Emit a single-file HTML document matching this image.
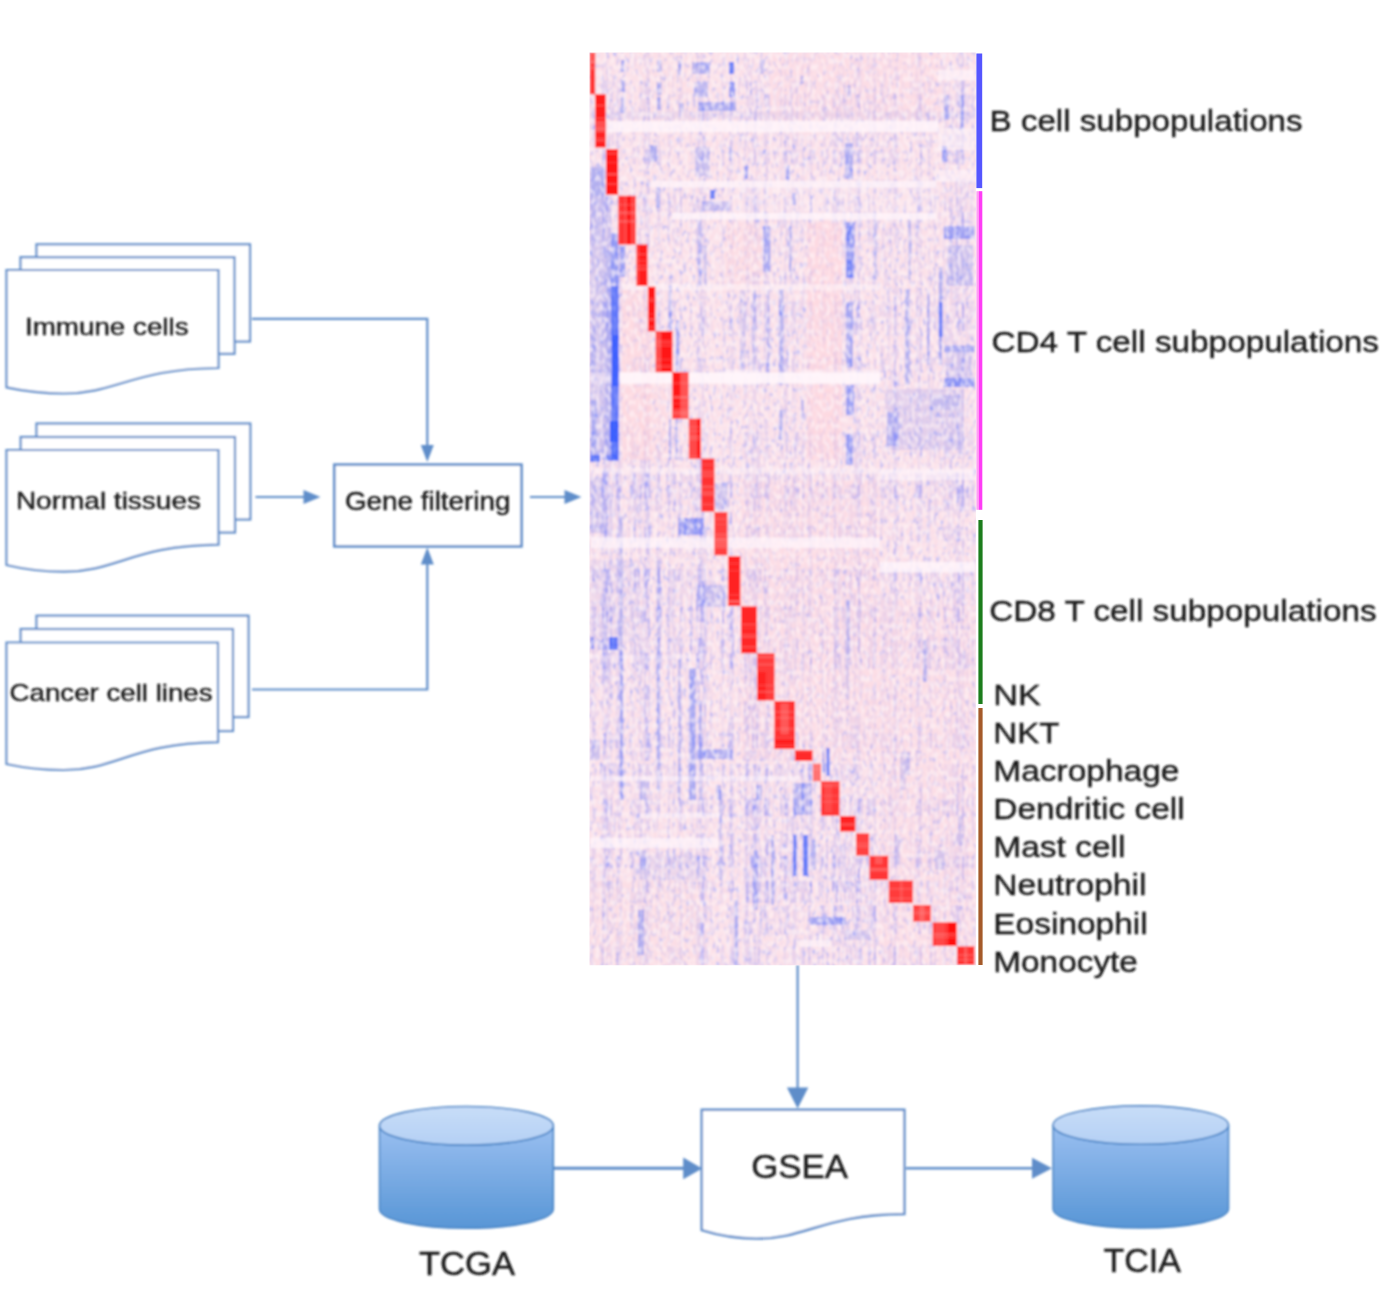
<!DOCTYPE html>
<html lang="en"><head><meta charset="utf-8"><title>Immune cell gene set workflow</title>
<style>html,body{margin:0;padding:0;background:#fff}body{width:1380px;height:1290px;overflow:hidden}svg{display:block}text{font-family:"Liberation Sans", Arial, Helvetica, sans-serif;fill:#161616;stroke:#161616;stroke-width:0.35px}</style></head><body>
<svg width="1380" height="1290" viewBox="0 0 1380 1290">
<defs>
<linearGradient id="cylBody" x1="0" y1="0" x2="0" y2="1"><stop offset="0" stop-color="#9abff0"/><stop offset="1" stop-color="#5896d6"/></linearGradient>
<linearGradient id="cylTop" x1="0" y1="0" x2="0" y2="1"><stop offset="0" stop-color="#c8ddf8"/><stop offset="1" stop-color="#b4d0f4"/></linearGradient>
<filter id="soft" x="-2%" y="-2%" width="104%" height="104%"><feGaussianBlur stdDeviation="0.8"/></filter>
<filter id="soft2" x="-50%" y="-1%" width="200%" height="102%"><feGaussianBlur stdDeviation="0.6"/></filter>
</defs>
<rect width="1380" height="1290" fill="#ffffff"/>
<g id="flow" filter="url(#soft)">
<rect x="36.5" y="244.3" width="213.5" height="97.2" fill="#fff" stroke="#5f8dc9" stroke-width="2.2"/>
<rect x="20.5" y="257.2" width="214.0" height="96.6" fill="#fff" stroke="#5f8dc9" stroke-width="2.2"/>
<path d="M6.5 270.0 H218.5 V368.0 C133.7 368.5 116.7 393.5 63.7 393.5 C36.2 393.5 19.2 390.1 6.5 387.4 Z" fill="#fff" stroke="#5f8dc9" stroke-width="2.2" stroke-linejoin="miter"/>
<rect x="36.5" y="423.5" width="213.8" height="96.0" fill="#fff" stroke="#5f8dc9" stroke-width="2.2"/>
<rect x="20.7" y="437.0" width="214.3" height="95.5" fill="#fff" stroke="#5f8dc9" stroke-width="2.2"/>
<path d="M6.5 450.0 H218.5 V544.6 C133.7 545.1 116.7 571.7 63.7 571.7 C36.2 571.7 19.2 568.0 6.5 565.0 Z" fill="#fff" stroke="#5f8dc9" stroke-width="2.2" stroke-linejoin="miter"/>
<rect x="36.5" y="615.7" width="212.0" height="101.3" fill="#fff" stroke="#5f8dc9" stroke-width="2.2"/>
<rect x="20.7" y="629.0" width="212.3" height="102.0" fill="#fff" stroke="#5f8dc9" stroke-width="2.2"/>
<path d="M6.5 642.5 H218.0 V742.2 C133.4 742.7 116.5 770.0 63.6 770.0 C36.1 770.0 19.2 766.7 6.5 764.0 Z" fill="#fff" stroke="#5f8dc9" stroke-width="2.2" stroke-linejoin="miter"/>
<path d="M252 318.8 H427.3 V446" fill="none" stroke="#5f8dc9" stroke-width="2.2"/>
<path d="M427.3 462.0 L420.8 445.0 L433.8 445.0 Z" fill="#5f8dc9"/>
<path d="M255.5 497 H305" fill="none" stroke="#5f8dc9" stroke-width="2.2"/>
<path d="M320.5 497.0 L303.5 490.0 L303.5 504.0 Z" fill="#5f8dc9"/>
<path d="M252 689.5 H427.3 V563" fill="none" stroke="#5f8dc9" stroke-width="2.2"/>
<path d="M427.3 547.5 L420.8 564.5 L433.8 564.5 Z" fill="#5f8dc9"/>
<path d="M530 497 H566" fill="none" stroke="#5f8dc9" stroke-width="2.2"/>
<path d="M581.5 497.0 L564.5 490.0 L564.5 504.0 Z" fill="#5f8dc9"/>
<rect x="334.3" y="464.6" width="187.2" height="81.8" fill="#fff" stroke="#5f8dc9" stroke-width="2.6"/>
<path d="M797.6 965 V1090" fill="none" stroke="#5f8dc9" stroke-width="2.2"/>
<path d="M797.6 1108.6 L786.9 1087.6 L808.3 1087.6 Z" fill="#5f8dc9"/>
<path d="M701.7 1109.7 H904.4 V1214.0 C823.3 1214.5 807.1 1238.6 756.4 1238.6 C730.1 1238.6 713.9 1234.0 701.7 1230.2 Z" fill="#fff" stroke="#5f8dc9" stroke-width="2.4"/>
<path d="M554 1168.3 H685" fill="none" stroke="#5f8dc9" stroke-width="3.0"/>
<path d="M702.2 1168.4 L683.2 1157.6 L683.2 1179.2 Z" fill="#5f8dc9"/>
<path d="M906 1168.3 H1034" fill="none" stroke="#5f8dc9" stroke-width="2.4"/>
<path d="M1052.0 1168.3 L1032.0 1157.8 L1032.0 1178.8 Z" fill="#5f8dc9"/>
<path d="M379.5 1125.8 V1209.0 A86.9 19.3 0 0 0 553.3 1209.0 V1125.8 A86.9 19.3 0 0 1 379.5 1125.8 Z" fill="url(#cylBody)" stroke="#4a85c6" stroke-width="1.6"/>
<ellipse cx="466.4" cy="1125.8" rx="86.9" ry="19.3" fill="url(#cylTop)" stroke="#4a85c6" stroke-width="1.6"/>
<path d="M1053.1 1125.1 V1208.8 A87.7 19.2 0 0 0 1228.5 1208.8 V1125.1 A87.7 19.2 0 0 1 1053.1 1125.1 Z" fill="url(#cylBody)" stroke="#4a85c6" stroke-width="1.6"/>
<ellipse cx="1140.8" cy="1125.1" rx="87.7" ry="19.2" fill="url(#cylTop)" stroke="#4a85c6" stroke-width="1.6"/>
</g>
<g id="heatmap">
<defs><filter id="hmNoise" x="0" y="0" width="100%" height="100%"><feTurbulence type="fractalNoise" baseFrequency="0.30 0.16" numOctaves="2" seed="3" result="n"/><feColorMatrix in="n" type="matrix" values="0 0 0 0 0.30  0 0 0 0 0.36  0 0 0 0 1  0 0 2.4 0 -1.30"/></filter><filter id="hmNoiseR" x="0" y="0" width="100%" height="100%"><feTurbulence type="fractalNoise" baseFrequency="0.3 0.2" numOctaves="2" seed="11" result="n"/><feColorMatrix in="n" type="matrix" values="0 0 0 0 1  0 0 0 0 0.72  0 0 0 0 0.76  0 2.4 0 0 -1.05"/></filter><filter id="hmBreak" x="0" y="0" width="100%" height="100%"><feTurbulence type="fractalNoise" baseFrequency="0.26 0.17" numOctaves="1" seed="23" result="n"/><feColorMatrix in="n" type="matrix" values="0 0 0 0 1  0 0 0 0 0.90  0 0 0 0 0.93  3.2 0 0 0 -1.35"/></filter><filter id="hmBlur" x="-2%" y="-2%" width="104%" height="104%"><feGaussianBlur stdDeviation="1.1"/></filter><clipPath id="hmClip"><rect x="589.5" y="52.6" width="386.4" height="912.6"/></clipPath><filter id="hmEdge" x="-2%" y="-1%" width="104%" height="102%"><feGaussianBlur stdDeviation="0.5"/></filter></defs>
<g filter="url(#hmEdge)"><g clip-path="url(#hmClip)"><g filter="url(#hmBlur)">
<rect x="585.7" y="48.8" width="393.7" height="920.2" fill="#fbe1e9"/>
<rect x="585.7" y="48.8" width="393.7" height="920.2" filter="url(#hmNoise)"/>
<rect x="585.7" y="48.8" width="393.7" height="920.2" filter="url(#hmNoiseR)" opacity="0.5"/>
<path d="M606 52.6h2v13.9h-2zM616 52.6h2v13.9h-2zM634 52.6h2v13.9h-2zM646 52.6h2v13.9h-2zM648 52.6h2v13.9h-2zM658 52.6h2v13.9h-2zM680 52.6h2v13.9h-2zM696 52.6h2v13.9h-2zM702 52.6h2v13.9h-2zM722 52.6h2v13.9h-2zM752 52.6h2v13.9h-2zM760 52.6h2v13.9h-2zM768 52.6h2v13.9h-2zM786 52.6h2v13.9h-2zM792 52.6h2v13.9h-2zM796 52.6h2v13.9h-2zM802 52.6h2v13.9h-2zM810 52.6h2v13.9h-2zM826 52.6h2v13.9h-2zM850 52.6h2v13.9h-2zM854 52.6h2v13.9h-2zM856 52.6h2v13.9h-2zM858 52.6h2v13.9h-2zM860 52.6h2v13.9h-2zM868 52.6h2v13.9h-2zM872 52.6h2v13.9h-2zM888 52.6h2v13.9h-2zM896 52.6h2v13.9h-2zM920 52.6h2v13.9h-2zM958 52.6h2v13.9h-2zM960 52.6h2v13.9h-2zM966 52.6h2v13.9h-2zM602 66.5h2v13.9h-2zM608 66.5h2v13.9h-2zM648 66.5h2v13.9h-2zM660 66.5h2v13.9h-2zM668 66.5h2v13.9h-2zM680 66.5h2v13.9h-2zM696 66.5h2v13.9h-2zM698 66.5h2v13.9h-2zM700 66.5h2v13.9h-2zM722 66.5h2v13.9h-2zM730 66.5h2v13.9h-2zM746 66.5h2v13.9h-2zM748 66.5h2v13.9h-2zM750 66.5h2v13.9h-2zM766 66.5h2v13.9h-2zM768 66.5h2v13.9h-2zM784 66.5h2v13.9h-2zM802 66.5h2v13.9h-2zM838 66.5h2v13.9h-2zM842 66.5h2v13.9h-2zM860 66.5h2v13.9h-2zM868 66.5h2v13.9h-2zM872 66.5h2v13.9h-2zM874 66.5h2v13.9h-2zM884 66.5h2v13.9h-2zM916 66.5h2v13.9h-2zM942 66.5h2v13.9h-2zM944 66.5h2v13.9h-2zM612 80.4h2v13.9h-2zM616 80.4h2v13.9h-2zM630 80.4h2v13.9h-2zM640 80.4h2v13.9h-2zM642 80.4h2v13.9h-2zM656 80.4h2v13.9h-2zM672 80.4h2v13.9h-2zM696 80.4h2v13.9h-2zM702 80.4h2v13.9h-2zM706 80.4h2v13.9h-2zM730 80.4h2v13.9h-2zM732 80.4h2v13.9h-2zM738 80.4h2v13.9h-2zM754 80.4h2v13.9h-2zM766 80.4h2v13.9h-2zM804 80.4h2v13.9h-2zM834 80.4h2v13.9h-2zM844 80.4h2v13.9h-2zM870 80.4h2v13.9h-2zM884 80.4h2v13.9h-2zM902 80.4h2v13.9h-2zM916 80.4h2v13.9h-2zM934 80.4h2v13.9h-2zM942 80.4h2v13.9h-2zM948 80.4h2v13.9h-2zM958 80.4h2v13.9h-2zM972 80.4h2v13.9h-2zM590 94.3h2v13.3h-2zM592 94.3h2v13.3h-2zM608 94.3h2v13.3h-2zM612 94.3h2v13.3h-2zM630 94.3h2v13.3h-2zM642 94.3h2v13.3h-2zM656 94.3h2v13.3h-2zM666 94.3h2v13.3h-2zM686 94.3h2v13.3h-2zM692 94.3h2v13.3h-2zM702 94.3h2v13.3h-2zM704 94.3h2v13.3h-2zM746 94.3h2v13.3h-2zM750 94.3h2v13.3h-2zM752 94.3h2v13.3h-2zM758 94.3h2v13.3h-2zM760 94.3h2v13.3h-2zM786 94.3h2v13.3h-2zM790 94.3h2v13.3h-2zM800 94.3h2v13.3h-2zM804 94.3h2v13.3h-2zM810 94.3h2v13.3h-2zM816 94.3h2v13.3h-2zM820 94.3h2v13.3h-2zM840 94.3h2v13.3h-2zM854 94.3h2v13.3h-2zM866 94.3h2v13.3h-2zM868 94.3h2v13.3h-2zM872 94.3h2v13.3h-2zM880 94.3h2v13.3h-2zM886 94.3h2v13.3h-2zM890 94.3h2v13.3h-2zM892 94.3h2v13.3h-2zM896 94.3h2v13.3h-2zM916 94.3h2v13.3h-2zM938 94.3h2v13.3h-2zM942 94.3h2v13.3h-2zM954 94.3h2v13.3h-2zM616 107.6h2v13.3h-2zM630 107.6h2v13.3h-2zM638 107.6h2v13.3h-2zM644 107.6h2v13.3h-2zM646 107.6h2v13.3h-2zM656 107.6h2v13.3h-2zM660 107.6h2v13.3h-2zM666 107.6h2v13.3h-2zM678 107.6h2v13.3h-2zM680 107.6h2v13.3h-2zM686 107.6h2v13.3h-2zM692 107.6h2v13.3h-2zM704 107.6h2v13.3h-2zM706 107.6h2v13.3h-2zM710 107.6h2v13.3h-2zM730 107.6h2v13.3h-2zM744 107.6h2v13.3h-2zM746 107.6h2v13.3h-2zM748 107.6h2v13.3h-2zM750 107.6h2v13.3h-2zM802 107.6h2v13.3h-2zM820 107.6h2v13.3h-2zM824 107.6h2v13.3h-2zM832 107.6h2v13.3h-2zM840 107.6h2v13.3h-2zM846 107.6h2v13.3h-2zM848 107.6h2v13.3h-2zM852 107.6h2v13.3h-2zM866 107.6h2v13.3h-2zM870 107.6h2v13.3h-2zM872 107.6h2v13.3h-2zM880 107.6h2v13.3h-2zM884 107.6h2v13.3h-2zM886 107.6h2v13.3h-2zM896 107.6h2v13.3h-2zM900 107.6h2v13.3h-2zM902 107.6h2v13.3h-2zM914 107.6h2v13.3h-2zM926 107.6h2v13.3h-2zM930 107.6h2v13.3h-2zM932 107.6h2v13.3h-2zM934 107.6h2v13.3h-2zM956 107.6h2v13.3h-2zM964 107.6h2v13.3h-2zM968 107.6h2v13.3h-2zM594 120.9h2v13.3h-2zM612 120.9h2v13.3h-2zM632 120.9h2v13.3h-2zM634 120.9h2v13.3h-2zM642 120.9h2v13.3h-2zM646 120.9h2v13.3h-2zM648 120.9h2v13.3h-2zM668 120.9h2v13.3h-2zM690 120.9h2v13.3h-2zM704 120.9h2v13.3h-2zM732 120.9h2v13.3h-2zM744 120.9h2v13.3h-2zM746 120.9h2v13.3h-2zM750 120.9h2v13.3h-2zM764 120.9h2v13.3h-2zM766 120.9h2v13.3h-2zM780 120.9h2v13.3h-2zM784 120.9h2v13.3h-2zM788 120.9h2v13.3h-2zM790 120.9h2v13.3h-2zM796 120.9h2v13.3h-2zM826 120.9h2v13.3h-2zM840 120.9h2v13.3h-2zM846 120.9h2v13.3h-2zM848 120.9h2v13.3h-2zM850 120.9h2v13.3h-2zM870 120.9h2v13.3h-2zM872 120.9h2v13.3h-2zM884 120.9h2v13.3h-2zM886 120.9h2v13.3h-2zM890 120.9h2v13.3h-2zM892 120.9h2v13.3h-2zM910 120.9h2v13.3h-2zM920 120.9h2v13.3h-2zM930 120.9h2v13.3h-2zM934 120.9h2v13.3h-2zM946 120.9h2v13.3h-2zM950 120.9h2v13.3h-2zM592 134.2h2v13.3h-2zM594 134.2h2v13.3h-2zM608 134.2h2v13.3h-2zM610 134.2h2v13.3h-2zM612 134.2h2v13.3h-2zM618 134.2h2v13.3h-2zM620 134.2h2v13.3h-2zM640 134.2h2v13.3h-2zM644 134.2h2v13.3h-2zM646 134.2h2v13.3h-2zM656 134.2h2v13.3h-2zM658 134.2h2v13.3h-2zM690 134.2h2v13.3h-2zM696 134.2h2v13.3h-2zM700 134.2h2v13.3h-2zM722 134.2h2v13.3h-2zM738 134.2h2v13.3h-2zM756 134.2h2v13.3h-2zM766 134.2h2v13.3h-2zM788 134.2h2v13.3h-2zM794 134.2h2v13.3h-2zM800 134.2h2v13.3h-2zM802 134.2h2v13.3h-2zM822 134.2h2v13.3h-2zM824 134.2h2v13.3h-2zM832 134.2h2v13.3h-2zM838 134.2h2v13.3h-2zM846 134.2h2v13.3h-2zM848 134.2h2v13.3h-2zM852 134.2h2v13.3h-2zM866 134.2h2v13.3h-2zM870 134.2h2v13.3h-2zM874 134.2h2v13.3h-2zM882 134.2h2v13.3h-2zM884 134.2h2v13.3h-2zM888 134.2h2v13.3h-2zM892 134.2h2v13.3h-2zM896 134.2h2v13.3h-2zM910 134.2h2v13.3h-2zM916 134.2h2v13.3h-2zM918 134.2h2v13.3h-2zM946 134.2h2v13.3h-2zM952 134.2h2v13.3h-2zM954 134.2h2v13.3h-2zM966 134.2h2v13.3h-2zM970 134.2h2v13.3h-2zM594 149.3h2v15.1h-2zM620 149.3h2v15.1h-2zM632 149.3h2v15.1h-2zM638 149.3h2v15.1h-2zM656 149.3h2v15.1h-2zM678 149.3h2v15.1h-2zM692 149.3h2v15.1h-2zM698 149.3h2v15.1h-2zM706 149.3h2v15.1h-2zM738 149.3h2v15.1h-2zM748 149.3h2v15.1h-2zM750 149.3h2v15.1h-2zM752 149.3h2v15.1h-2zM768 149.3h2v15.1h-2zM782 149.3h2v15.1h-2zM790 149.3h2v15.1h-2zM812 149.3h2v15.1h-2zM824 149.3h2v15.1h-2zM852 149.3h2v15.1h-2zM856 149.3h2v15.1h-2zM866 149.3h2v15.1h-2zM868 149.3h2v15.1h-2zM872 149.3h2v15.1h-2zM884 149.3h2v15.1h-2zM888 149.3h2v15.1h-2zM896 149.3h2v15.1h-2zM910 149.3h2v15.1h-2zM946 149.3h2v15.1h-2zM948 149.3h2v15.1h-2zM950 149.3h2v15.1h-2zM954 149.3h2v15.1h-2zM604 164.4h2v15.1h-2zM658 164.4h2v15.1h-2zM668 164.4h2v15.1h-2zM702 164.4h2v15.1h-2zM728 164.4h2v15.1h-2zM756 164.4h2v15.1h-2zM780 164.4h2v15.1h-2zM786 164.4h2v15.1h-2zM802 164.4h2v15.1h-2zM822 164.4h2v15.1h-2zM838 164.4h2v15.1h-2zM868 164.4h2v15.1h-2zM894 164.4h2v15.1h-2zM916 164.4h2v15.1h-2zM920 164.4h2v15.1h-2zM928 164.4h2v15.1h-2zM930 164.4h2v15.1h-2zM944 164.4h2v15.1h-2zM946 164.4h2v15.1h-2zM590 179.6h2v15.1h-2zM640 179.6h2v15.1h-2zM642 179.6h2v15.1h-2zM658 179.6h2v15.1h-2zM692 179.6h2v15.1h-2zM698 179.6h2v15.1h-2zM704 179.6h2v15.1h-2zM746 179.6h2v15.1h-2zM748 179.6h2v15.1h-2zM750 179.6h2v15.1h-2zM754 179.6h2v15.1h-2zM756 179.6h2v15.1h-2zM784 179.6h2v15.1h-2zM790 179.6h2v15.1h-2zM794 179.6h2v15.1h-2zM832 179.6h2v15.1h-2zM836 179.6h2v15.1h-2zM842 179.6h2v15.1h-2zM850 179.6h2v15.1h-2zM854 179.6h2v15.1h-2zM866 179.6h2v15.1h-2zM872 179.6h2v15.1h-2zM880 179.6h2v15.1h-2zM882 179.6h2v15.1h-2zM884 179.6h2v15.1h-2zM886 179.6h2v15.1h-2zM890 179.6h2v15.1h-2zM892 179.6h2v15.1h-2zM930 179.6h2v15.1h-2zM934 179.6h2v15.1h-2zM942 179.6h2v15.1h-2zM950 179.6h2v15.1h-2zM954 179.6h2v15.1h-2zM964 179.6h2v15.1h-2zM968 179.6h2v15.1h-2zM972 179.6h2v15.1h-2zM612 195.8h2v16.2h-2zM616 195.8h2v16.2h-2zM638 195.8h2v16.2h-2zM656 195.8h2v16.2h-2zM672 195.8h2v16.2h-2zM690 195.8h2v16.2h-2zM692 195.8h2v16.2h-2zM700 195.8h2v16.2h-2zM758 195.8h2v16.2h-2zM778 195.8h2v16.2h-2zM786 195.8h2v16.2h-2zM788 195.8h2v16.2h-2zM790 195.8h2v16.2h-2zM794 195.8h2v16.2h-2zM798 195.8h2v16.2h-2zM802 195.8h2v16.2h-2zM824 195.8h2v16.2h-2zM840 195.8h2v16.2h-2zM860 195.8h2v16.2h-2zM874 195.8h2v16.2h-2zM886 195.8h2v16.2h-2zM888 195.8h2v16.2h-2zM896 195.8h2v16.2h-2zM926 195.8h2v16.2h-2zM928 195.8h2v16.2h-2zM952 195.8h2v16.2h-2zM958 195.8h2v16.2h-2zM962 195.8h2v16.2h-2zM964 195.8h2v16.2h-2zM966 195.8h2v16.2h-2zM972 195.8h2v16.2h-2zM590 212.0h2v16.2h-2zM592 212.0h2v16.2h-2zM604 212.0h2v16.2h-2zM616 212.0h2v16.2h-2zM644 212.0h2v16.2h-2zM648 212.0h2v16.2h-2zM656 212.0h2v16.2h-2zM674 212.0h2v16.2h-2zM692 212.0h2v16.2h-2zM700 212.0h2v16.2h-2zM702 212.0h2v16.2h-2zM704 212.0h2v16.2h-2zM746 212.0h2v16.2h-2zM760 212.0h2v16.2h-2zM778 212.0h2v16.2h-2zM782 212.0h2v16.2h-2zM786 212.0h2v16.2h-2zM792 212.0h2v16.2h-2zM794 212.0h2v16.2h-2zM800 212.0h2v16.2h-2zM804 212.0h2v16.2h-2zM808 212.0h2v16.2h-2zM812 212.0h2v16.2h-2zM822 212.0h2v16.2h-2zM836 212.0h2v16.2h-2zM840 212.0h2v16.2h-2zM842 212.0h2v16.2h-2zM856 212.0h2v16.2h-2zM866 212.0h2v16.2h-2zM890 212.0h2v16.2h-2zM892 212.0h2v16.2h-2zM894 212.0h2v16.2h-2zM896 212.0h2v16.2h-2zM908 212.0h2v16.2h-2zM914 212.0h2v16.2h-2zM932 212.0h2v16.2h-2zM934 212.0h2v16.2h-2zM938 212.0h2v16.2h-2zM944 212.0h2v16.2h-2zM956 212.0h2v16.2h-2zM968 212.0h2v16.2h-2zM970 212.0h2v16.2h-2zM972 212.0h2v16.2h-2zM604 228.3h2v16.2h-2zM640 228.3h2v16.2h-2zM644 228.3h2v16.2h-2zM646 228.3h2v16.2h-2zM672 228.3h2v16.2h-2zM680 228.3h2v16.2h-2zM700 228.3h2v16.2h-2zM746 228.3h2v16.2h-2zM748 228.3h2v16.2h-2zM754 228.3h2v16.2h-2zM758 228.3h2v16.2h-2zM764 228.3h2v16.2h-2zM768 228.3h2v16.2h-2zM792 228.3h2v16.2h-2zM796 228.3h2v16.2h-2zM818 228.3h2v16.2h-2zM820 228.3h2v16.2h-2zM824 228.3h2v16.2h-2zM836 228.3h2v16.2h-2zM842 228.3h2v16.2h-2zM854 228.3h2v16.2h-2zM870 228.3h2v16.2h-2zM886 228.3h2v16.2h-2zM898 228.3h2v16.2h-2zM914 228.3h2v16.2h-2zM918 228.3h2v16.2h-2zM920 228.3h2v16.2h-2zM942 228.3h2v16.2h-2zM944 228.3h2v16.2h-2zM952 228.3h2v16.2h-2zM960 228.3h2v16.2h-2zM962 228.3h2v16.2h-2zM964 228.3h2v16.2h-2zM968 228.3h2v16.2h-2zM590 244.5h2v13.8h-2zM592 244.5h2v13.8h-2zM600 244.5h2v13.8h-2zM602 244.5h2v13.8h-2zM616 244.5h2v13.8h-2zM634 244.5h2v13.8h-2zM648 244.5h2v13.8h-2zM660 244.5h2v13.8h-2zM674 244.5h2v13.8h-2zM680 244.5h2v13.8h-2zM690 244.5h2v13.8h-2zM730 244.5h2v13.8h-2zM744 244.5h2v13.8h-2zM746 244.5h2v13.8h-2zM748 244.5h2v13.8h-2zM756 244.5h2v13.8h-2zM760 244.5h2v13.8h-2zM766 244.5h2v13.8h-2zM778 244.5h2v13.8h-2zM784 244.5h2v13.8h-2zM804 244.5h2v13.8h-2zM808 244.5h2v13.8h-2zM820 244.5h2v13.8h-2zM838 244.5h2v13.8h-2zM840 244.5h2v13.8h-2zM842 244.5h2v13.8h-2zM850 244.5h2v13.8h-2zM852 244.5h2v13.8h-2zM854 244.5h2v13.8h-2zM872 244.5h2v13.8h-2zM874 244.5h2v13.8h-2zM880 244.5h2v13.8h-2zM882 244.5h2v13.8h-2zM884 244.5h2v13.8h-2zM888 244.5h2v13.8h-2zM890 244.5h2v13.8h-2zM910 244.5h2v13.8h-2zM918 244.5h2v13.8h-2zM942 244.5h2v13.8h-2zM950 244.5h2v13.8h-2zM952 244.5h2v13.8h-2zM972 244.5h2v13.8h-2zM592 258.3h2v13.8h-2zM608 258.3h2v13.8h-2zM612 258.3h2v13.8h-2zM616 258.3h2v13.8h-2zM620 258.3h2v13.8h-2zM658 258.3h2v13.8h-2zM660 258.3h2v13.8h-2zM696 258.3h2v13.8h-2zM702 258.3h2v13.8h-2zM722 258.3h2v13.8h-2zM728 258.3h2v13.8h-2zM732 258.3h2v13.8h-2zM756 258.3h2v13.8h-2zM764 258.3h2v13.8h-2zM768 258.3h2v13.8h-2zM784 258.3h2v13.8h-2zM790 258.3h2v13.8h-2zM794 258.3h2v13.8h-2zM826 258.3h2v13.8h-2zM854 258.3h2v13.8h-2zM856 258.3h2v13.8h-2zM860 258.3h2v13.8h-2zM884 258.3h2v13.8h-2zM890 258.3h2v13.8h-2zM916 258.3h2v13.8h-2zM918 258.3h2v13.8h-2zM928 258.3h2v13.8h-2zM934 258.3h2v13.8h-2zM944 258.3h2v13.8h-2zM950 258.3h2v13.8h-2zM958 258.3h2v13.8h-2zM966 258.3h2v13.8h-2zM600 272.0h2v13.8h-2zM606 272.0h2v13.8h-2zM612 272.0h2v13.8h-2zM668 272.0h2v13.8h-2zM670 272.0h2v13.8h-2zM672 272.0h2v13.8h-2zM702 272.0h2v13.8h-2zM704 272.0h2v13.8h-2zM728 272.0h2v13.8h-2zM744 272.0h2v13.8h-2zM756 272.0h2v13.8h-2zM768 272.0h2v13.8h-2zM780 272.0h2v13.8h-2zM786 272.0h2v13.8h-2zM792 272.0h2v13.8h-2zM794 272.0h2v13.8h-2zM812 272.0h2v13.8h-2zM838 272.0h2v13.8h-2zM842 272.0h2v13.8h-2zM844 272.0h2v13.8h-2zM846 272.0h2v13.8h-2zM856 272.0h2v13.8h-2zM862 272.0h2v13.8h-2zM868 272.0h2v13.8h-2zM886 272.0h2v13.8h-2zM894 272.0h2v13.8h-2zM918 272.0h2v13.8h-2zM928 272.0h2v13.8h-2zM938 272.0h2v13.8h-2zM950 272.0h2v13.8h-2zM952 272.0h2v13.8h-2zM962 272.0h2v13.8h-2zM966 272.0h2v13.8h-2zM968 272.0h2v13.8h-2zM970 272.0h2v13.8h-2zM600 286.7h2v14.9h-2zM620 286.7h2v14.9h-2zM630 286.7h2v14.9h-2zM646 286.7h2v14.9h-2zM660 286.7h2v14.9h-2zM680 286.7h2v14.9h-2zM698 286.7h2v14.9h-2zM700 286.7h2v14.9h-2zM702 286.7h2v14.9h-2zM704 286.7h2v14.9h-2zM728 286.7h2v14.9h-2zM744 286.7h2v14.9h-2zM758 286.7h2v14.9h-2zM764 286.7h2v14.9h-2zM786 286.7h2v14.9h-2zM792 286.7h2v14.9h-2zM804 286.7h2v14.9h-2zM822 286.7h2v14.9h-2zM834 286.7h2v14.9h-2zM842 286.7h2v14.9h-2zM846 286.7h2v14.9h-2zM856 286.7h2v14.9h-2zM872 286.7h2v14.9h-2zM874 286.7h2v14.9h-2zM888 286.7h2v14.9h-2zM918 286.7h2v14.9h-2zM920 286.7h2v14.9h-2zM928 286.7h2v14.9h-2zM942 286.7h2v14.9h-2zM946 286.7h2v14.9h-2zM950 286.7h2v14.9h-2zM952 286.7h2v14.9h-2zM954 286.7h2v14.9h-2zM964 286.7h2v14.9h-2zM966 286.7h2v14.9h-2zM970 286.7h2v14.9h-2zM594 301.6h2v14.9h-2zM600 301.6h2v14.9h-2zM612 301.6h2v14.9h-2zM628 301.6h2v14.9h-2zM646 301.6h2v14.9h-2zM660 301.6h2v14.9h-2zM690 301.6h2v14.9h-2zM728 301.6h2v14.9h-2zM738 301.6h2v14.9h-2zM766 301.6h2v14.9h-2zM778 301.6h2v14.9h-2zM780 301.6h2v14.9h-2zM782 301.6h2v14.9h-2zM784 301.6h2v14.9h-2zM786 301.6h2v14.9h-2zM790 301.6h2v14.9h-2zM794 301.6h2v14.9h-2zM796 301.6h2v14.9h-2zM798 301.6h2v14.9h-2zM800 301.6h2v14.9h-2zM820 301.6h2v14.9h-2zM824 301.6h2v14.9h-2zM826 301.6h2v14.9h-2zM838 301.6h2v14.9h-2zM840 301.6h2v14.9h-2zM846 301.6h2v14.9h-2zM868 301.6h2v14.9h-2zM870 301.6h2v14.9h-2zM874 301.6h2v14.9h-2zM880 301.6h2v14.9h-2zM882 301.6h2v14.9h-2zM886 301.6h2v14.9h-2zM890 301.6h2v14.9h-2zM918 301.6h2v14.9h-2zM928 301.6h2v14.9h-2zM930 301.6h2v14.9h-2zM932 301.6h2v14.9h-2zM944 301.6h2v14.9h-2zM946 301.6h2v14.9h-2zM950 301.6h2v14.9h-2zM952 301.6h2v14.9h-2zM954 301.6h2v14.9h-2zM958 301.6h2v14.9h-2zM964 301.6h2v14.9h-2zM968 301.6h2v14.9h-2zM972 301.6h2v14.9h-2zM594 316.4h2v14.9h-2zM600 316.4h2v14.9h-2zM610 316.4h2v14.9h-2zM612 316.4h2v14.9h-2zM636 316.4h2v14.9h-2zM640 316.4h2v14.9h-2zM644 316.4h2v14.9h-2zM656 316.4h2v14.9h-2zM660 316.4h2v14.9h-2zM670 316.4h2v14.9h-2zM680 316.4h2v14.9h-2zM706 316.4h2v14.9h-2zM710 316.4h2v14.9h-2zM738 316.4h2v14.9h-2zM748 316.4h2v14.9h-2zM756 316.4h2v14.9h-2zM758 316.4h2v14.9h-2zM782 316.4h2v14.9h-2zM784 316.4h2v14.9h-2zM786 316.4h2v14.9h-2zM790 316.4h2v14.9h-2zM798 316.4h2v14.9h-2zM802 316.4h2v14.9h-2zM804 316.4h2v14.9h-2zM808 316.4h2v14.9h-2zM818 316.4h2v14.9h-2zM832 316.4h2v14.9h-2zM840 316.4h2v14.9h-2zM842 316.4h2v14.9h-2zM844 316.4h2v14.9h-2zM846 316.4h2v14.9h-2zM868 316.4h2v14.9h-2zM870 316.4h2v14.9h-2zM882 316.4h2v14.9h-2zM886 316.4h2v14.9h-2zM888 316.4h2v14.9h-2zM890 316.4h2v14.9h-2zM896 316.4h2v14.9h-2zM902 316.4h2v14.9h-2zM904 316.4h2v14.9h-2zM908 316.4h2v14.9h-2zM914 316.4h2v14.9h-2zM918 316.4h2v14.9h-2zM926 316.4h2v14.9h-2zM928 316.4h2v14.9h-2zM930 316.4h2v14.9h-2zM936 316.4h2v14.9h-2zM956 316.4h2v14.9h-2zM968 316.4h2v14.9h-2zM592 331.3h2v13.6h-2zM610 331.3h2v13.6h-2zM612 331.3h2v13.6h-2zM632 331.3h2v13.6h-2zM634 331.3h2v13.6h-2zM640 331.3h2v13.6h-2zM646 331.3h2v13.6h-2zM678 331.3h2v13.6h-2zM696 331.3h2v13.6h-2zM698 331.3h2v13.6h-2zM750 331.3h2v13.6h-2zM760 331.3h2v13.6h-2zM768 331.3h2v13.6h-2zM782 331.3h2v13.6h-2zM788 331.3h2v13.6h-2zM792 331.3h2v13.6h-2zM804 331.3h2v13.6h-2zM810 331.3h2v13.6h-2zM822 331.3h2v13.6h-2zM842 331.3h2v13.6h-2zM870 331.3h2v13.6h-2zM888 331.3h2v13.6h-2zM896 331.3h2v13.6h-2zM910 331.3h2v13.6h-2zM918 331.3h2v13.6h-2zM928 331.3h2v13.6h-2zM942 331.3h2v13.6h-2zM946 331.3h2v13.6h-2zM948 331.3h2v13.6h-2zM952 331.3h2v13.6h-2zM954 331.3h2v13.6h-2zM956 331.3h2v13.6h-2zM960 331.3h2v13.6h-2zM966 331.3h2v13.6h-2zM968 331.3h2v13.6h-2zM590 344.9h2v13.6h-2zM594 344.9h2v13.6h-2zM600 344.9h2v13.6h-2zM602 344.9h2v13.6h-2zM606 344.9h2v13.6h-2zM608 344.9h2v13.6h-2zM616 344.9h2v13.6h-2zM618 344.9h2v13.6h-2zM642 344.9h2v13.6h-2zM648 344.9h2v13.6h-2zM674 344.9h2v13.6h-2zM696 344.9h2v13.6h-2zM700 344.9h2v13.6h-2zM722 344.9h2v13.6h-2zM730 344.9h2v13.6h-2zM732 344.9h2v13.6h-2zM748 344.9h2v13.6h-2zM768 344.9h2v13.6h-2zM786 344.9h2v13.6h-2zM802 344.9h2v13.6h-2zM810 344.9h2v13.6h-2zM834 344.9h2v13.6h-2zM840 344.9h2v13.6h-2zM844 344.9h2v13.6h-2zM846 344.9h2v13.6h-2zM856 344.9h2v13.6h-2zM880 344.9h2v13.6h-2zM882 344.9h2v13.6h-2zM888 344.9h2v13.6h-2zM892 344.9h2v13.6h-2zM918 344.9h2v13.6h-2zM930 344.9h2v13.6h-2zM950 344.9h2v13.6h-2zM952 344.9h2v13.6h-2zM956 344.9h2v13.6h-2zM958 344.9h2v13.6h-2zM960 344.9h2v13.6h-2zM966 344.9h2v13.6h-2zM968 344.9h2v13.6h-2zM970 344.9h2v13.6h-2zM604 358.6h2v13.6h-2zM620 358.6h2v13.6h-2zM630 358.6h2v13.6h-2zM632 358.6h2v13.6h-2zM646 358.6h2v13.6h-2zM654 358.6h2v13.6h-2zM696 358.6h2v13.6h-2zM702 358.6h2v13.6h-2zM704 358.6h2v13.6h-2zM722 358.6h2v13.6h-2zM728 358.6h2v13.6h-2zM738 358.6h2v13.6h-2zM744 358.6h2v13.6h-2zM756 358.6h2v13.6h-2zM778 358.6h2v13.6h-2zM782 358.6h2v13.6h-2zM802 358.6h2v13.6h-2zM812 358.6h2v13.6h-2zM818 358.6h2v13.6h-2zM840 358.6h2v13.6h-2zM868 358.6h2v13.6h-2zM880 358.6h2v13.6h-2zM884 358.6h2v13.6h-2zM890 358.6h2v13.6h-2zM904 358.6h2v13.6h-2zM908 358.6h2v13.6h-2zM914 358.6h2v13.6h-2zM918 358.6h2v13.6h-2zM926 358.6h2v13.6h-2zM932 358.6h2v13.6h-2zM934 358.6h2v13.6h-2zM944 358.6h2v13.6h-2zM956 358.6h2v13.6h-2zM958 358.6h2v13.6h-2zM592 372.2h2v15.5h-2zM606 372.2h2v15.5h-2zM612 372.2h2v15.5h-2zM656 372.2h2v15.5h-2zM698 372.2h2v15.5h-2zM706 372.2h2v15.5h-2zM722 372.2h2v15.5h-2zM730 372.2h2v15.5h-2zM738 372.2h2v15.5h-2zM744 372.2h2v15.5h-2zM750 372.2h2v15.5h-2zM762 372.2h2v15.5h-2zM766 372.2h2v15.5h-2zM786 372.2h2v15.5h-2zM796 372.2h2v15.5h-2zM824 372.2h2v15.5h-2zM834 372.2h2v15.5h-2zM840 372.2h2v15.5h-2zM842 372.2h2v15.5h-2zM854 372.2h2v15.5h-2zM858 372.2h2v15.5h-2zM866 372.2h2v15.5h-2zM890 372.2h2v15.5h-2zM896 372.2h2v15.5h-2zM898 372.2h2v15.5h-2zM914 372.2h2v15.5h-2zM920 372.2h2v15.5h-2zM932 372.2h2v15.5h-2zM938 372.2h2v15.5h-2zM944 372.2h2v15.5h-2zM972 372.2h2v15.5h-2zM602 387.7h2v15.5h-2zM610 387.7h2v15.5h-2zM616 387.7h2v15.5h-2zM618 387.7h2v15.5h-2zM620 387.7h2v15.5h-2zM640 387.7h2v15.5h-2zM642 387.7h2v15.5h-2zM658 387.7h2v15.5h-2zM668 387.7h2v15.5h-2zM732 387.7h2v15.5h-2zM744 387.7h2v15.5h-2zM746 387.7h2v15.5h-2zM752 387.7h2v15.5h-2zM764 387.7h2v15.5h-2zM768 387.7h2v15.5h-2zM786 387.7h2v15.5h-2zM792 387.7h2v15.5h-2zM794 387.7h2v15.5h-2zM838 387.7h2v15.5h-2zM844 387.7h2v15.5h-2zM848 387.7h2v15.5h-2zM860 387.7h2v15.5h-2zM872 387.7h2v15.5h-2zM874 387.7h2v15.5h-2zM896 387.7h2v15.5h-2zM916 387.7h2v15.5h-2zM920 387.7h2v15.5h-2zM948 387.7h2v15.5h-2zM602 403.2h2v15.5h-2zM606 403.2h2v15.5h-2zM618 403.2h2v15.5h-2zM620 403.2h2v15.5h-2zM646 403.2h2v15.5h-2zM648 403.2h2v15.5h-2zM700 403.2h2v15.5h-2zM702 403.2h2v15.5h-2zM722 403.2h2v15.5h-2zM728 403.2h2v15.5h-2zM730 403.2h2v15.5h-2zM750 403.2h2v15.5h-2zM758 403.2h2v15.5h-2zM780 403.2h2v15.5h-2zM786 403.2h2v15.5h-2zM790 403.2h2v15.5h-2zM794 403.2h2v15.5h-2zM802 403.2h2v15.5h-2zM808 403.2h2v15.5h-2zM834 403.2h2v15.5h-2zM836 403.2h2v15.5h-2zM838 403.2h2v15.5h-2zM842 403.2h2v15.5h-2zM852 403.2h2v15.5h-2zM856 403.2h2v15.5h-2zM872 403.2h2v15.5h-2zM892 403.2h2v15.5h-2zM896 403.2h2v15.5h-2zM910 403.2h2v15.5h-2zM930 403.2h2v15.5h-2zM934 403.2h2v15.5h-2zM950 403.2h2v15.5h-2zM952 403.2h2v15.5h-2zM958 403.2h2v15.5h-2zM966 403.2h2v15.5h-2zM972 403.2h2v15.5h-2zM592 418.7h2v13.4h-2zM604 418.7h2v13.4h-2zM606 418.7h2v13.4h-2zM620 418.7h2v13.4h-2zM644 418.7h2v13.4h-2zM658 418.7h2v13.4h-2zM702 418.7h2v13.4h-2zM748 418.7h2v13.4h-2zM752 418.7h2v13.4h-2zM760 418.7h2v13.4h-2zM780 418.7h2v13.4h-2zM784 418.7h2v13.4h-2zM790 418.7h2v13.4h-2zM792 418.7h2v13.4h-2zM794 418.7h2v13.4h-2zM810 418.7h2v13.4h-2zM834 418.7h2v13.4h-2zM868 418.7h2v13.4h-2zM874 418.7h2v13.4h-2zM882 418.7h2v13.4h-2zM896 418.7h2v13.4h-2zM920 418.7h2v13.4h-2zM930 418.7h2v13.4h-2zM942 418.7h2v13.4h-2zM946 418.7h2v13.4h-2zM952 418.7h2v13.4h-2zM960 418.7h2v13.4h-2zM590 432.1h2v13.4h-2zM596 432.1h2v13.4h-2zM600 432.1h2v13.4h-2zM602 432.1h2v13.4h-2zM608 432.1h2v13.4h-2zM618 432.1h2v13.4h-2zM630 432.1h2v13.4h-2zM632 432.1h2v13.4h-2zM634 432.1h2v13.4h-2zM640 432.1h2v13.4h-2zM658 432.1h2v13.4h-2zM666 432.1h2v13.4h-2zM674 432.1h2v13.4h-2zM748 432.1h2v13.4h-2zM764 432.1h2v13.4h-2zM798 432.1h2v13.4h-2zM804 432.1h2v13.4h-2zM812 432.1h2v13.4h-2zM816 432.1h2v13.4h-2zM818 432.1h2v13.4h-2zM820 432.1h2v13.4h-2zM844 432.1h2v13.4h-2zM848 432.1h2v13.4h-2zM852 432.1h2v13.4h-2zM860 432.1h2v13.4h-2zM862 432.1h2v13.4h-2zM870 432.1h2v13.4h-2zM880 432.1h2v13.4h-2zM886 432.1h2v13.4h-2zM892 432.1h2v13.4h-2zM900 432.1h2v13.4h-2zM902 432.1h2v13.4h-2zM904 432.1h2v13.4h-2zM908 432.1h2v13.4h-2zM914 432.1h2v13.4h-2zM916 432.1h2v13.4h-2zM930 432.1h2v13.4h-2zM934 432.1h2v13.4h-2zM954 432.1h2v13.4h-2zM956 432.1h2v13.4h-2zM966 432.1h2v13.4h-2zM968 432.1h2v13.4h-2zM590 445.6h2v13.4h-2zM606 445.6h2v13.4h-2zM608 445.6h2v13.4h-2zM612 445.6h2v13.4h-2zM628 445.6h2v13.4h-2zM630 445.6h2v13.4h-2zM636 445.6h2v13.4h-2zM640 445.6h2v13.4h-2zM656 445.6h2v13.4h-2zM668 445.6h2v13.4h-2zM670 445.6h2v13.4h-2zM686 445.6h2v13.4h-2zM702 445.6h2v13.4h-2zM722 445.6h2v13.4h-2zM732 445.6h2v13.4h-2zM746 445.6h2v13.4h-2zM754 445.6h2v13.4h-2zM764 445.6h2v13.4h-2zM768 445.6h2v13.4h-2zM780 445.6h2v13.4h-2zM782 445.6h2v13.4h-2zM796 445.6h2v13.4h-2zM800 445.6h2v13.4h-2zM820 445.6h2v13.4h-2zM826 445.6h2v13.4h-2zM842 445.6h2v13.4h-2zM852 445.6h2v13.4h-2zM854 445.6h2v13.4h-2zM864 445.6h2v13.4h-2zM868 445.6h2v13.4h-2zM872 445.6h2v13.4h-2zM882 445.6h2v13.4h-2zM884 445.6h2v13.4h-2zM910 445.6h2v13.4h-2zM916 445.6h2v13.4h-2zM918 445.6h2v13.4h-2zM938 445.6h2v13.4h-2zM946 445.6h2v13.4h-2zM948 445.6h2v13.4h-2zM952 445.6h2v13.4h-2zM956 445.6h2v13.4h-2zM964 445.6h2v13.4h-2zM968 445.6h2v13.4h-2zM592 458.6h2v13.2h-2zM602 458.6h2v13.2h-2zM612 458.6h2v13.2h-2zM616 458.6h2v13.2h-2zM620 458.6h2v13.2h-2zM632 458.6h2v13.2h-2zM646 458.6h2v13.2h-2zM660 458.6h2v13.2h-2zM744 458.6h2v13.2h-2zM754 458.6h2v13.2h-2zM764 458.6h2v13.2h-2zM780 458.6h2v13.2h-2zM792 458.6h2v13.2h-2zM794 458.6h2v13.2h-2zM822 458.6h2v13.2h-2zM840 458.6h2v13.2h-2zM844 458.6h2v13.2h-2zM850 458.6h2v13.2h-2zM866 458.6h2v13.2h-2zM874 458.6h2v13.2h-2zM880 458.6h2v13.2h-2zM888 458.6h2v13.2h-2zM896 458.6h2v13.2h-2zM910 458.6h2v13.2h-2zM928 458.6h2v13.2h-2zM948 458.6h2v13.2h-2zM592 471.9h2v13.2h-2zM636 471.9h2v13.2h-2zM638 471.9h2v13.2h-2zM650 471.9h2v13.2h-2zM682 471.9h2v13.2h-2zM684 471.9h2v13.2h-2zM688 471.9h2v13.2h-2zM720 471.9h2v13.2h-2zM722 471.9h2v13.2h-2zM746 471.9h2v13.2h-2zM748 471.9h2v13.2h-2zM754 471.9h2v13.2h-2zM758 471.9h2v13.2h-2zM778 471.9h2v13.2h-2zM780 471.9h2v13.2h-2zM796 471.9h2v13.2h-2zM806 471.9h2v13.2h-2zM808 471.9h2v13.2h-2zM818 471.9h2v13.2h-2zM824 471.9h2v13.2h-2zM832 471.9h2v13.2h-2zM838 471.9h2v13.2h-2zM842 471.9h2v13.2h-2zM854 471.9h2v13.2h-2zM874 471.9h2v13.2h-2zM876 471.9h2v13.2h-2zM880 471.9h2v13.2h-2zM920 471.9h2v13.2h-2zM926 471.9h2v13.2h-2zM932 471.9h2v13.2h-2zM934 471.9h2v13.2h-2zM936 471.9h2v13.2h-2zM940 471.9h2v13.2h-2zM944 471.9h2v13.2h-2zM950 471.9h2v13.2h-2zM966 471.9h2v13.2h-2zM968 471.9h2v13.2h-2zM592 485.1h2v13.2h-2zM604 485.1h2v13.2h-2zM642 485.1h2v13.2h-2zM672 485.1h2v13.2h-2zM674 485.1h2v13.2h-2zM678 485.1h2v13.2h-2zM692 485.1h2v13.2h-2zM694 485.1h2v13.2h-2zM732 485.1h2v13.2h-2zM748 485.1h2v13.2h-2zM758 485.1h2v13.2h-2zM772 485.1h2v13.2h-2zM798 485.1h2v13.2h-2zM804 485.1h2v13.2h-2zM816 485.1h2v13.2h-2zM824 485.1h2v13.2h-2zM846 485.1h2v13.2h-2zM848 485.1h2v13.2h-2zM860 485.1h2v13.2h-2zM862 485.1h2v13.2h-2zM876 485.1h2v13.2h-2zM888 485.1h2v13.2h-2zM892 485.1h2v13.2h-2zM900 485.1h2v13.2h-2zM914 485.1h2v13.2h-2zM922 485.1h2v13.2h-2zM926 485.1h2v13.2h-2zM938 485.1h2v13.2h-2zM942 485.1h2v13.2h-2zM970 485.1h2v13.2h-2zM614 498.4h2v13.2h-2zM628 498.4h2v13.2h-2zM636 498.4h2v13.2h-2zM648 498.4h2v13.2h-2zM650 498.4h2v13.2h-2zM654 498.4h2v13.2h-2zM658 498.4h2v13.2h-2zM666 498.4h2v13.2h-2zM688 498.4h2v13.2h-2zM692 498.4h2v13.2h-2zM694 498.4h2v13.2h-2zM698 498.4h2v13.2h-2zM732 498.4h2v13.2h-2zM748 498.4h2v13.2h-2zM756 498.4h2v13.2h-2zM778 498.4h2v13.2h-2zM810 498.4h2v13.2h-2zM812 498.4h2v13.2h-2zM818 498.4h2v13.2h-2zM822 498.4h2v13.2h-2zM826 498.4h2v13.2h-2zM834 498.4h2v13.2h-2zM838 498.4h2v13.2h-2zM846 498.4h2v13.2h-2zM854 498.4h2v13.2h-2zM860 498.4h2v13.2h-2zM868 498.4h2v13.2h-2zM882 498.4h2v13.2h-2zM904 498.4h2v13.2h-2zM916 498.4h2v13.2h-2zM918 498.4h2v13.2h-2zM936 498.4h2v13.2h-2zM942 498.4h2v13.2h-2zM950 498.4h2v13.2h-2zM952 498.4h2v13.2h-2zM966 498.4h2v13.2h-2zM590 512.1h2v14.4h-2zM596 512.1h2v14.4h-2zM608 512.1h2v14.4h-2zM612 512.1h2v14.4h-2zM616 512.1h2v14.4h-2zM630 512.1h2v14.4h-2zM632 512.1h2v14.4h-2zM636 512.1h2v14.4h-2zM640 512.1h2v14.4h-2zM644 512.1h2v14.4h-2zM662 512.1h2v14.4h-2zM674 512.1h2v14.4h-2zM744 512.1h2v14.4h-2zM750 512.1h2v14.4h-2zM756 512.1h2v14.4h-2zM764 512.1h2v14.4h-2zM774 512.1h2v14.4h-2zM782 512.1h2v14.4h-2zM786 512.1h2v14.4h-2zM788 512.1h2v14.4h-2zM804 512.1h2v14.4h-2zM808 512.1h2v14.4h-2zM810 512.1h2v14.4h-2zM820 512.1h2v14.4h-2zM822 512.1h2v14.4h-2zM824 512.1h2v14.4h-2zM838 512.1h2v14.4h-2zM842 512.1h2v14.4h-2zM848 512.1h2v14.4h-2zM850 512.1h2v14.4h-2zM852 512.1h2v14.4h-2zM854 512.1h2v14.4h-2zM870 512.1h2v14.4h-2zM882 512.1h2v14.4h-2zM884 512.1h2v14.4h-2zM894 512.1h2v14.4h-2zM896 512.1h2v14.4h-2zM918 512.1h2v14.4h-2zM930 512.1h2v14.4h-2zM952 512.1h2v14.4h-2zM962 512.1h2v14.4h-2zM590 526.5h2v14.4h-2zM612 526.5h2v14.4h-2zM628 526.5h2v14.4h-2zM666 526.5h2v14.4h-2zM670 526.5h2v14.4h-2zM682 526.5h2v14.4h-2zM688 526.5h2v14.4h-2zM690 526.5h2v14.4h-2zM694 526.5h2v14.4h-2zM696 526.5h2v14.4h-2zM738 526.5h2v14.4h-2zM748 526.5h2v14.4h-2zM756 526.5h2v14.4h-2zM782 526.5h2v14.4h-2zM790 526.5h2v14.4h-2zM796 526.5h2v14.4h-2zM800 526.5h2v14.4h-2zM802 526.5h2v14.4h-2zM820 526.5h2v14.4h-2zM846 526.5h2v14.4h-2zM848 526.5h2v14.4h-2zM850 526.5h2v14.4h-2zM858 526.5h2v14.4h-2zM868 526.5h2v14.4h-2zM870 526.5h2v14.4h-2zM888 526.5h2v14.4h-2zM892 526.5h2v14.4h-2zM900 526.5h2v14.4h-2zM902 526.5h2v14.4h-2zM920 526.5h2v14.4h-2zM926 526.5h2v14.4h-2zM938 526.5h2v14.4h-2zM946 526.5h2v14.4h-2zM952 526.5h2v14.4h-2zM954 526.5h2v14.4h-2zM962 526.5h2v14.4h-2zM966 526.5h2v14.4h-2zM970 526.5h2v14.4h-2zM972 526.5h2v14.4h-2zM592 540.9h2v14.4h-2zM604 540.9h2v14.4h-2zM610 540.9h2v14.4h-2zM640 540.9h2v14.4h-2zM644 540.9h2v14.4h-2zM660 540.9h2v14.4h-2zM670 540.9h2v14.4h-2zM672 540.9h2v14.4h-2zM674 540.9h2v14.4h-2zM692 540.9h2v14.4h-2zM698 540.9h2v14.4h-2zM704 540.9h2v14.4h-2zM706 540.9h2v14.4h-2zM710 540.9h2v14.4h-2zM728 540.9h2v14.4h-2zM754 540.9h2v14.4h-2zM756 540.9h2v14.4h-2zM764 540.9h2v14.4h-2zM768 540.9h2v14.4h-2zM790 540.9h2v14.4h-2zM804 540.9h2v14.4h-2zM810 540.9h2v14.4h-2zM820 540.9h2v14.4h-2zM834 540.9h2v14.4h-2zM838 540.9h2v14.4h-2zM842 540.9h2v14.4h-2zM852 540.9h2v14.4h-2zM854 540.9h2v14.4h-2zM856 540.9h2v14.4h-2zM858 540.9h2v14.4h-2zM866 540.9h2v14.4h-2zM868 540.9h2v14.4h-2zM888 540.9h2v14.4h-2zM896 540.9h2v14.4h-2zM910 540.9h2v14.4h-2zM928 540.9h2v14.4h-2zM948 540.9h2v14.4h-2zM954 540.9h2v14.4h-2zM958 540.9h2v14.4h-2zM972 540.9h2v14.4h-2zM592 556.2h2v12.5h-2zM594 556.2h2v12.5h-2zM600 556.2h2v12.5h-2zM604 556.2h2v12.5h-2zM608 556.2h2v12.5h-2zM630 556.2h2v12.5h-2zM648 556.2h2v12.5h-2zM656 556.2h2v12.5h-2zM668 556.2h2v12.5h-2zM680 556.2h2v12.5h-2zM690 556.2h2v12.5h-2zM692 556.2h2v12.5h-2zM704 556.2h2v12.5h-2zM744 556.2h2v12.5h-2zM768 556.2h2v12.5h-2zM792 556.2h2v12.5h-2zM794 556.2h2v12.5h-2zM808 556.2h2v12.5h-2zM826 556.2h2v12.5h-2zM836 556.2h2v12.5h-2zM838 556.2h2v12.5h-2zM842 556.2h2v12.5h-2zM844 556.2h2v12.5h-2zM850 556.2h2v12.5h-2zM860 556.2h2v12.5h-2zM872 556.2h2v12.5h-2zM874 556.2h2v12.5h-2zM910 556.2h2v12.5h-2zM930 556.2h2v12.5h-2zM944 556.2h2v12.5h-2zM950 556.2h2v12.5h-2zM958 556.2h2v12.5h-2zM960 556.2h2v12.5h-2zM962 556.2h2v12.5h-2zM972 556.2h2v12.5h-2zM596 568.7h2v12.4h-2zM610 568.7h2v12.4h-2zM620 568.7h2v12.4h-2zM630 568.7h2v12.4h-2zM632 568.7h2v12.4h-2zM660 568.7h2v12.4h-2zM670 568.7h2v12.4h-2zM676 568.7h2v12.4h-2zM682 568.7h2v12.4h-2zM686 568.7h2v12.4h-2zM690 568.7h2v12.4h-2zM692 568.7h2v12.4h-2zM694 568.7h2v12.4h-2zM708 568.7h2v12.4h-2zM720 568.7h2v12.4h-2zM724 568.7h2v12.4h-2zM744 568.7h2v12.4h-2zM782 568.7h2v12.4h-2zM794 568.7h2v12.4h-2zM798 568.7h2v12.4h-2zM802 568.7h2v12.4h-2zM806 568.7h2v12.4h-2zM818 568.7h2v12.4h-2zM822 568.7h2v12.4h-2zM838 568.7h2v12.4h-2zM840 568.7h2v12.4h-2zM848 568.7h2v12.4h-2zM864 568.7h2v12.4h-2zM884 568.7h2v12.4h-2zM902 568.7h2v12.4h-2zM904 568.7h2v12.4h-2zM908 568.7h2v12.4h-2zM932 568.7h2v12.4h-2zM936 568.7h2v12.4h-2zM948 568.7h2v12.4h-2zM964 568.7h2v12.4h-2zM968 568.7h2v12.4h-2zM970 568.7h2v12.4h-2zM592 581.1h2v12.4h-2zM594 581.1h2v12.4h-2zM596 581.1h2v12.4h-2zM608 581.1h2v12.4h-2zM612 581.1h2v12.4h-2zM628 581.1h2v12.4h-2zM636 581.1h2v12.4h-2zM640 581.1h2v12.4h-2zM642 581.1h2v12.4h-2zM680 581.1h2v12.4h-2zM682 581.1h2v12.4h-2zM684 581.1h2v12.4h-2zM686 581.1h2v12.4h-2zM708 581.1h2v12.4h-2zM746 581.1h2v12.4h-2zM750 581.1h2v12.4h-2zM758 581.1h2v12.4h-2zM760 581.1h2v12.4h-2zM762 581.1h2v12.4h-2zM768 581.1h2v12.4h-2zM774 581.1h2v12.4h-2zM796 581.1h2v12.4h-2zM800 581.1h2v12.4h-2zM818 581.1h2v12.4h-2zM822 581.1h2v12.4h-2zM840 581.1h2v12.4h-2zM844 581.1h2v12.4h-2zM856 581.1h2v12.4h-2zM868 581.1h2v12.4h-2zM872 581.1h2v12.4h-2zM882 581.1h2v12.4h-2zM900 581.1h2v12.4h-2zM908 581.1h2v12.4h-2zM914 581.1h2v12.4h-2zM926 581.1h2v12.4h-2zM928 581.1h2v12.4h-2zM936 581.1h2v12.4h-2zM944 581.1h2v12.4h-2zM960 581.1h2v12.4h-2zM964 581.1h2v12.4h-2zM600 593.5h2v12.5h-2zM610 593.5h2v12.5h-2zM636 593.5h2v12.5h-2zM656 593.5h2v12.5h-2zM662 593.5h2v12.5h-2zM666 593.5h2v12.5h-2zM670 593.5h2v12.5h-2zM686 593.5h2v12.5h-2zM692 593.5h2v12.5h-2zM710 593.5h2v12.5h-2zM712 593.5h2v12.5h-2zM746 593.5h2v12.5h-2zM748 593.5h2v12.5h-2zM766 593.5h2v12.5h-2zM768 593.5h2v12.5h-2zM774 593.5h2v12.5h-2zM786 593.5h2v12.5h-2zM792 593.5h2v12.5h-2zM820 593.5h2v12.5h-2zM822 593.5h2v12.5h-2zM824 593.5h2v12.5h-2zM826 593.5h2v12.5h-2zM834 593.5h2v12.5h-2zM848 593.5h2v12.5h-2zM860 593.5h2v12.5h-2zM868 593.5h2v12.5h-2zM880 593.5h2v12.5h-2zM882 593.5h2v12.5h-2zM888 593.5h2v12.5h-2zM890 593.5h2v12.5h-2zM916 593.5h2v12.5h-2zM918 593.5h2v12.5h-2zM936 593.5h2v12.5h-2zM948 593.5h2v12.5h-2zM950 593.5h2v12.5h-2zM956 593.5h2v12.5h-2zM964 593.5h2v12.5h-2zM970 593.5h2v12.5h-2zM612 606.4h2v15.6h-2zM616 606.4h2v15.6h-2zM618 606.4h2v15.6h-2zM636 606.4h2v15.6h-2zM654 606.4h2v15.6h-2zM682 606.4h2v15.6h-2zM684 606.4h2v15.6h-2zM692 606.4h2v15.6h-2zM712 606.4h2v15.6h-2zM728 606.4h2v15.6h-2zM778 606.4h2v15.6h-2zM796 606.4h2v15.6h-2zM800 606.4h2v15.6h-2zM806 606.4h2v15.6h-2zM816 606.4h2v15.6h-2zM824 606.4h2v15.6h-2zM832 606.4h2v15.6h-2zM840 606.4h2v15.6h-2zM846 606.4h2v15.6h-2zM850 606.4h2v15.6h-2zM852 606.4h2v15.6h-2zM864 606.4h2v15.6h-2zM866 606.4h2v15.6h-2zM880 606.4h2v15.6h-2zM882 606.4h2v15.6h-2zM886 606.4h2v15.6h-2zM894 606.4h2v15.6h-2zM898 606.4h2v15.6h-2zM900 606.4h2v15.6h-2zM902 606.4h2v15.6h-2zM916 606.4h2v15.6h-2zM932 606.4h2v15.6h-2zM966 606.4h2v15.6h-2zM970 606.4h2v15.6h-2zM590 622.0h2v15.6h-2zM614 622.0h2v15.6h-2zM632 622.0h2v15.6h-2zM640 622.0h2v15.6h-2zM644 622.0h2v15.6h-2zM666 622.0h2v15.6h-2zM674 622.0h2v15.6h-2zM680 622.0h2v15.6h-2zM684 622.0h2v15.6h-2zM692 622.0h2v15.6h-2zM702 622.0h2v15.6h-2zM712 622.0h2v15.6h-2zM720 622.0h2v15.6h-2zM760 622.0h2v15.6h-2zM774 622.0h2v15.6h-2zM784 622.0h2v15.6h-2zM788 622.0h2v15.6h-2zM794 622.0h2v15.6h-2zM802 622.0h2v15.6h-2zM808 622.0h2v15.6h-2zM810 622.0h2v15.6h-2zM812 622.0h2v15.6h-2zM818 622.0h2v15.6h-2zM826 622.0h2v15.6h-2zM832 622.0h2v15.6h-2zM844 622.0h2v15.6h-2zM846 622.0h2v15.6h-2zM854 622.0h2v15.6h-2zM866 622.0h2v15.6h-2zM880 622.0h2v15.6h-2zM884 622.0h2v15.6h-2zM886 622.0h2v15.6h-2zM890 622.0h2v15.6h-2zM892 622.0h2v15.6h-2zM894 622.0h2v15.6h-2zM896 622.0h2v15.6h-2zM900 622.0h2v15.6h-2zM920 622.0h2v15.6h-2zM928 622.0h2v15.6h-2zM930 622.0h2v15.6h-2zM932 622.0h2v15.6h-2zM946 622.0h2v15.6h-2zM948 622.0h2v15.6h-2zM962 622.0h2v15.6h-2zM966 622.0h2v15.6h-2zM968 622.0h2v15.6h-2zM972 622.0h2v15.6h-2zM590 637.7h2v15.6h-2zM594 637.7h2v15.6h-2zM608 637.7h2v15.6h-2zM612 637.7h2v15.6h-2zM632 637.7h2v15.6h-2zM636 637.7h2v15.6h-2zM654 637.7h2v15.6h-2zM656 637.7h2v15.6h-2zM660 637.7h2v15.6h-2zM670 637.7h2v15.6h-2zM672 637.7h2v15.6h-2zM682 637.7h2v15.6h-2zM692 637.7h2v15.6h-2zM694 637.7h2v15.6h-2zM696 637.7h2v15.6h-2zM710 637.7h2v15.6h-2zM724 637.7h2v15.6h-2zM766 637.7h2v15.6h-2zM772 637.7h2v15.6h-2zM774 637.7h2v15.6h-2zM788 637.7h2v15.6h-2zM802 637.7h2v15.6h-2zM820 637.7h2v15.6h-2zM838 637.7h2v15.6h-2zM840 637.7h2v15.6h-2zM848 637.7h2v15.6h-2zM854 637.7h2v15.6h-2zM860 637.7h2v15.6h-2zM868 637.7h2v15.6h-2zM884 637.7h2v15.6h-2zM892 637.7h2v15.6h-2zM900 637.7h2v15.6h-2zM904 637.7h2v15.6h-2zM908 637.7h2v15.6h-2zM922 637.7h2v15.6h-2zM926 637.7h2v15.6h-2zM930 637.7h2v15.6h-2zM936 637.7h2v15.6h-2zM948 637.7h2v15.6h-2zM962 637.7h2v15.6h-2zM964 637.7h2v15.6h-2zM592 653.3h2v15.7h-2zM596 653.3h2v15.7h-2zM612 653.3h2v15.7h-2zM614 653.3h2v15.7h-2zM616 653.3h2v15.7h-2zM638 653.3h2v15.7h-2zM654 653.3h2v15.7h-2zM672 653.3h2v15.7h-2zM700 653.3h2v15.7h-2zM720 653.3h2v15.7h-2zM746 653.3h2v15.7h-2zM778 653.3h2v15.7h-2zM780 653.3h2v15.7h-2zM782 653.3h2v15.7h-2zM788 653.3h2v15.7h-2zM796 653.3h2v15.7h-2zM800 653.3h2v15.7h-2zM804 653.3h2v15.7h-2zM806 653.3h2v15.7h-2zM816 653.3h2v15.7h-2zM826 653.3h2v15.7h-2zM832 653.3h2v15.7h-2zM854 653.3h2v15.7h-2zM856 653.3h2v15.7h-2zM864 653.3h2v15.7h-2zM866 653.3h2v15.7h-2zM882 653.3h2v15.7h-2zM886 653.3h2v15.7h-2zM890 653.3h2v15.7h-2zM894 653.3h2v15.7h-2zM900 653.3h2v15.7h-2zM908 653.3h2v15.7h-2zM920 653.3h2v15.7h-2zM946 653.3h2v15.7h-2zM950 653.3h2v15.7h-2zM956 653.3h2v15.7h-2zM594 669.0h2v15.7h-2zM600 669.0h2v15.7h-2zM618 669.0h2v15.7h-2zM630 669.0h2v15.7h-2zM632 669.0h2v15.7h-2zM638 669.0h2v15.7h-2zM648 669.0h2v15.7h-2zM650 669.0h2v15.7h-2zM656 669.0h2v15.7h-2zM672 669.0h2v15.7h-2zM686 669.0h2v15.7h-2zM692 669.0h2v15.7h-2zM706 669.0h2v15.7h-2zM728 669.0h2v15.7h-2zM730 669.0h2v15.7h-2zM738 669.0h2v15.7h-2zM748 669.0h2v15.7h-2zM752 669.0h2v15.7h-2zM756 669.0h2v15.7h-2zM780 669.0h2v15.7h-2zM782 669.0h2v15.7h-2zM788 669.0h2v15.7h-2zM790 669.0h2v15.7h-2zM792 669.0h2v15.7h-2zM808 669.0h2v15.7h-2zM810 669.0h2v15.7h-2zM840 669.0h2v15.7h-2zM842 669.0h2v15.7h-2zM846 669.0h2v15.7h-2zM854 669.0h2v15.7h-2zM858 669.0h2v15.7h-2zM860 669.0h2v15.7h-2zM882 669.0h2v15.7h-2zM884 669.0h2v15.7h-2zM890 669.0h2v15.7h-2zM918 669.0h2v15.7h-2zM928 669.0h2v15.7h-2zM934 669.0h2v15.7h-2zM942 669.0h2v15.7h-2zM944 669.0h2v15.7h-2zM966 669.0h2v15.7h-2zM590 684.7h2v15.7h-2zM592 684.7h2v15.7h-2zM594 684.7h2v15.7h-2zM602 684.7h2v15.7h-2zM608 684.7h2v15.7h-2zM612 684.7h2v15.7h-2zM636 684.7h2v15.7h-2zM638 684.7h2v15.7h-2zM640 684.7h2v15.7h-2zM642 684.7h2v15.7h-2zM650 684.7h2v15.7h-2zM660 684.7h2v15.7h-2zM710 684.7h2v15.7h-2zM720 684.7h2v15.7h-2zM728 684.7h2v15.7h-2zM730 684.7h2v15.7h-2zM738 684.7h2v15.7h-2zM746 684.7h2v15.7h-2zM748 684.7h2v15.7h-2zM786 684.7h2v15.7h-2zM788 684.7h2v15.7h-2zM832 684.7h2v15.7h-2zM838 684.7h2v15.7h-2zM842 684.7h2v15.7h-2zM844 684.7h2v15.7h-2zM848 684.7h2v15.7h-2zM854 684.7h2v15.7h-2zM858 684.7h2v15.7h-2zM866 684.7h2v15.7h-2zM880 684.7h2v15.7h-2zM882 684.7h2v15.7h-2zM884 684.7h2v15.7h-2zM890 684.7h2v15.7h-2zM910 684.7h2v15.7h-2zM928 684.7h2v15.7h-2zM934 684.7h2v15.7h-2zM944 684.7h2v15.7h-2zM946 684.7h2v15.7h-2zM948 684.7h2v15.7h-2zM954 684.7h2v15.7h-2zM592 701.0h2v15.9h-2zM606 701.0h2v15.9h-2zM630 701.0h2v15.9h-2zM640 701.0h2v15.9h-2zM646 701.0h2v15.9h-2zM656 701.0h2v15.9h-2zM658 701.0h2v15.9h-2zM660 701.0h2v15.9h-2zM674 701.0h2v15.9h-2zM690 701.0h2v15.9h-2zM720 701.0h2v15.9h-2zM730 701.0h2v15.9h-2zM738 701.0h2v15.9h-2zM746 701.0h2v15.9h-2zM764 701.0h2v15.9h-2zM766 701.0h2v15.9h-2zM796 701.0h2v15.9h-2zM808 701.0h2v15.9h-2zM810 701.0h2v15.9h-2zM822 701.0h2v15.9h-2zM824 701.0h2v15.9h-2zM840 701.0h2v15.9h-2zM844 701.0h2v15.9h-2zM846 701.0h2v15.9h-2zM848 701.0h2v15.9h-2zM850 701.0h2v15.9h-2zM852 701.0h2v15.9h-2zM856 701.0h2v15.9h-2zM868 701.0h2v15.9h-2zM872 701.0h2v15.9h-2zM874 701.0h2v15.9h-2zM880 701.0h2v15.9h-2zM884 701.0h2v15.9h-2zM888 701.0h2v15.9h-2zM896 701.0h2v15.9h-2zM900 701.0h2v15.9h-2zM910 701.0h2v15.9h-2zM914 701.0h2v15.9h-2zM918 701.0h2v15.9h-2zM926 701.0h2v15.9h-2zM930 701.0h2v15.9h-2zM942 701.0h2v15.9h-2zM958 701.0h2v15.9h-2zM968 701.0h2v15.9h-2zM590 716.9h2v15.9h-2zM594 716.9h2v15.9h-2zM604 716.9h2v15.9h-2zM620 716.9h2v15.9h-2zM632 716.9h2v15.9h-2zM634 716.9h2v15.9h-2zM640 716.9h2v15.9h-2zM670 716.9h2v15.9h-2zM686 716.9h2v15.9h-2zM692 716.9h2v15.9h-2zM702 716.9h2v15.9h-2zM722 716.9h2v15.9h-2zM738 716.9h2v15.9h-2zM748 716.9h2v15.9h-2zM754 716.9h2v15.9h-2zM768 716.9h2v15.9h-2zM824 716.9h2v15.9h-2zM832 716.9h2v15.9h-2zM840 716.9h2v15.9h-2zM842 716.9h2v15.9h-2zM846 716.9h2v15.9h-2zM852 716.9h2v15.9h-2zM860 716.9h2v15.9h-2zM868 716.9h2v15.9h-2zM870 716.9h2v15.9h-2zM888 716.9h2v15.9h-2zM890 716.9h2v15.9h-2zM894 716.9h2v15.9h-2zM896 716.9h2v15.9h-2zM902 716.9h2v15.9h-2zM930 716.9h2v15.9h-2zM946 716.9h2v15.9h-2zM950 716.9h2v15.9h-2zM954 716.9h2v15.9h-2zM958 716.9h2v15.9h-2zM962 716.9h2v15.9h-2zM964 716.9h2v15.9h-2zM968 716.9h2v15.9h-2zM972 716.9h2v15.9h-2zM590 732.9h2v15.9h-2zM592 732.9h2v15.9h-2zM612 732.9h2v15.9h-2zM614 732.9h2v15.9h-2zM618 732.9h2v15.9h-2zM620 732.9h2v15.9h-2zM628 732.9h2v15.9h-2zM638 732.9h2v15.9h-2zM642 732.9h2v15.9h-2zM654 732.9h2v15.9h-2zM662 732.9h2v15.9h-2zM670 732.9h2v15.9h-2zM682 732.9h2v15.9h-2zM688 732.9h2v15.9h-2zM692 732.9h2v15.9h-2zM704 732.9h2v15.9h-2zM710 732.9h2v15.9h-2zM760 732.9h2v15.9h-2zM762 732.9h2v15.9h-2zM772 732.9h2v15.9h-2zM804 732.9h2v15.9h-2zM812 732.9h2v15.9h-2zM820 732.9h2v15.9h-2zM822 732.9h2v15.9h-2zM824 732.9h2v15.9h-2zM832 732.9h2v15.9h-2zM840 732.9h2v15.9h-2zM848 732.9h2v15.9h-2zM862 732.9h2v15.9h-2zM864 732.9h2v15.9h-2zM866 732.9h2v15.9h-2zM870 732.9h2v15.9h-2zM886 732.9h2v15.9h-2zM892 732.9h2v15.9h-2zM902 732.9h2v15.9h-2zM926 732.9h2v15.9h-2zM928 732.9h2v15.9h-2zM936 732.9h2v15.9h-2zM944 732.9h2v15.9h-2zM946 732.9h2v15.9h-2zM960 732.9h2v15.9h-2zM966 732.9h2v15.9h-2zM968 732.9h2v15.9h-2zM972 732.9h2v15.9h-2zM590 750.1h2v10.8h-2zM606 750.1h2v10.8h-2zM610 750.1h2v10.8h-2zM616 750.1h2v10.8h-2zM630 750.1h2v10.8h-2zM634 750.1h2v10.8h-2zM636 750.1h2v10.8h-2zM642 750.1h2v10.8h-2zM668 750.1h2v10.8h-2zM680 750.1h2v10.8h-2zM700 750.1h2v10.8h-2zM702 750.1h2v10.8h-2zM710 750.1h2v10.8h-2zM750 750.1h2v10.8h-2zM756 750.1h2v10.8h-2zM758 750.1h2v10.8h-2zM774 750.1h2v10.8h-2zM778 750.1h2v10.8h-2zM784 750.1h2v10.8h-2zM786 750.1h2v10.8h-2zM838 750.1h2v10.8h-2zM842 750.1h2v10.8h-2zM844 750.1h2v10.8h-2zM846 750.1h2v10.8h-2zM852 750.1h2v10.8h-2zM860 750.1h2v10.8h-2zM884 750.1h2v10.8h-2zM888 750.1h2v10.8h-2zM890 750.1h2v10.8h-2zM910 750.1h2v10.8h-2zM934 750.1h2v10.8h-2zM944 750.1h2v10.8h-2zM970 750.1h2v10.8h-2zM606 763.7h2v17.6h-2zM614 763.7h2v17.6h-2zM634 763.7h2v17.6h-2zM642 763.7h2v17.6h-2zM644 763.7h2v17.6h-2zM650 763.7h2v17.6h-2zM654 763.7h2v17.6h-2zM666 763.7h2v17.6h-2zM668 763.7h2v17.6h-2zM670 763.7h2v17.6h-2zM672 763.7h2v17.6h-2zM686 763.7h2v17.6h-2zM692 763.7h2v17.6h-2zM696 763.7h2v17.6h-2zM698 763.7h2v17.6h-2zM700 763.7h2v17.6h-2zM712 763.7h2v17.6h-2zM720 763.7h2v17.6h-2zM744 763.7h2v17.6h-2zM752 763.7h2v17.6h-2zM760 763.7h2v17.6h-2zM768 763.7h2v17.6h-2zM776 763.7h2v17.6h-2zM782 763.7h2v17.6h-2zM786 763.7h2v17.6h-2zM794 763.7h2v17.6h-2zM798 763.7h2v17.6h-2zM800 763.7h2v17.6h-2zM804 763.7h2v17.6h-2zM812 763.7h2v17.6h-2zM824 763.7h2v17.6h-2zM844 763.7h2v17.6h-2zM850 763.7h2v17.6h-2zM858 763.7h2v17.6h-2zM860 763.7h2v17.6h-2zM868 763.7h2v17.6h-2zM872 763.7h2v17.6h-2zM880 763.7h2v17.6h-2zM884 763.7h2v17.6h-2zM890 763.7h2v17.6h-2zM892 763.7h2v17.6h-2zM916 763.7h2v17.6h-2zM928 763.7h2v17.6h-2zM944 763.7h2v17.6h-2zM946 763.7h2v17.6h-2zM948 763.7h2v17.6h-2zM950 763.7h2v17.6h-2zM592 781.3h2v17.2h-2zM610 781.3h2v17.2h-2zM612 781.3h2v17.2h-2zM630 781.3h2v17.2h-2zM634 781.3h2v17.2h-2zM638 781.3h2v17.2h-2zM640 781.3h2v17.2h-2zM658 781.3h2v17.2h-2zM660 781.3h2v17.2h-2zM672 781.3h2v17.2h-2zM674 781.3h2v17.2h-2zM680 781.3h2v17.2h-2zM698 781.3h2v17.2h-2zM704 781.3h2v17.2h-2zM738 781.3h2v17.2h-2zM746 781.3h2v17.2h-2zM750 781.3h2v17.2h-2zM760 781.3h2v17.2h-2zM764 781.3h2v17.2h-2zM766 781.3h2v17.2h-2zM768 781.3h2v17.2h-2zM774 781.3h2v17.2h-2zM786 781.3h2v17.2h-2zM792 781.3h2v17.2h-2zM794 781.3h2v17.2h-2zM804 781.3h2v17.2h-2zM808 781.3h2v17.2h-2zM810 781.3h2v17.2h-2zM842 781.3h2v17.2h-2zM850 781.3h2v17.2h-2zM856 781.3h2v17.2h-2zM858 781.3h2v17.2h-2zM866 781.3h2v17.2h-2zM872 781.3h2v17.2h-2zM874 781.3h2v17.2h-2zM888 781.3h2v17.2h-2zM890 781.3h2v17.2h-2zM894 781.3h2v17.2h-2zM896 781.3h2v17.2h-2zM916 781.3h2v17.2h-2zM918 781.3h2v17.2h-2zM928 781.3h2v17.2h-2zM930 781.3h2v17.2h-2zM942 781.3h2v17.2h-2zM944 781.3h2v17.2h-2zM952 781.3h2v17.2h-2zM960 781.3h2v17.2h-2zM602 798.5h2v17.2h-2zM630 798.5h2v17.2h-2zM632 798.5h2v17.2h-2zM674 798.5h2v17.2h-2zM682 798.5h2v17.2h-2zM692 798.5h2v17.2h-2zM696 798.5h2v17.2h-2zM710 798.5h2v17.2h-2zM712 798.5h2v17.2h-2zM720 798.5h2v17.2h-2zM772 798.5h2v17.2h-2zM782 798.5h2v17.2h-2zM788 798.5h2v17.2h-2zM802 798.5h2v17.2h-2zM806 798.5h2v17.2h-2zM808 798.5h2v17.2h-2zM812 798.5h2v17.2h-2zM818 798.5h2v17.2h-2zM844 798.5h2v17.2h-2zM848 798.5h2v17.2h-2zM850 798.5h2v17.2h-2zM862 798.5h2v17.2h-2zM880 798.5h2v17.2h-2zM884 798.5h2v17.2h-2zM894 798.5h2v17.2h-2zM898 798.5h2v17.2h-2zM902 798.5h2v17.2h-2zM904 798.5h2v17.2h-2zM926 798.5h2v17.2h-2zM930 798.5h2v17.2h-2zM932 798.5h2v17.2h-2zM934 798.5h2v17.2h-2zM936 798.5h2v17.2h-2zM946 798.5h2v17.2h-2zM950 798.5h2v17.2h-2zM954 798.5h2v17.2h-2zM958 798.5h2v17.2h-2zM960 798.5h2v17.2h-2zM966 798.5h2v17.2h-2zM590 816.0h2v15.5h-2zM600 816.0h2v15.5h-2zM620 816.0h2v15.5h-2zM636 816.0h2v15.5h-2zM644 816.0h2v15.5h-2zM668 816.0h2v15.5h-2zM672 816.0h2v15.5h-2zM690 816.0h2v15.5h-2zM692 816.0h2v15.5h-2zM698 816.0h2v15.5h-2zM704 816.0h2v15.5h-2zM706 816.0h2v15.5h-2zM728 816.0h2v15.5h-2zM732 816.0h2v15.5h-2zM744 816.0h2v15.5h-2zM748 816.0h2v15.5h-2zM760 816.0h2v15.5h-2zM764 816.0h2v15.5h-2zM774 816.0h2v15.5h-2zM782 816.0h2v15.5h-2zM788 816.0h2v15.5h-2zM794 816.0h2v15.5h-2zM796 816.0h2v15.5h-2zM800 816.0h2v15.5h-2zM804 816.0h2v15.5h-2zM806 816.0h2v15.5h-2zM812 816.0h2v15.5h-2zM824 816.0h2v15.5h-2zM826 816.0h2v15.5h-2zM834 816.0h2v15.5h-2zM860 816.0h2v15.5h-2zM866 816.0h2v15.5h-2zM868 816.0h2v15.5h-2zM884 816.0h2v15.5h-2zM890 816.0h2v15.5h-2zM910 816.0h2v15.5h-2zM932 816.0h2v15.5h-2zM938 816.0h2v15.5h-2zM948 816.0h2v15.5h-2zM954 816.0h2v15.5h-2zM960 816.0h2v15.5h-2zM966 816.0h2v15.5h-2zM620 833.3h2v11.2h-2zM630 833.3h2v11.2h-2zM642 833.3h2v11.2h-2zM646 833.3h2v11.2h-2zM648 833.3h2v11.2h-2zM658 833.3h2v11.2h-2zM686 833.3h2v11.2h-2zM690 833.3h2v11.2h-2zM698 833.3h2v11.2h-2zM722 833.3h2v11.2h-2zM738 833.3h2v11.2h-2zM748 833.3h2v11.2h-2zM782 833.3h2v11.2h-2zM788 833.3h2v11.2h-2zM800 833.3h2v11.2h-2zM804 833.3h2v11.2h-2zM812 833.3h2v11.2h-2zM818 833.3h2v11.2h-2zM836 833.3h2v11.2h-2zM840 833.3h2v11.2h-2zM870 833.3h2v11.2h-2zM882 833.3h2v11.2h-2zM888 833.3h2v11.2h-2zM900 833.3h2v11.2h-2zM918 833.3h2v11.2h-2zM938 833.3h2v11.2h-2zM958 833.3h2v11.2h-2zM968 833.3h2v11.2h-2zM972 833.3h2v11.2h-2zM590 844.5h2v11.1h-2zM602 844.5h2v11.1h-2zM606 844.5h2v11.1h-2zM612 844.5h2v11.1h-2zM628 844.5h2v11.1h-2zM630 844.5h2v11.1h-2zM632 844.5h2v11.1h-2zM636 844.5h2v11.1h-2zM644 844.5h2v11.1h-2zM648 844.5h2v11.1h-2zM658 844.5h2v11.1h-2zM672 844.5h2v11.1h-2zM682 844.5h2v11.1h-2zM686 844.5h2v11.1h-2zM688 844.5h2v11.1h-2zM690 844.5h2v11.1h-2zM692 844.5h2v11.1h-2zM698 844.5h2v11.1h-2zM738 844.5h2v11.1h-2zM748 844.5h2v11.1h-2zM756 844.5h2v11.1h-2zM758 844.5h2v11.1h-2zM760 844.5h2v11.1h-2zM778 844.5h2v11.1h-2zM784 844.5h2v11.1h-2zM786 844.5h2v11.1h-2zM790 844.5h2v11.1h-2zM800 844.5h2v11.1h-2zM804 844.5h2v11.1h-2zM818 844.5h2v11.1h-2zM820 844.5h2v11.1h-2zM822 844.5h2v11.1h-2zM834 844.5h2v11.1h-2zM850 844.5h2v11.1h-2zM854 844.5h2v11.1h-2zM870 844.5h2v11.1h-2zM880 844.5h2v11.1h-2zM882 844.5h2v11.1h-2zM890 844.5h2v11.1h-2zM910 844.5h2v11.1h-2zM914 844.5h2v11.1h-2zM950 844.5h2v11.1h-2zM952 844.5h2v11.1h-2zM954 844.5h2v11.1h-2zM956 844.5h2v11.1h-2zM962 844.5h2v11.1h-2zM964 844.5h2v11.1h-2zM590 855.8h2v12.0h-2zM594 855.8h2v12.0h-2zM602 855.8h2v12.0h-2zM628 855.8h2v12.0h-2zM630 855.8h2v12.0h-2zM634 855.8h2v12.0h-2zM638 855.8h2v12.0h-2zM644 855.8h2v12.0h-2zM654 855.8h2v12.0h-2zM658 855.8h2v12.0h-2zM666 855.8h2v12.0h-2zM688 855.8h2v12.0h-2zM690 855.8h2v12.0h-2zM692 855.8h2v12.0h-2zM694 855.8h2v12.0h-2zM696 855.8h2v12.0h-2zM738 855.8h2v12.0h-2zM762 855.8h2v12.0h-2zM768 855.8h2v12.0h-2zM798 855.8h2v12.0h-2zM800 855.8h2v12.0h-2zM804 855.8h2v12.0h-2zM806 855.8h2v12.0h-2zM812 855.8h2v12.0h-2zM824 855.8h2v12.0h-2zM836 855.8h2v12.0h-2zM862 855.8h2v12.0h-2zM868 855.8h2v12.0h-2zM898 855.8h2v12.0h-2zM900 855.8h2v12.0h-2zM910 855.8h2v12.0h-2zM926 855.8h2v12.0h-2zM934 855.8h2v12.0h-2zM942 855.8h2v12.0h-2zM946 855.8h2v12.0h-2zM950 855.8h2v12.0h-2zM960 855.8h2v12.0h-2zM968 855.8h2v12.0h-2zM970 855.8h2v12.0h-2zM590 867.8h2v12.0h-2zM592 867.8h2v12.0h-2zM594 867.8h2v12.0h-2zM600 867.8h2v12.0h-2zM606 867.8h2v12.0h-2zM608 867.8h2v12.0h-2zM612 867.8h2v12.0h-2zM616 867.8h2v12.0h-2zM618 867.8h2v12.0h-2zM632 867.8h2v12.0h-2zM638 867.8h2v12.0h-2zM642 867.8h2v12.0h-2zM648 867.8h2v12.0h-2zM658 867.8h2v12.0h-2zM678 867.8h2v12.0h-2zM686 867.8h2v12.0h-2zM690 867.8h2v12.0h-2zM692 867.8h2v12.0h-2zM696 867.8h2v12.0h-2zM748 867.8h2v12.0h-2zM750 867.8h2v12.0h-2zM754 867.8h2v12.0h-2zM762 867.8h2v12.0h-2zM766 867.8h2v12.0h-2zM778 867.8h2v12.0h-2zM788 867.8h2v12.0h-2zM802 867.8h2v12.0h-2zM808 867.8h2v12.0h-2zM810 867.8h2v12.0h-2zM812 867.8h2v12.0h-2zM818 867.8h2v12.0h-2zM820 867.8h2v12.0h-2zM838 867.8h2v12.0h-2zM842 867.8h2v12.0h-2zM852 867.8h2v12.0h-2zM890 867.8h2v12.0h-2zM910 867.8h2v12.0h-2zM914 867.8h2v12.0h-2zM916 867.8h2v12.0h-2zM932 867.8h2v12.0h-2zM946 867.8h2v12.0h-2zM950 867.8h2v12.0h-2zM954 867.8h2v12.0h-2zM966 867.8h2v12.0h-2zM596 880.6h2v11.2h-2zM600 880.6h2v11.2h-2zM650 880.6h2v11.2h-2zM656 880.6h2v11.2h-2zM662 880.6h2v11.2h-2zM670 880.6h2v11.2h-2zM684 880.6h2v11.2h-2zM686 880.6h2v11.2h-2zM688 880.6h2v11.2h-2zM692 880.6h2v11.2h-2zM694 880.6h2v11.2h-2zM710 880.6h2v11.2h-2zM712 880.6h2v11.2h-2zM720 880.6h2v11.2h-2zM722 880.6h2v11.2h-2zM730 880.6h2v11.2h-2zM750 880.6h2v11.2h-2zM756 880.6h2v11.2h-2zM790 880.6h2v11.2h-2zM792 880.6h2v11.2h-2zM794 880.6h2v11.2h-2zM806 880.6h2v11.2h-2zM808 880.6h2v11.2h-2zM838 880.6h2v11.2h-2zM846 880.6h2v11.2h-2zM852 880.6h2v11.2h-2zM864 880.6h2v11.2h-2zM866 880.6h2v11.2h-2zM868 880.6h2v11.2h-2zM870 880.6h2v11.2h-2zM872 880.6h2v11.2h-2zM876 880.6h2v11.2h-2zM882 880.6h2v11.2h-2zM916 880.6h2v11.2h-2zM918 880.6h2v11.2h-2zM930 880.6h2v11.2h-2zM938 880.6h2v11.2h-2zM942 880.6h2v11.2h-2zM958 880.6h2v11.2h-2zM960 880.6h2v11.2h-2zM962 880.6h2v11.2h-2zM964 880.6h2v11.2h-2zM594 891.8h2v11.2h-2zM612 891.8h2v11.2h-2zM628 891.8h2v11.2h-2zM630 891.8h2v11.2h-2zM632 891.8h2v11.2h-2zM636 891.8h2v11.2h-2zM646 891.8h2v11.2h-2zM648 891.8h2v11.2h-2zM650 891.8h2v11.2h-2zM658 891.8h2v11.2h-2zM668 891.8h2v11.2h-2zM672 891.8h2v11.2h-2zM674 891.8h2v11.2h-2zM692 891.8h2v11.2h-2zM704 891.8h2v11.2h-2zM720 891.8h2v11.2h-2zM722 891.8h2v11.2h-2zM744 891.8h2v11.2h-2zM750 891.8h2v11.2h-2zM778 891.8h2v11.2h-2zM780 891.8h2v11.2h-2zM796 891.8h2v11.2h-2zM800 891.8h2v11.2h-2zM804 891.8h2v11.2h-2zM806 891.8h2v11.2h-2zM816 891.8h2v11.2h-2zM818 891.8h2v11.2h-2zM822 891.8h2v11.2h-2zM840 891.8h2v11.2h-2zM850 891.8h2v11.2h-2zM854 891.8h2v11.2h-2zM858 891.8h2v11.2h-2zM864 891.8h2v11.2h-2zM872 891.8h2v11.2h-2zM874 891.8h2v11.2h-2zM888 891.8h2v11.2h-2zM920 891.8h2v11.2h-2zM926 891.8h2v11.2h-2zM938 891.8h2v11.2h-2zM950 891.8h2v11.2h-2zM954 891.8h2v11.2h-2zM968 891.8h2v11.2h-2zM970 891.8h2v11.2h-2zM596 905.0h2v16.6h-2zM640 905.0h2v16.6h-2zM648 905.0h2v16.6h-2zM650 905.0h2v16.6h-2zM656 905.0h2v16.6h-2zM666 905.0h2v16.6h-2zM670 905.0h2v16.6h-2zM686 905.0h2v16.6h-2zM690 905.0h2v16.6h-2zM692 905.0h2v16.6h-2zM702 905.0h2v16.6h-2zM732 905.0h2v16.6h-2zM744 905.0h2v16.6h-2zM752 905.0h2v16.6h-2zM762 905.0h2v16.6h-2zM766 905.0h2v16.6h-2zM774 905.0h2v16.6h-2zM778 905.0h2v16.6h-2zM780 905.0h2v16.6h-2zM784 905.0h2v16.6h-2zM792 905.0h2v16.6h-2zM796 905.0h2v16.6h-2zM802 905.0h2v16.6h-2zM810 905.0h2v16.6h-2zM826 905.0h2v16.6h-2zM842 905.0h2v16.6h-2zM864 905.0h2v16.6h-2zM866 905.0h2v16.6h-2zM882 905.0h2v16.6h-2zM886 905.0h2v16.6h-2zM888 905.0h2v16.6h-2zM902 905.0h2v16.6h-2zM904 905.0h2v16.6h-2zM932 905.0h2v16.6h-2zM938 905.0h2v16.6h-2zM950 905.0h2v16.6h-2zM960 905.0h2v16.6h-2zM602 922.4h2v11.8h-2zM604 922.4h2v11.8h-2zM608 922.4h2v11.8h-2zM612 922.4h2v11.8h-2zM620 922.4h2v11.8h-2zM636 922.4h2v11.8h-2zM638 922.4h2v11.8h-2zM648 922.4h2v11.8h-2zM668 922.4h2v11.8h-2zM670 922.4h2v11.8h-2zM672 922.4h2v11.8h-2zM692 922.4h2v11.8h-2zM704 922.4h2v11.8h-2zM712 922.4h2v11.8h-2zM728 922.4h2v11.8h-2zM764 922.4h2v11.8h-2zM774 922.4h2v11.8h-2zM778 922.4h2v11.8h-2zM786 922.4h2v11.8h-2zM788 922.4h2v11.8h-2zM790 922.4h2v11.8h-2zM820 922.4h2v11.8h-2zM824 922.4h2v11.8h-2zM826 922.4h2v11.8h-2zM844 922.4h2v11.8h-2zM860 922.4h2v11.8h-2zM892 922.4h2v11.8h-2zM920 922.4h2v11.8h-2zM964 922.4h2v11.8h-2zM966 922.4h2v11.8h-2zM606 934.2h2v11.8h-2zM620 934.2h2v11.8h-2zM632 934.2h2v11.8h-2zM634 934.2h2v11.8h-2zM638 934.2h2v11.8h-2zM644 934.2h2v11.8h-2zM668 934.2h2v11.8h-2zM700 934.2h2v11.8h-2zM704 934.2h2v11.8h-2zM732 934.2h2v11.8h-2zM746 934.2h2v11.8h-2zM748 934.2h2v11.8h-2zM754 934.2h2v11.8h-2zM760 934.2h2v11.8h-2zM774 934.2h2v11.8h-2zM786 934.2h2v11.8h-2zM796 934.2h2v11.8h-2zM804 934.2h2v11.8h-2zM822 934.2h2v11.8h-2zM826 934.2h2v11.8h-2zM834 934.2h2v11.8h-2zM836 934.2h2v11.8h-2zM838 934.2h2v11.8h-2zM840 934.2h2v11.8h-2zM842 934.2h2v11.8h-2zM846 934.2h2v11.8h-2zM848 934.2h2v11.8h-2zM852 934.2h2v11.8h-2zM858 934.2h2v11.8h-2zM866 934.2h2v11.8h-2zM870 934.2h2v11.8h-2zM890 934.2h2v11.8h-2zM930 934.2h2v11.8h-2zM964 934.2h2v11.8h-2zM966 934.2h2v11.8h-2zM972 934.2h2v11.8h-2zM592 946.4h2v18.6h-2zM600 946.4h2v18.6h-2zM628 946.4h2v18.6h-2zM634 946.4h2v18.6h-2zM638 946.4h2v18.6h-2zM644 946.4h2v18.6h-2zM648 946.4h2v18.6h-2zM670 946.4h2v18.6h-2zM696 946.4h2v18.6h-2zM706 946.4h2v18.6h-2zM720 946.4h2v18.6h-2zM752 946.4h2v18.6h-2zM756 946.4h2v18.6h-2zM768 946.4h2v18.6h-2zM774 946.4h2v18.6h-2zM788 946.4h2v18.6h-2zM800 946.4h2v18.6h-2zM804 946.4h2v18.6h-2zM810 946.4h2v18.6h-2zM812 946.4h2v18.6h-2zM818 946.4h2v18.6h-2zM842 946.4h2v18.6h-2zM848 946.4h2v18.6h-2zM856 946.4h2v18.6h-2zM884 946.4h2v18.6h-2zM886 946.4h2v18.6h-2zM890 946.4h2v18.6h-2zM896 946.4h2v18.6h-2zM898 946.4h2v18.6h-2zM902 946.4h2v18.6h-2zM918 946.4h2v18.6h-2zM942 946.4h2v18.6h-2zM950 946.4h2v18.6h-2z" fill="#4a5cff" fill-opacity="0.06"/>
<path d="M644 52.6h2v13.9h-2zM700 52.6h2v13.9h-2zM744 52.6h2v13.9h-2zM784 52.6h2v13.9h-2zM874 52.6h2v13.9h-2zM916 52.6h2v13.9h-2zM606 66.5h2v13.9h-2zM646 66.5h2v13.9h-2zM758 66.5h2v13.9h-2zM808 66.5h2v13.9h-2zM854 66.5h2v13.9h-2zM856 66.5h2v13.9h-2zM896 66.5h2v13.9h-2zM920 66.5h2v13.9h-2zM960 66.5h2v13.9h-2zM618 80.4h2v13.9h-2zM660 80.4h2v13.9h-2zM680 80.4h2v13.9h-2zM700 80.4h2v13.9h-2zM722 80.4h2v13.9h-2zM750 80.4h2v13.9h-2zM760 80.4h2v13.9h-2zM780 80.4h2v13.9h-2zM790 80.4h2v13.9h-2zM792 80.4h2v13.9h-2zM794 80.4h2v13.9h-2zM826 80.4h2v13.9h-2zM838 80.4h2v13.9h-2zM848 80.4h2v13.9h-2zM858 80.4h2v13.9h-2zM860 80.4h2v13.9h-2zM882 80.4h2v13.9h-2zM888 80.4h2v13.9h-2zM896 80.4h2v13.9h-2zM910 80.4h2v13.9h-2zM918 80.4h2v13.9h-2zM920 80.4h2v13.9h-2zM928 80.4h2v13.9h-2zM930 80.4h2v13.9h-2zM956 80.4h2v13.9h-2zM964 80.4h2v13.9h-2zM610 94.3h2v13.3h-2zM618 94.3h2v13.3h-2zM640 94.3h2v13.3h-2zM644 94.3h2v13.3h-2zM646 94.3h2v13.3h-2zM678 94.3h2v13.3h-2zM680 94.3h2v13.3h-2zM722 94.3h2v13.3h-2zM732 94.3h2v13.3h-2zM748 94.3h2v13.3h-2zM754 94.3h2v13.3h-2zM764 94.3h2v13.3h-2zM774 94.3h2v13.3h-2zM788 94.3h2v13.3h-2zM796 94.3h2v13.3h-2zM808 94.3h2v13.3h-2zM824 94.3h2v13.3h-2zM842 94.3h2v13.3h-2zM844 94.3h2v13.3h-2zM846 94.3h2v13.3h-2zM850 94.3h2v13.3h-2zM882 94.3h2v13.3h-2zM946 94.3h2v13.3h-2zM948 94.3h2v13.3h-2zM950 94.3h2v13.3h-2zM956 94.3h2v13.3h-2zM964 94.3h2v13.3h-2zM966 94.3h2v13.3h-2zM968 94.3h2v13.3h-2zM594 107.6h2v13.3h-2zM610 107.6h2v13.3h-2zM612 107.6h2v13.3h-2zM632 107.6h2v13.3h-2zM668 107.6h2v13.3h-2zM672 107.6h2v13.3h-2zM722 107.6h2v13.3h-2zM728 107.6h2v13.3h-2zM756 107.6h2v13.3h-2zM760 107.6h2v13.3h-2zM768 107.6h2v13.3h-2zM780 107.6h2v13.3h-2zM784 107.6h2v13.3h-2zM786 107.6h2v13.3h-2zM792 107.6h2v13.3h-2zM822 107.6h2v13.3h-2zM826 107.6h2v13.3h-2zM838 107.6h2v13.3h-2zM844 107.6h2v13.3h-2zM850 107.6h2v13.3h-2zM858 107.6h2v13.3h-2zM890 107.6h2v13.3h-2zM894 107.6h2v13.3h-2zM952 107.6h2v13.3h-2zM966 107.6h2v13.3h-2zM972 107.6h2v13.3h-2zM592 120.9h2v13.3h-2zM608 120.9h2v13.3h-2zM616 120.9h2v13.3h-2zM680 120.9h2v13.3h-2zM698 120.9h2v13.3h-2zM768 120.9h2v13.3h-2zM792 120.9h2v13.3h-2zM836 120.9h2v13.3h-2zM856 120.9h2v13.3h-2zM868 120.9h2v13.3h-2zM874 120.9h2v13.3h-2zM894 120.9h2v13.3h-2zM916 120.9h2v13.3h-2zM944 120.9h2v13.3h-2zM952 120.9h2v13.3h-2zM956 120.9h2v13.3h-2zM960 120.9h2v13.3h-2zM972 120.9h2v13.3h-2zM616 134.2h2v13.3h-2zM668 134.2h2v13.3h-2zM680 134.2h2v13.3h-2zM702 134.2h2v13.3h-2zM732 134.2h2v13.3h-2zM746 134.2h2v13.3h-2zM780 134.2h2v13.3h-2zM786 134.2h2v13.3h-2zM792 134.2h2v13.3h-2zM796 134.2h2v13.3h-2zM810 134.2h2v13.3h-2zM842 134.2h2v13.3h-2zM854 134.2h2v13.3h-2zM858 134.2h2v13.3h-2zM872 134.2h2v13.3h-2zM920 134.2h2v13.3h-2zM928 134.2h2v13.3h-2zM942 134.2h2v13.3h-2zM944 134.2h2v13.3h-2zM948 134.2h2v13.3h-2zM960 134.2h2v13.3h-2zM634 149.3h2v15.1h-2zM660 149.3h2v15.1h-2zM668 149.3h2v15.1h-2zM696 149.3h2v15.1h-2zM704 149.3h2v15.1h-2zM732 149.3h2v15.1h-2zM744 149.3h2v15.1h-2zM766 149.3h2v15.1h-2zM774 149.3h2v15.1h-2zM794 149.3h2v15.1h-2zM796 149.3h2v15.1h-2zM808 149.3h2v15.1h-2zM822 149.3h2v15.1h-2zM826 149.3h2v15.1h-2zM832 149.3h2v15.1h-2zM836 149.3h2v15.1h-2zM840 149.3h2v15.1h-2zM842 149.3h2v15.1h-2zM844 149.3h2v15.1h-2zM846 149.3h2v15.1h-2zM882 149.3h2v15.1h-2zM890 149.3h2v15.1h-2zM892 149.3h2v15.1h-2zM942 149.3h2v15.1h-2zM952 149.3h2v15.1h-2zM644 164.4h2v15.1h-2zM730 164.4h2v15.1h-2zM766 164.4h2v15.1h-2zM784 164.4h2v15.1h-2zM810 164.4h2v15.1h-2zM858 164.4h2v15.1h-2zM958 164.4h2v15.1h-2zM620 179.6h2v15.1h-2zM646 179.6h2v15.1h-2zM660 179.6h2v15.1h-2zM668 179.6h2v15.1h-2zM678 179.6h2v15.1h-2zM680 179.6h2v15.1h-2zM702 179.6h2v15.1h-2zM722 179.6h2v15.1h-2zM728 179.6h2v15.1h-2zM732 179.6h2v15.1h-2zM744 179.6h2v15.1h-2zM758 179.6h2v15.1h-2zM766 179.6h2v15.1h-2zM792 179.6h2v15.1h-2zM796 179.6h2v15.1h-2zM802 179.6h2v15.1h-2zM808 179.6h2v15.1h-2zM810 179.6h2v15.1h-2zM822 179.6h2v15.1h-2zM834 179.6h2v15.1h-2zM848 179.6h2v15.1h-2zM856 179.6h2v15.1h-2zM888 179.6h2v15.1h-2zM910 179.6h2v15.1h-2zM920 179.6h2v15.1h-2zM928 179.6h2v15.1h-2zM944 179.6h2v15.1h-2zM962 179.6h2v15.1h-2zM966 179.6h2v15.1h-2zM590 195.8h2v16.2h-2zM600 195.8h2v16.2h-2zM608 195.8h2v16.2h-2zM610 195.8h2v16.2h-2zM642 195.8h2v16.2h-2zM660 195.8h2v16.2h-2zM674 195.8h2v16.2h-2zM698 195.8h2v16.2h-2zM702 195.8h2v16.2h-2zM704 195.8h2v16.2h-2zM744 195.8h2v16.2h-2zM750 195.8h2v16.2h-2zM752 195.8h2v16.2h-2zM774 195.8h2v16.2h-2zM834 195.8h2v16.2h-2zM848 195.8h2v16.2h-2zM856 195.8h2v16.2h-2zM872 195.8h2v16.2h-2zM894 195.8h2v16.2h-2zM916 195.8h2v16.2h-2zM948 195.8h2v16.2h-2zM950 195.8h2v16.2h-2zM970 195.8h2v16.2h-2zM610 212.0h2v16.2h-2zM658 212.0h2v16.2h-2zM668 212.0h2v16.2h-2zM690 212.0h2v16.2h-2zM732 212.0h2v16.2h-2zM750 212.0h2v16.2h-2zM780 212.0h2v16.2h-2zM790 212.0h2v16.2h-2zM832 212.0h2v16.2h-2zM854 212.0h2v16.2h-2zM860 212.0h2v16.2h-2zM868 212.0h2v16.2h-2zM872 212.0h2v16.2h-2zM910 212.0h2v16.2h-2zM928 212.0h2v16.2h-2zM952 212.0h2v16.2h-2zM966 212.0h2v16.2h-2zM592 228.3h2v16.2h-2zM608 228.3h2v16.2h-2zM610 228.3h2v16.2h-2zM612 228.3h2v16.2h-2zM638 228.3h2v16.2h-2zM648 228.3h2v16.2h-2zM668 228.3h2v16.2h-2zM674 228.3h2v16.2h-2zM702 228.3h2v16.2h-2zM704 228.3h2v16.2h-2zM728 228.3h2v16.2h-2zM732 228.3h2v16.2h-2zM744 228.3h2v16.2h-2zM750 228.3h2v16.2h-2zM780 228.3h2v16.2h-2zM802 228.3h2v16.2h-2zM808 228.3h2v16.2h-2zM822 228.3h2v16.2h-2zM840 228.3h2v16.2h-2zM844 228.3h2v16.2h-2zM848 228.3h2v16.2h-2zM882 228.3h2v16.2h-2zM888 228.3h2v16.2h-2zM890 228.3h2v16.2h-2zM894 228.3h2v16.2h-2zM896 228.3h2v16.2h-2zM910 228.3h2v16.2h-2zM934 228.3h2v16.2h-2zM948 228.3h2v16.2h-2zM950 228.3h2v16.2h-2zM954 228.3h2v16.2h-2zM966 228.3h2v16.2h-2zM606 244.5h2v13.8h-2zM696 244.5h2v13.8h-2zM768 244.5h2v13.8h-2zM786 244.5h2v13.8h-2zM792 244.5h2v13.8h-2zM844 244.5h2v13.8h-2zM856 244.5h2v13.8h-2zM858 244.5h2v13.8h-2zM916 244.5h2v13.8h-2zM920 244.5h2v13.8h-2zM928 244.5h2v13.8h-2zM934 244.5h2v13.8h-2zM960 244.5h2v13.8h-2zM602 258.3h2v13.8h-2zM698 258.3h2v13.8h-2zM746 258.3h2v13.8h-2zM766 258.3h2v13.8h-2zM810 258.3h2v13.8h-2zM858 258.3h2v13.8h-2zM874 258.3h2v13.8h-2zM894 258.3h2v13.8h-2zM956 258.3h2v13.8h-2zM962 258.3h2v13.8h-2zM602 272.0h2v13.8h-2zM620 272.0h2v13.8h-2zM680 272.0h2v13.8h-2zM722 272.0h2v13.8h-2zM730 272.0h2v13.8h-2zM732 272.0h2v13.8h-2zM758 272.0h2v13.8h-2zM766 272.0h2v13.8h-2zM774 272.0h2v13.8h-2zM790 272.0h2v13.8h-2zM796 272.0h2v13.8h-2zM802 272.0h2v13.8h-2zM848 272.0h2v13.8h-2zM850 272.0h2v13.8h-2zM852 272.0h2v13.8h-2zM884 272.0h2v13.8h-2zM888 272.0h2v13.8h-2zM896 272.0h2v13.8h-2zM920 272.0h2v13.8h-2zM934 272.0h2v13.8h-2zM942 272.0h2v13.8h-2zM944 272.0h2v13.8h-2zM946 272.0h2v13.8h-2zM960 272.0h2v13.8h-2zM964 272.0h2v13.8h-2zM972 272.0h2v13.8h-2zM608 286.7h2v14.9h-2zM610 286.7h2v14.9h-2zM618 286.7h2v14.9h-2zM696 286.7h2v14.9h-2zM732 286.7h2v14.9h-2zM802 286.7h2v14.9h-2zM850 286.7h2v14.9h-2zM854 286.7h2v14.9h-2zM894 286.7h2v14.9h-2zM896 286.7h2v14.9h-2zM916 286.7h2v14.9h-2zM956 286.7h2v14.9h-2zM958 286.7h2v14.9h-2zM962 286.7h2v14.9h-2zM620 301.6h2v14.9h-2zM634 301.6h2v14.9h-2zM638 301.6h2v14.9h-2zM668 301.6h2v14.9h-2zM672 301.6h2v14.9h-2zM674 301.6h2v14.9h-2zM680 301.6h2v14.9h-2zM702 301.6h2v14.9h-2zM704 301.6h2v14.9h-2zM746 301.6h2v14.9h-2zM750 301.6h2v14.9h-2zM752 301.6h2v14.9h-2zM756 301.6h2v14.9h-2zM758 301.6h2v14.9h-2zM760 301.6h2v14.9h-2zM768 301.6h2v14.9h-2zM802 301.6h2v14.9h-2zM808 301.6h2v14.9h-2zM822 301.6h2v14.9h-2zM842 301.6h2v14.9h-2zM844 301.6h2v14.9h-2zM848 301.6h2v14.9h-2zM872 301.6h2v14.9h-2zM884 301.6h2v14.9h-2zM888 301.6h2v14.9h-2zM896 301.6h2v14.9h-2zM934 301.6h2v14.9h-2zM966 301.6h2v14.9h-2zM970 301.6h2v14.9h-2zM592 316.4h2v14.9h-2zM602 316.4h2v14.9h-2zM604 316.4h2v14.9h-2zM608 316.4h2v14.9h-2zM634 316.4h2v14.9h-2zM638 316.4h2v14.9h-2zM642 316.4h2v14.9h-2zM646 316.4h2v14.9h-2zM690 316.4h2v14.9h-2zM698 316.4h2v14.9h-2zM722 316.4h2v14.9h-2zM728 316.4h2v14.9h-2zM752 316.4h2v14.9h-2zM768 316.4h2v14.9h-2zM792 316.4h2v14.9h-2zM820 316.4h2v14.9h-2zM822 316.4h2v14.9h-2zM826 316.4h2v14.9h-2zM838 316.4h2v14.9h-2zM934 316.4h2v14.9h-2zM944 316.4h2v14.9h-2zM946 316.4h2v14.9h-2zM948 316.4h2v14.9h-2zM950 316.4h2v14.9h-2zM960 316.4h2v14.9h-2zM964 316.4h2v14.9h-2zM966 316.4h2v14.9h-2zM970 316.4h2v14.9h-2zM604 331.3h2v13.6h-2zM608 331.3h2v13.6h-2zM616 331.3h2v13.6h-2zM618 331.3h2v13.6h-2zM648 331.3h2v13.6h-2zM732 331.3h2v13.6h-2zM744 331.3h2v13.6h-2zM752 331.3h2v13.6h-2zM764 331.3h2v13.6h-2zM784 331.3h2v13.6h-2zM796 331.3h2v13.6h-2zM808 331.3h2v13.6h-2zM836 331.3h2v13.6h-2zM850 331.3h2v13.6h-2zM860 331.3h2v13.6h-2zM874 331.3h2v13.6h-2zM894 331.3h2v13.6h-2zM916 331.3h2v13.6h-2zM944 331.3h2v13.6h-2zM950 331.3h2v13.6h-2zM972 331.3h2v13.6h-2zM592 344.9h2v13.6h-2zM604 344.9h2v13.6h-2zM610 344.9h2v13.6h-2zM620 344.9h2v13.6h-2zM698 344.9h2v13.6h-2zM744 344.9h2v13.6h-2zM752 344.9h2v13.6h-2zM756 344.9h2v13.6h-2zM780 344.9h2v13.6h-2zM784 344.9h2v13.6h-2zM794 344.9h2v13.6h-2zM836 344.9h2v13.6h-2zM896 344.9h2v13.6h-2zM920 344.9h2v13.6h-2zM944 344.9h2v13.6h-2zM972 344.9h2v13.6h-2zM600 358.6h2v13.6h-2zM608 358.6h2v13.6h-2zM616 358.6h2v13.6h-2zM640 358.6h2v13.6h-2zM730 358.6h2v13.6h-2zM754 358.6h2v13.6h-2zM760 358.6h2v13.6h-2zM764 358.6h2v13.6h-2zM768 358.6h2v13.6h-2zM780 358.6h2v13.6h-2zM794 358.6h2v13.6h-2zM820 358.6h2v13.6h-2zM826 358.6h2v13.6h-2zM856 358.6h2v13.6h-2zM874 358.6h2v13.6h-2zM888 358.6h2v13.6h-2zM910 358.6h2v13.6h-2zM928 358.6h2v13.6h-2zM942 358.6h2v13.6h-2zM952 358.6h2v13.6h-2zM968 358.6h2v13.6h-2zM970 358.6h2v13.6h-2zM610 372.2h2v15.5h-2zM634 372.2h2v15.5h-2zM638 372.2h2v15.5h-2zM642 372.2h2v15.5h-2zM700 372.2h2v15.5h-2zM732 372.2h2v15.5h-2zM756 372.2h2v15.5h-2zM760 372.2h2v15.5h-2zM764 372.2h2v15.5h-2zM780 372.2h2v15.5h-2zM792 372.2h2v15.5h-2zM802 372.2h2v15.5h-2zM826 372.2h2v15.5h-2zM832 372.2h2v15.5h-2zM838 372.2h2v15.5h-2zM868 372.2h2v15.5h-2zM884 372.2h2v15.5h-2zM892 372.2h2v15.5h-2zM946 372.2h2v15.5h-2zM948 372.2h2v15.5h-2zM950 372.2h2v15.5h-2zM954 372.2h2v15.5h-2zM962 372.2h2v15.5h-2zM964 372.2h2v15.5h-2zM966 372.2h2v15.5h-2zM604 387.7h2v15.5h-2zM606 387.7h2v15.5h-2zM648 387.7h2v15.5h-2zM702 387.7h2v15.5h-2zM730 387.7h2v15.5h-2zM754 387.7h2v15.5h-2zM784 387.7h2v15.5h-2zM808 387.7h2v15.5h-2zM834 387.7h2v15.5h-2zM856 387.7h2v15.5h-2zM894 387.7h2v15.5h-2zM918 387.7h2v15.5h-2zM930 387.7h2v15.5h-2zM962 387.7h2v15.5h-2zM604 403.2h2v15.5h-2zM644 403.2h2v15.5h-2zM698 403.2h2v15.5h-2zM784 403.2h2v15.5h-2zM810 403.2h2v15.5h-2zM854 403.2h2v15.5h-2zM918 403.2h2v15.5h-2zM944 403.2h2v15.5h-2zM962 403.2h2v15.5h-2zM602 418.7h2v13.4h-2zM608 418.7h2v13.4h-2zM648 418.7h2v13.4h-2zM680 418.7h2v13.4h-2zM730 418.7h2v13.4h-2zM756 418.7h2v13.4h-2zM764 418.7h2v13.4h-2zM766 418.7h2v13.4h-2zM836 418.7h2v13.4h-2zM856 418.7h2v13.4h-2zM858 418.7h2v13.4h-2zM916 418.7h2v13.4h-2zM956 418.7h2v13.4h-2zM594 432.1h2v13.4h-2zM620 432.1h2v13.4h-2zM646 432.1h2v13.4h-2zM660 432.1h2v13.4h-2zM668 432.1h2v13.4h-2zM672 432.1h2v13.4h-2zM702 432.1h2v13.4h-2zM704 432.1h2v13.4h-2zM706 432.1h2v13.4h-2zM728 432.1h2v13.4h-2zM760 432.1h2v13.4h-2zM766 432.1h2v13.4h-2zM774 432.1h2v13.4h-2zM780 432.1h2v13.4h-2zM784 432.1h2v13.4h-2zM794 432.1h2v13.4h-2zM802 432.1h2v13.4h-2zM832 432.1h2v13.4h-2zM838 432.1h2v13.4h-2zM840 432.1h2v13.4h-2zM850 432.1h2v13.4h-2zM856 432.1h2v13.4h-2zM910 432.1h2v13.4h-2zM920 432.1h2v13.4h-2zM928 432.1h2v13.4h-2zM944 432.1h2v13.4h-2zM948 432.1h2v13.4h-2zM952 432.1h2v13.4h-2zM960 432.1h2v13.4h-2zM970 432.1h2v13.4h-2zM972 432.1h2v13.4h-2zM616 445.6h2v13.4h-2zM632 445.6h2v13.4h-2zM648 445.6h2v13.4h-2zM660 445.6h2v13.4h-2zM678 445.6h2v13.4h-2zM710 445.6h2v13.4h-2zM744 445.6h2v13.4h-2zM750 445.6h2v13.4h-2zM756 445.6h2v13.4h-2zM758 445.6h2v13.4h-2zM790 445.6h2v13.4h-2zM794 445.6h2v13.4h-2zM808 445.6h2v13.4h-2zM836 445.6h2v13.4h-2zM856 445.6h2v13.4h-2zM858 445.6h2v13.4h-2zM860 445.6h2v13.4h-2zM892 445.6h2v13.4h-2zM934 445.6h2v13.4h-2zM950 445.6h2v13.4h-2zM960 445.6h2v13.4h-2zM962 445.6h2v13.4h-2zM972 445.6h2v13.4h-2zM606 458.6h2v13.2h-2zM608 458.6h2v13.2h-2zM610 458.6h2v13.2h-2zM630 458.6h2v13.2h-2zM640 458.6h2v13.2h-2zM642 458.6h2v13.2h-2zM672 458.6h2v13.2h-2zM722 458.6h2v13.2h-2zM732 458.6h2v13.2h-2zM746 458.6h2v13.2h-2zM752 458.6h2v13.2h-2zM756 458.6h2v13.2h-2zM758 458.6h2v13.2h-2zM802 458.6h2v13.2h-2zM808 458.6h2v13.2h-2zM836 458.6h2v13.2h-2zM854 458.6h2v13.2h-2zM856 458.6h2v13.2h-2zM860 458.6h2v13.2h-2zM894 458.6h2v13.2h-2zM918 458.6h2v13.2h-2zM944 458.6h2v13.2h-2zM950 458.6h2v13.2h-2zM962 458.6h2v13.2h-2zM972 458.6h2v13.2h-2zM590 471.9h2v13.2h-2zM608 471.9h2v13.2h-2zM620 471.9h2v13.2h-2zM630 471.9h2v13.2h-2zM640 471.9h2v13.2h-2zM656 471.9h2v13.2h-2zM666 471.9h2v13.2h-2zM670 471.9h2v13.2h-2zM692 471.9h2v13.2h-2zM728 471.9h2v13.2h-2zM738 471.9h2v13.2h-2zM744 471.9h2v13.2h-2zM750 471.9h2v13.2h-2zM752 471.9h2v13.2h-2zM764 471.9h2v13.2h-2zM766 471.9h2v13.2h-2zM786 471.9h2v13.2h-2zM788 471.9h2v13.2h-2zM792 471.9h2v13.2h-2zM802 471.9h2v13.2h-2zM804 471.9h2v13.2h-2zM858 471.9h2v13.2h-2zM890 471.9h2v13.2h-2zM892 471.9h2v13.2h-2zM896 471.9h2v13.2h-2zM910 471.9h2v13.2h-2zM914 471.9h2v13.2h-2zM918 471.9h2v13.2h-2zM928 471.9h2v13.2h-2zM930 471.9h2v13.2h-2zM938 471.9h2v13.2h-2zM946 471.9h2v13.2h-2zM948 471.9h2v13.2h-2zM954 471.9h2v13.2h-2zM972 471.9h2v13.2h-2zM594 485.1h2v13.2h-2zM600 485.1h2v13.2h-2zM606 485.1h2v13.2h-2zM612 485.1h2v13.2h-2zM638 485.1h2v13.2h-2zM650 485.1h2v13.2h-2zM660 485.1h2v13.2h-2zM666 485.1h2v13.2h-2zM670 485.1h2v13.2h-2zM686 485.1h2v13.2h-2zM696 485.1h2v13.2h-2zM746 485.1h2v13.2h-2zM752 485.1h2v13.2h-2zM780 485.1h2v13.2h-2zM788 485.1h2v13.2h-2zM790 485.1h2v13.2h-2zM808 485.1h2v13.2h-2zM812 485.1h2v13.2h-2zM818 485.1h2v13.2h-2zM820 485.1h2v13.2h-2zM822 485.1h2v13.2h-2zM836 485.1h2v13.2h-2zM854 485.1h2v13.2h-2zM868 485.1h2v13.2h-2zM872 485.1h2v13.2h-2zM880 485.1h2v13.2h-2zM884 485.1h2v13.2h-2zM890 485.1h2v13.2h-2zM902 485.1h2v13.2h-2zM930 485.1h2v13.2h-2zM934 485.1h2v13.2h-2zM944 485.1h2v13.2h-2zM952 485.1h2v13.2h-2zM968 485.1h2v13.2h-2zM590 498.4h2v13.2h-2zM612 498.4h2v13.2h-2zM630 498.4h2v13.2h-2zM632 498.4h2v13.2h-2zM660 498.4h2v13.2h-2zM672 498.4h2v13.2h-2zM680 498.4h2v13.2h-2zM760 498.4h2v13.2h-2zM768 498.4h2v13.2h-2zM774 498.4h2v13.2h-2zM790 498.4h2v13.2h-2zM792 498.4h2v13.2h-2zM796 498.4h2v13.2h-2zM802 498.4h2v13.2h-2zM820 498.4h2v13.2h-2zM840 498.4h2v13.2h-2zM850 498.4h2v13.2h-2zM870 498.4h2v13.2h-2zM888 498.4h2v13.2h-2zM894 498.4h2v13.2h-2zM910 498.4h2v13.2h-2zM930 498.4h2v13.2h-2zM934 498.4h2v13.2h-2zM946 498.4h2v13.2h-2zM948 498.4h2v13.2h-2zM958 498.4h2v13.2h-2zM964 498.4h2v13.2h-2zM968 498.4h2v13.2h-2zM600 512.1h2v14.4h-2zM604 512.1h2v14.4h-2zM620 512.1h2v14.4h-2zM638 512.1h2v14.4h-2zM658 512.1h2v14.4h-2zM668 512.1h2v14.4h-2zM690 512.1h2v14.4h-2zM692 512.1h2v14.4h-2zM698 512.1h2v14.4h-2zM710 512.1h2v14.4h-2zM728 512.1h2v14.4h-2zM748 512.1h2v14.4h-2zM754 512.1h2v14.4h-2zM784 512.1h2v14.4h-2zM796 512.1h2v14.4h-2zM802 512.1h2v14.4h-2zM826 512.1h2v14.4h-2zM868 512.1h2v14.4h-2zM872 512.1h2v14.4h-2zM874 512.1h2v14.4h-2zM916 512.1h2v14.4h-2zM928 512.1h2v14.4h-2zM934 512.1h2v14.4h-2zM948 512.1h2v14.4h-2zM592 526.5h2v14.4h-2zM600 526.5h2v14.4h-2zM602 526.5h2v14.4h-2zM610 526.5h2v14.4h-2zM632 526.5h2v14.4h-2zM638 526.5h2v14.4h-2zM640 526.5h2v14.4h-2zM692 526.5h2v14.4h-2zM702 526.5h2v14.4h-2zM706 526.5h2v14.4h-2zM710 526.5h2v14.4h-2zM728 526.5h2v14.4h-2zM732 526.5h2v14.4h-2zM750 526.5h2v14.4h-2zM752 526.5h2v14.4h-2zM758 526.5h2v14.4h-2zM768 526.5h2v14.4h-2zM774 526.5h2v14.4h-2zM780 526.5h2v14.4h-2zM788 526.5h2v14.4h-2zM792 526.5h2v14.4h-2zM840 526.5h2v14.4h-2zM842 526.5h2v14.4h-2zM854 526.5h2v14.4h-2zM872 526.5h2v14.4h-2zM880 526.5h2v14.4h-2zM910 526.5h2v14.4h-2zM916 526.5h2v14.4h-2zM942 526.5h2v14.4h-2zM944 526.5h2v14.4h-2zM948 526.5h2v14.4h-2zM950 526.5h2v14.4h-2zM960 526.5h2v14.4h-2zM606 540.9h2v14.4h-2zM608 540.9h2v14.4h-2zM630 540.9h2v14.4h-2zM638 540.9h2v14.4h-2zM656 540.9h2v14.4h-2zM658 540.9h2v14.4h-2zM678 540.9h2v14.4h-2zM680 540.9h2v14.4h-2zM690 540.9h2v14.4h-2zM702 540.9h2v14.4h-2zM758 540.9h2v14.4h-2zM808 540.9h2v14.4h-2zM836 540.9h2v14.4h-2zM872 540.9h2v14.4h-2zM874 540.9h2v14.4h-2zM956 540.9h2v14.4h-2zM610 556.2h2v12.5h-2zM616 556.2h2v12.5h-2zM618 556.2h2v12.5h-2zM644 556.2h2v12.5h-2zM646 556.2h2v12.5h-2zM658 556.2h2v12.5h-2zM660 556.2h2v12.5h-2zM702 556.2h2v12.5h-2zM722 556.2h2v12.5h-2zM746 556.2h2v12.5h-2zM756 556.2h2v12.5h-2zM764 556.2h2v12.5h-2zM796 556.2h2v12.5h-2zM810 556.2h2v12.5h-2zM834 556.2h2v12.5h-2zM854 556.2h2v12.5h-2zM896 556.2h2v12.5h-2zM916 556.2h2v12.5h-2zM928 556.2h2v12.5h-2zM956 556.2h2v12.5h-2zM600 568.7h2v12.4h-2zM602 568.7h2v12.4h-2zM636 568.7h2v12.4h-2zM642 568.7h2v12.4h-2zM654 568.7h2v12.4h-2zM656 568.7h2v12.4h-2zM688 568.7h2v12.4h-2zM696 568.7h2v12.4h-2zM702 568.7h2v12.4h-2zM710 568.7h2v12.4h-2zM768 568.7h2v12.4h-2zM780 568.7h2v12.4h-2zM800 568.7h2v12.4h-2zM832 568.7h2v12.4h-2zM836 568.7h2v12.4h-2zM844 568.7h2v12.4h-2zM846 568.7h2v12.4h-2zM866 568.7h2v12.4h-2zM868 568.7h2v12.4h-2zM880 568.7h2v12.4h-2zM882 568.7h2v12.4h-2zM888 568.7h2v12.4h-2zM890 568.7h2v12.4h-2zM914 568.7h2v12.4h-2zM926 568.7h2v12.4h-2zM930 568.7h2v12.4h-2zM952 568.7h2v12.4h-2zM954 568.7h2v12.4h-2zM956 568.7h2v12.4h-2zM960 568.7h2v12.4h-2zM966 568.7h2v12.4h-2zM602 581.1h2v12.4h-2zM616 581.1h2v12.4h-2zM638 581.1h2v12.4h-2zM670 581.1h2v12.4h-2zM706 581.1h2v12.4h-2zM712 581.1h2v12.4h-2zM722 581.1h2v12.4h-2zM744 581.1h2v12.4h-2zM784 581.1h2v12.4h-2zM790 581.1h2v12.4h-2zM794 581.1h2v12.4h-2zM802 581.1h2v12.4h-2zM808 581.1h2v12.4h-2zM810 581.1h2v12.4h-2zM832 581.1h2v12.4h-2zM838 581.1h2v12.4h-2zM842 581.1h2v12.4h-2zM890 581.1h2v12.4h-2zM892 581.1h2v12.4h-2zM918 581.1h2v12.4h-2zM934 581.1h2v12.4h-2zM938 581.1h2v12.4h-2zM942 581.1h2v12.4h-2zM952 581.1h2v12.4h-2zM954 581.1h2v12.4h-2zM956 581.1h2v12.4h-2zM606 593.5h2v12.5h-2zM618 593.5h2v12.5h-2zM630 593.5h2v12.5h-2zM638 593.5h2v12.5h-2zM642 593.5h2v12.5h-2zM644 593.5h2v12.5h-2zM690 593.5h2v12.5h-2zM752 593.5h2v12.5h-2zM756 593.5h2v12.5h-2zM784 593.5h2v12.5h-2zM794 593.5h2v12.5h-2zM836 593.5h2v12.5h-2zM844 593.5h2v12.5h-2zM850 593.5h2v12.5h-2zM852 593.5h2v12.5h-2zM866 593.5h2v12.5h-2zM874 593.5h2v12.5h-2zM884 593.5h2v12.5h-2zM894 593.5h2v12.5h-2zM920 593.5h2v12.5h-2zM938 593.5h2v12.5h-2zM942 593.5h2v12.5h-2zM952 593.5h2v12.5h-2zM954 593.5h2v12.5h-2zM958 593.5h2v12.5h-2zM592 606.4h2v15.6h-2zM608 606.4h2v15.6h-2zM620 606.4h2v15.6h-2zM630 606.4h2v15.6h-2zM638 606.4h2v15.6h-2zM640 606.4h2v15.6h-2zM646 606.4h2v15.6h-2zM648 606.4h2v15.6h-2zM666 606.4h2v15.6h-2zM698 606.4h2v15.6h-2zM706 606.4h2v15.6h-2zM738 606.4h2v15.6h-2zM774 606.4h2v15.6h-2zM786 606.4h2v15.6h-2zM788 606.4h2v15.6h-2zM792 606.4h2v15.6h-2zM818 606.4h2v15.6h-2zM868 606.4h2v15.6h-2zM872 606.4h2v15.6h-2zM884 606.4h2v15.6h-2zM888 606.4h2v15.6h-2zM926 606.4h2v15.6h-2zM938 606.4h2v15.6h-2zM946 606.4h2v15.6h-2zM952 606.4h2v15.6h-2zM592 622.0h2v15.6h-2zM594 622.0h2v15.6h-2zM600 622.0h2v15.6h-2zM616 622.0h2v15.6h-2zM620 622.0h2v15.6h-2zM634 622.0h2v15.6h-2zM642 622.0h2v15.6h-2zM646 622.0h2v15.6h-2zM658 622.0h2v15.6h-2zM672 622.0h2v15.6h-2zM678 622.0h2v15.6h-2zM690 622.0h2v15.6h-2zM696 622.0h2v15.6h-2zM706 622.0h2v15.6h-2zM728 622.0h2v15.6h-2zM764 622.0h2v15.6h-2zM790 622.0h2v15.6h-2zM804 622.0h2v15.6h-2zM842 622.0h2v15.6h-2zM852 622.0h2v15.6h-2zM856 622.0h2v15.6h-2zM868 622.0h2v15.6h-2zM872 622.0h2v15.6h-2zM882 622.0h2v15.6h-2zM888 622.0h2v15.6h-2zM918 622.0h2v15.6h-2zM944 622.0h2v15.6h-2zM952 622.0h2v15.6h-2zM960 622.0h2v15.6h-2zM596 637.7h2v15.6h-2zM614 637.7h2v15.6h-2zM616 637.7h2v15.6h-2zM620 637.7h2v15.6h-2zM634 637.7h2v15.6h-2zM642 637.7h2v15.6h-2zM644 637.7h2v15.6h-2zM646 637.7h2v15.6h-2zM648 637.7h2v15.6h-2zM678 637.7h2v15.6h-2zM706 637.7h2v15.6h-2zM730 637.7h2v15.6h-2zM738 637.7h2v15.6h-2zM758 637.7h2v15.6h-2zM764 637.7h2v15.6h-2zM792 637.7h2v15.6h-2zM794 637.7h2v15.6h-2zM804 637.7h2v15.6h-2zM826 637.7h2v15.6h-2zM846 637.7h2v15.6h-2zM850 637.7h2v15.6h-2zM852 637.7h2v15.6h-2zM870 637.7h2v15.6h-2zM886 637.7h2v15.6h-2zM894 637.7h2v15.6h-2zM896 637.7h2v15.6h-2zM910 637.7h2v15.6h-2zM914 637.7h2v15.6h-2zM916 637.7h2v15.6h-2zM932 637.7h2v15.6h-2zM942 637.7h2v15.6h-2zM950 637.7h2v15.6h-2zM954 637.7h2v15.6h-2zM968 637.7h2v15.6h-2zM594 653.3h2v15.7h-2zM600 653.3h2v15.7h-2zM632 653.3h2v15.7h-2zM636 653.3h2v15.7h-2zM648 653.3h2v15.7h-2zM656 653.3h2v15.7h-2zM658 653.3h2v15.7h-2zM670 653.3h2v15.7h-2zM686 653.3h2v15.7h-2zM728 653.3h2v15.7h-2zM750 653.3h2v15.7h-2zM784 653.3h2v15.7h-2zM786 653.3h2v15.7h-2zM790 653.3h2v15.7h-2zM820 653.3h2v15.7h-2zM846 653.3h2v15.7h-2zM848 653.3h2v15.7h-2zM850 653.3h2v15.7h-2zM858 653.3h2v15.7h-2zM880 653.3h2v15.7h-2zM884 653.3h2v15.7h-2zM892 653.3h2v15.7h-2zM918 653.3h2v15.7h-2zM934 653.3h2v15.7h-2zM938 653.3h2v15.7h-2zM948 653.3h2v15.7h-2zM954 653.3h2v15.7h-2zM964 653.3h2v15.7h-2zM968 653.3h2v15.7h-2zM592 669.0h2v15.7h-2zM610 669.0h2v15.7h-2zM616 669.0h2v15.7h-2zM634 669.0h2v15.7h-2zM696 669.0h2v15.7h-2zM704 669.0h2v15.7h-2zM722 669.0h2v15.7h-2zM784 669.0h2v15.7h-2zM794 669.0h2v15.7h-2zM802 669.0h2v15.7h-2zM822 669.0h2v15.7h-2zM832 669.0h2v15.7h-2zM844 669.0h2v15.7h-2zM896 669.0h2v15.7h-2zM958 669.0h2v15.7h-2zM962 669.0h2v15.7h-2zM972 669.0h2v15.7h-2zM604 684.7h2v15.7h-2zM606 684.7h2v15.7h-2zM616 684.7h2v15.7h-2zM630 684.7h2v15.7h-2zM668 684.7h2v15.7h-2zM674 684.7h2v15.7h-2zM690 684.7h2v15.7h-2zM696 684.7h2v15.7h-2zM702 684.7h2v15.7h-2zM704 684.7h2v15.7h-2zM706 684.7h2v15.7h-2zM750 684.7h2v15.7h-2zM784 684.7h2v15.7h-2zM796 684.7h2v15.7h-2zM802 684.7h2v15.7h-2zM822 684.7h2v15.7h-2zM826 684.7h2v15.7h-2zM834 684.7h2v15.7h-2zM860 684.7h2v15.7h-2zM872 684.7h2v15.7h-2zM896 684.7h2v15.7h-2zM916 684.7h2v15.7h-2zM920 684.7h2v15.7h-2zM930 684.7h2v15.7h-2zM960 684.7h2v15.7h-2zM962 684.7h2v15.7h-2zM972 684.7h2v15.7h-2zM590 701.0h2v15.9h-2zM594 701.0h2v15.9h-2zM602 701.0h2v15.9h-2zM616 701.0h2v15.9h-2zM642 701.0h2v15.9h-2zM672 701.0h2v15.9h-2zM678 701.0h2v15.9h-2zM698 701.0h2v15.9h-2zM710 701.0h2v15.9h-2zM728 701.0h2v15.9h-2zM756 701.0h2v15.9h-2zM758 701.0h2v15.9h-2zM802 701.0h2v15.9h-2zM826 701.0h2v15.9h-2zM832 701.0h2v15.9h-2zM834 701.0h2v15.9h-2zM836 701.0h2v15.9h-2zM894 701.0h2v15.9h-2zM928 701.0h2v15.9h-2zM972 701.0h2v15.9h-2zM608 716.9h2v15.9h-2zM638 716.9h2v15.9h-2zM660 716.9h2v15.9h-2zM690 716.9h2v15.9h-2zM704 716.9h2v15.9h-2zM710 716.9h2v15.9h-2zM730 716.9h2v15.9h-2zM750 716.9h2v15.9h-2zM758 716.9h2v15.9h-2zM796 716.9h2v15.9h-2zM802 716.9h2v15.9h-2zM810 716.9h2v15.9h-2zM822 716.9h2v15.9h-2zM836 716.9h2v15.9h-2zM838 716.9h2v15.9h-2zM850 716.9h2v15.9h-2zM854 716.9h2v15.9h-2zM856 716.9h2v15.9h-2zM858 716.9h2v15.9h-2zM874 716.9h2v15.9h-2zM882 716.9h2v15.9h-2zM920 716.9h2v15.9h-2zM944 716.9h2v15.9h-2zM960 716.9h2v15.9h-2zM602 732.9h2v15.9h-2zM606 732.9h2v15.9h-2zM608 732.9h2v15.9h-2zM650 732.9h2v15.9h-2zM696 732.9h2v15.9h-2zM720 732.9h2v15.9h-2zM722 732.9h2v15.9h-2zM738 732.9h2v15.9h-2zM748 732.9h2v15.9h-2zM768 732.9h2v15.9h-2zM808 732.9h2v15.9h-2zM834 732.9h2v15.9h-2zM842 732.9h2v15.9h-2zM846 732.9h2v15.9h-2zM852 732.9h2v15.9h-2zM872 732.9h2v15.9h-2zM874 732.9h2v15.9h-2zM880 732.9h2v15.9h-2zM882 732.9h2v15.9h-2zM884 732.9h2v15.9h-2zM890 732.9h2v15.9h-2zM896 732.9h2v15.9h-2zM910 732.9h2v15.9h-2zM920 732.9h2v15.9h-2zM934 732.9h2v15.9h-2zM948 732.9h2v15.9h-2zM954 732.9h2v15.9h-2zM964 732.9h2v15.9h-2zM592 750.1h2v10.8h-2zM602 750.1h2v10.8h-2zM608 750.1h2v10.8h-2zM620 750.1h2v10.8h-2zM632 750.1h2v10.8h-2zM658 750.1h2v10.8h-2zM660 750.1h2v10.8h-2zM678 750.1h2v10.8h-2zM690 750.1h2v10.8h-2zM696 750.1h2v10.8h-2zM728 750.1h2v10.8h-2zM732 750.1h2v10.8h-2zM744 750.1h2v10.8h-2zM752 750.1h2v10.8h-2zM760 750.1h2v10.8h-2zM764 750.1h2v10.8h-2zM766 750.1h2v10.8h-2zM768 750.1h2v10.8h-2zM780 750.1h2v10.8h-2zM834 750.1h2v10.8h-2zM868 750.1h2v10.8h-2zM874 750.1h2v10.8h-2zM882 750.1h2v10.8h-2zM896 750.1h2v10.8h-2zM918 750.1h2v10.8h-2zM920 750.1h2v10.8h-2zM962 750.1h2v10.8h-2zM972 750.1h2v10.8h-2zM594 763.7h2v17.6h-2zM600 763.7h2v17.6h-2zM612 763.7h2v17.6h-2zM616 763.7h2v17.6h-2zM640 763.7h2v17.6h-2zM648 763.7h2v17.6h-2zM706 763.7h2v17.6h-2zM738 763.7h2v17.6h-2zM756 763.7h2v17.6h-2zM774 763.7h2v17.6h-2zM778 763.7h2v17.6h-2zM788 763.7h2v17.6h-2zM796 763.7h2v17.6h-2zM840 763.7h2v17.6h-2zM842 763.7h2v17.6h-2zM846 763.7h2v17.6h-2zM848 763.7h2v17.6h-2zM852 763.7h2v17.6h-2zM934 763.7h2v17.6h-2zM952 763.7h2v17.6h-2zM954 763.7h2v17.6h-2zM966 763.7h2v17.6h-2zM602 781.3h2v17.2h-2zM604 781.3h2v17.2h-2zM606 781.3h2v17.2h-2zM618 781.3h2v17.2h-2zM620 781.3h2v17.2h-2zM648 781.3h2v17.2h-2zM668 781.3h2v17.2h-2zM702 781.3h2v17.2h-2zM722 781.3h2v17.2h-2zM732 781.3h2v17.2h-2zM744 781.3h2v17.2h-2zM752 781.3h2v17.2h-2zM758 781.3h2v17.2h-2zM780 781.3h2v17.2h-2zM802 781.3h2v17.2h-2zM920 781.3h2v17.2h-2zM958 781.3h2v17.2h-2zM972 781.3h2v17.2h-2zM592 798.5h2v17.2h-2zM616 798.5h2v17.2h-2zM618 798.5h2v17.2h-2zM620 798.5h2v17.2h-2zM634 798.5h2v17.2h-2zM636 798.5h2v17.2h-2zM640 798.5h2v17.2h-2zM656 798.5h2v17.2h-2zM672 798.5h2v17.2h-2zM704 798.5h2v17.2h-2zM732 798.5h2v17.2h-2zM750 798.5h2v17.2h-2zM760 798.5h2v17.2h-2zM820 798.5h2v17.2h-2zM856 798.5h2v17.2h-2zM866 798.5h2v17.2h-2zM870 798.5h2v17.2h-2zM882 798.5h2v17.2h-2zM892 798.5h2v17.2h-2zM896 798.5h2v17.2h-2zM938 798.5h2v17.2h-2zM948 798.5h2v17.2h-2zM970 798.5h2v17.2h-2zM602 816.0h2v15.5h-2zM608 816.0h2v15.5h-2zM610 816.0h2v15.5h-2zM634 816.0h2v15.5h-2zM638 816.0h2v15.5h-2zM640 816.0h2v15.5h-2zM646 816.0h2v15.5h-2zM648 816.0h2v15.5h-2zM656 816.0h2v15.5h-2zM678 816.0h2v15.5h-2zM696 816.0h2v15.5h-2zM700 816.0h2v15.5h-2zM750 816.0h2v15.5h-2zM752 816.0h2v15.5h-2zM758 816.0h2v15.5h-2zM766 816.0h2v15.5h-2zM802 816.0h2v15.5h-2zM820 816.0h2v15.5h-2zM858 816.0h2v15.5h-2zM874 816.0h2v15.5h-2zM888 816.0h2v15.5h-2zM920 816.0h2v15.5h-2zM928 816.0h2v15.5h-2zM934 816.0h2v15.5h-2zM958 816.0h2v15.5h-2zM594 833.3h2v11.2h-2zM602 833.3h2v11.2h-2zM634 833.3h2v11.2h-2zM638 833.3h2v11.2h-2zM640 833.3h2v11.2h-2zM678 833.3h2v11.2h-2zM710 833.3h2v11.2h-2zM756 833.3h2v11.2h-2zM758 833.3h2v11.2h-2zM766 833.3h2v11.2h-2zM768 833.3h2v11.2h-2zM780 833.3h2v11.2h-2zM790 833.3h2v11.2h-2zM802 833.3h2v11.2h-2zM808 833.3h2v11.2h-2zM826 833.3h2v11.2h-2zM844 833.3h2v11.2h-2zM846 833.3h2v11.2h-2zM872 833.3h2v11.2h-2zM890 833.3h2v11.2h-2zM896 833.3h2v11.2h-2zM910 833.3h2v11.2h-2zM916 833.3h2v11.2h-2zM920 833.3h2v11.2h-2zM942 833.3h2v11.2h-2zM946 833.3h2v11.2h-2zM950 833.3h2v11.2h-2zM952 833.3h2v11.2h-2zM954 833.3h2v11.2h-2zM966 833.3h2v11.2h-2zM592 844.5h2v11.1h-2zM594 844.5h2v11.1h-2zM638 844.5h2v11.1h-2zM646 844.5h2v11.1h-2zM656 844.5h2v11.1h-2zM668 844.5h2v11.1h-2zM674 844.5h2v11.1h-2zM700 844.5h2v11.1h-2zM704 844.5h2v11.1h-2zM706 844.5h2v11.1h-2zM732 844.5h2v11.1h-2zM744 844.5h2v11.1h-2zM764 844.5h2v11.1h-2zM768 844.5h2v11.1h-2zM774 844.5h2v11.1h-2zM780 844.5h2v11.1h-2zM794 844.5h2v11.1h-2zM802 844.5h2v11.1h-2zM836 844.5h2v11.1h-2zM838 844.5h2v11.1h-2zM840 844.5h2v11.1h-2zM916 844.5h2v11.1h-2zM928 844.5h2v11.1h-2zM930 844.5h2v11.1h-2zM942 844.5h2v11.1h-2zM944 844.5h2v11.1h-2zM958 844.5h2v11.1h-2zM960 844.5h2v11.1h-2zM966 844.5h2v11.1h-2zM610 855.8h2v12.0h-2zM620 855.8h2v12.0h-2zM642 855.8h2v12.0h-2zM656 855.8h2v12.0h-2zM670 855.8h2v12.0h-2zM672 855.8h2v12.0h-2zM678 855.8h2v12.0h-2zM686 855.8h2v12.0h-2zM700 855.8h2v12.0h-2zM710 855.8h2v12.0h-2zM720 855.8h2v12.0h-2zM744 855.8h2v12.0h-2zM746 855.8h2v12.0h-2zM766 855.8h2v12.0h-2zM782 855.8h2v12.0h-2zM790 855.8h2v12.0h-2zM796 855.8h2v12.0h-2zM840 855.8h2v12.0h-2zM854 855.8h2v12.0h-2zM892 855.8h2v12.0h-2zM914 855.8h2v12.0h-2zM938 855.8h2v12.0h-2zM964 855.8h2v12.0h-2zM602 867.8h2v12.0h-2zM646 867.8h2v12.0h-2zM704 867.8h2v12.0h-2zM722 867.8h2v12.0h-2zM732 867.8h2v12.0h-2zM752 867.8h2v12.0h-2zM758 867.8h2v12.0h-2zM774 867.8h2v12.0h-2zM786 867.8h2v12.0h-2zM824 867.8h2v12.0h-2zM840 867.8h2v12.0h-2zM846 867.8h2v12.0h-2zM848 867.8h2v12.0h-2zM868 867.8h2v12.0h-2zM894 867.8h2v12.0h-2zM896 867.8h2v12.0h-2zM944 867.8h2v12.0h-2zM590 880.6h2v11.2h-2zM594 880.6h2v11.2h-2zM604 880.6h2v11.2h-2zM612 880.6h2v11.2h-2zM618 880.6h2v11.2h-2zM644 880.6h2v11.2h-2zM668 880.6h2v11.2h-2zM678 880.6h2v11.2h-2zM680 880.6h2v11.2h-2zM690 880.6h2v11.2h-2zM700 880.6h2v11.2h-2zM704 880.6h2v11.2h-2zM744 880.6h2v11.2h-2zM768 880.6h2v11.2h-2zM788 880.6h2v11.2h-2zM798 880.6h2v11.2h-2zM800 880.6h2v11.2h-2zM802 880.6h2v11.2h-2zM818 880.6h2v11.2h-2zM820 880.6h2v11.2h-2zM826 880.6h2v11.2h-2zM848 880.6h2v11.2h-2zM854 880.6h2v11.2h-2zM880 880.6h2v11.2h-2zM884 880.6h2v11.2h-2zM920 880.6h2v11.2h-2zM926 880.6h2v11.2h-2zM928 880.6h2v11.2h-2zM934 880.6h2v11.2h-2zM948 880.6h2v11.2h-2zM952 880.6h2v11.2h-2zM592 891.8h2v11.2h-2zM616 891.8h2v11.2h-2zM620 891.8h2v11.2h-2zM634 891.8h2v11.2h-2zM642 891.8h2v11.2h-2zM656 891.8h2v11.2h-2zM690 891.8h2v11.2h-2zM710 891.8h2v11.2h-2zM760 891.8h2v11.2h-2zM774 891.8h2v11.2h-2zM834 891.8h2v11.2h-2zM848 891.8h2v11.2h-2zM866 891.8h2v11.2h-2zM870 891.8h2v11.2h-2zM884 891.8h2v11.2h-2zM928 891.8h2v11.2h-2zM930 891.8h2v11.2h-2zM948 891.8h2v11.2h-2zM962 891.8h2v11.2h-2zM966 891.8h2v11.2h-2zM590 905.0h2v16.6h-2zM592 905.0h2v16.6h-2zM612 905.0h2v16.6h-2zM620 905.0h2v16.6h-2zM630 905.0h2v16.6h-2zM638 905.0h2v16.6h-2zM642 905.0h2v16.6h-2zM644 905.0h2v16.6h-2zM672 905.0h2v16.6h-2zM680 905.0h2v16.6h-2zM698 905.0h2v16.6h-2zM706 905.0h2v16.6h-2zM710 905.0h2v16.6h-2zM754 905.0h2v16.6h-2zM788 905.0h2v16.6h-2zM794 905.0h2v16.6h-2zM820 905.0h2v16.6h-2zM824 905.0h2v16.6h-2zM838 905.0h2v16.6h-2zM854 905.0h2v16.6h-2zM860 905.0h2v16.6h-2zM868 905.0h2v16.6h-2zM870 905.0h2v16.6h-2zM880 905.0h2v16.6h-2zM892 905.0h2v16.6h-2zM934 905.0h2v16.6h-2zM952 905.0h2v16.6h-2zM954 905.0h2v16.6h-2zM962 905.0h2v16.6h-2zM970 905.0h2v16.6h-2zM972 905.0h2v16.6h-2zM594 922.4h2v11.8h-2zM610 922.4h2v11.8h-2zM618 922.4h2v11.8h-2zM630 922.4h2v11.8h-2zM632 922.4h2v11.8h-2zM634 922.4h2v11.8h-2zM642 922.4h2v11.8h-2zM656 922.4h2v11.8h-2zM660 922.4h2v11.8h-2zM674 922.4h2v11.8h-2zM678 922.4h2v11.8h-2zM680 922.4h2v11.8h-2zM690 922.4h2v11.8h-2zM710 922.4h2v11.8h-2zM732 922.4h2v11.8h-2zM752 922.4h2v11.8h-2zM758 922.4h2v11.8h-2zM768 922.4h2v11.8h-2zM794 922.4h2v11.8h-2zM808 922.4h2v11.8h-2zM818 922.4h2v11.8h-2zM836 922.4h2v11.8h-2zM840 922.4h2v11.8h-2zM848 922.4h2v11.8h-2zM858 922.4h2v11.8h-2zM868 922.4h2v11.8h-2zM874 922.4h2v11.8h-2zM888 922.4h2v11.8h-2zM958 922.4h2v11.8h-2zM602 934.2h2v11.8h-2zM608 934.2h2v11.8h-2zM616 934.2h2v11.8h-2zM618 934.2h2v11.8h-2zM658 934.2h2v11.8h-2zM680 934.2h2v11.8h-2zM696 934.2h2v11.8h-2zM702 934.2h2v11.8h-2zM744 934.2h2v11.8h-2zM756 934.2h2v11.8h-2zM758 934.2h2v11.8h-2zM794 934.2h2v11.8h-2zM808 934.2h2v11.8h-2zM832 934.2h2v11.8h-2zM844 934.2h2v11.8h-2zM860 934.2h2v11.8h-2zM868 934.2h2v11.8h-2zM894 934.2h2v11.8h-2zM958 934.2h2v11.8h-2zM606 946.4h2v18.6h-2zM610 946.4h2v18.6h-2zM620 946.4h2v18.6h-2zM632 946.4h2v18.6h-2zM640 946.4h2v18.6h-2zM668 946.4h2v18.6h-2zM672 946.4h2v18.6h-2zM674 946.4h2v18.6h-2zM698 946.4h2v18.6h-2zM704 946.4h2v18.6h-2zM722 946.4h2v18.6h-2zM730 946.4h2v18.6h-2zM744 946.4h2v18.6h-2zM746 946.4h2v18.6h-2zM784 946.4h2v18.6h-2zM792 946.4h2v18.6h-2zM794 946.4h2v18.6h-2zM826 946.4h2v18.6h-2zM832 946.4h2v18.6h-2zM846 946.4h2v18.6h-2zM854 946.4h2v18.6h-2zM888 946.4h2v18.6h-2zM934 946.4h2v18.6h-2z" fill="#4a5cff" fill-opacity="0.10"/>
<path d="M918 52.6h2v13.9h-2zM962 52.6h2v13.9h-2zM858 66.5h2v13.9h-2zM894 66.5h2v13.9h-2zM602 80.4h2v13.9h-2zM604 80.4h2v13.9h-2zM606 80.4h2v13.9h-2zM644 80.4h2v13.9h-2zM646 80.4h2v13.9h-2zM648 80.4h2v13.9h-2zM698 80.4h2v13.9h-2zM756 80.4h2v13.9h-2zM796 80.4h2v13.9h-2zM810 80.4h2v13.9h-2zM836 80.4h2v13.9h-2zM854 80.4h2v13.9h-2zM874 80.4h2v13.9h-2zM960 80.4h2v13.9h-2zM616 94.3h2v13.3h-2zM658 94.3h2v13.3h-2zM668 94.3h2v13.3h-2zM698 94.3h2v13.3h-2zM700 94.3h2v13.3h-2zM768 94.3h2v13.3h-2zM780 94.3h2v13.3h-2zM822 94.3h2v13.3h-2zM832 94.3h2v13.3h-2zM834 94.3h2v13.3h-2zM838 94.3h2v13.3h-2zM592 107.6h2v13.3h-2zM618 107.6h2v13.3h-2zM698 107.6h2v13.3h-2zM790 107.6h2v13.3h-2zM796 107.6h2v13.3h-2zM808 107.6h2v13.3h-2zM868 107.6h2v13.3h-2zM874 107.6h2v13.3h-2zM916 107.6h2v13.3h-2zM918 107.6h2v13.3h-2zM928 107.6h2v13.3h-2zM648 134.2h2v13.3h-2zM698 134.2h2v13.3h-2zM744 134.2h2v13.3h-2zM752 134.2h2v13.3h-2zM754 134.2h2v13.3h-2zM764 134.2h2v13.3h-2zM834 134.2h2v13.3h-2zM836 134.2h2v13.3h-2zM860 134.2h2v13.3h-2zM930 134.2h2v13.3h-2zM950 134.2h2v13.3h-2zM956 134.2h2v13.3h-2zM958 134.2h2v13.3h-2zM646 149.3h2v15.1h-2zM658 149.3h2v15.1h-2zM722 149.3h2v15.1h-2zM730 149.3h2v15.1h-2zM758 149.3h2v15.1h-2zM764 149.3h2v15.1h-2zM784 149.3h2v15.1h-2zM786 149.3h2v15.1h-2zM792 149.3h2v15.1h-2zM802 149.3h2v15.1h-2zM854 149.3h2v15.1h-2zM860 149.3h2v15.1h-2zM894 149.3h2v15.1h-2zM928 149.3h2v15.1h-2zM944 149.3h2v15.1h-2zM958 149.3h2v15.1h-2zM960 149.3h2v15.1h-2zM602 179.6h2v15.1h-2zM648 179.6h2v15.1h-2zM700 179.6h2v15.1h-2zM752 179.6h2v15.1h-2zM838 179.6h2v15.1h-2zM874 179.6h2v15.1h-2zM896 179.6h2v15.1h-2zM916 179.6h2v15.1h-2zM956 179.6h2v15.1h-2zM960 179.6h2v15.1h-2zM604 195.8h2v16.2h-2zM646 195.8h2v16.2h-2zM658 195.8h2v16.2h-2zM696 195.8h2v16.2h-2zM746 195.8h2v16.2h-2zM756 195.8h2v16.2h-2zM764 195.8h2v16.2h-2zM826 195.8h2v16.2h-2zM832 195.8h2v16.2h-2zM836 195.8h2v16.2h-2zM838 195.8h2v16.2h-2zM842 195.8h2v16.2h-2zM854 195.8h2v16.2h-2zM868 195.8h2v16.2h-2zM934 195.8h2v16.2h-2zM944 195.8h2v16.2h-2zM960 195.8h2v16.2h-2zM606 212.0h2v16.2h-2zM646 212.0h2v16.2h-2zM680 212.0h2v16.2h-2zM756 212.0h2v16.2h-2zM764 212.0h2v16.2h-2zM784 212.0h2v16.2h-2zM796 212.0h2v16.2h-2zM810 212.0h2v16.2h-2zM834 212.0h2v16.2h-2zM844 212.0h2v16.2h-2zM850 212.0h2v16.2h-2zM918 212.0h2v16.2h-2zM950 212.0h2v16.2h-2zM958 212.0h2v16.2h-2zM960 212.0h2v16.2h-2zM616 228.3h2v16.2h-2zM658 228.3h2v16.2h-2zM696 228.3h2v16.2h-2zM722 228.3h2v16.2h-2zM756 228.3h2v16.2h-2zM766 228.3h2v16.2h-2zM786 228.3h2v16.2h-2zM868 228.3h2v16.2h-2zM872 228.3h2v16.2h-2zM874 228.3h2v16.2h-2zM916 228.3h2v16.2h-2zM604 244.5h2v13.8h-2zM698 244.5h2v13.8h-2zM700 244.5h2v13.8h-2zM702 244.5h2v13.8h-2zM764 244.5h2v13.8h-2zM822 244.5h2v13.8h-2zM610 272.0h2v13.8h-2zM616 272.0h2v13.8h-2zM746 272.0h2v13.8h-2zM748 272.0h2v13.8h-2zM764 272.0h2v13.8h-2zM808 272.0h2v13.8h-2zM810 272.0h2v13.8h-2zM822 272.0h2v13.8h-2zM834 272.0h2v13.8h-2zM836 272.0h2v13.8h-2zM858 272.0h2v13.8h-2zM872 272.0h2v13.8h-2zM874 272.0h2v13.8h-2zM930 272.0h2v13.8h-2zM754 286.7h2v14.9h-2zM858 286.7h2v14.9h-2zM944 286.7h2v14.9h-2zM592 301.6h2v14.9h-2zM608 301.6h2v14.9h-2zM610 301.6h2v14.9h-2zM616 301.6h2v14.9h-2zM618 301.6h2v14.9h-2zM632 301.6h2v14.9h-2zM644 301.6h2v14.9h-2zM658 301.6h2v14.9h-2zM792 301.6h2v14.9h-2zM836 301.6h2v14.9h-2zM920 301.6h2v14.9h-2zM616 316.4h2v14.9h-2zM620 316.4h2v14.9h-2zM658 316.4h2v14.9h-2zM668 316.4h2v14.9h-2zM700 316.4h2v14.9h-2zM704 316.4h2v14.9h-2zM732 316.4h2v14.9h-2zM744 316.4h2v14.9h-2zM746 316.4h2v14.9h-2zM764 316.4h2v14.9h-2zM794 316.4h2v14.9h-2zM810 316.4h2v14.9h-2zM836 316.4h2v14.9h-2zM850 316.4h2v14.9h-2zM852 316.4h2v14.9h-2zM854 316.4h2v14.9h-2zM858 316.4h2v14.9h-2zM872 316.4h2v14.9h-2zM874 316.4h2v14.9h-2zM910 316.4h2v14.9h-2zM602 331.3h2v13.6h-2zM606 331.3h2v13.6h-2zM702 331.3h2v13.6h-2zM766 331.3h2v13.6h-2zM834 331.3h2v13.6h-2zM858 331.3h2v13.6h-2zM920 331.3h2v13.6h-2zM754 344.9h2v13.6h-2zM764 344.9h2v13.6h-2zM858 344.9h2v13.6h-2zM916 344.9h2v13.6h-2zM962 344.9h2v13.6h-2zM592 358.6h2v13.6h-2zM634 358.6h2v13.6h-2zM638 358.6h2v13.6h-2zM680 358.6h2v13.6h-2zM698 358.6h2v13.6h-2zM732 358.6h2v13.6h-2zM748 358.6h2v13.6h-2zM792 358.6h2v13.6h-2zM808 358.6h2v13.6h-2zM842 358.6h2v13.6h-2zM848 358.6h2v13.6h-2zM850 358.6h2v13.6h-2zM854 358.6h2v13.6h-2zM860 358.6h2v13.6h-2zM882 358.6h2v13.6h-2zM930 358.6h2v13.6h-2zM960 358.6h2v13.6h-2zM616 372.2h2v15.5h-2zM618 372.2h2v15.5h-2zM648 372.2h2v15.5h-2zM746 372.2h2v15.5h-2zM808 372.2h2v15.5h-2zM850 372.2h2v15.5h-2zM856 372.2h2v15.5h-2zM928 372.2h2v15.5h-2zM956 372.2h2v15.5h-2zM960 372.2h2v15.5h-2zM644 387.7h2v15.5h-2zM858 387.7h2v15.5h-2zM894 403.2h2v15.5h-2zM646 418.7h2v13.4h-2zM962 418.7h2v13.4h-2zM592 432.1h2v13.4h-2zM606 432.1h2v13.4h-2zM610 432.1h2v13.4h-2zM744 432.1h2v13.4h-2zM752 432.1h2v13.4h-2zM754 432.1h2v13.4h-2zM756 432.1h2v13.4h-2zM786 432.1h2v13.4h-2zM808 432.1h2v13.4h-2zM810 432.1h2v13.4h-2zM854 432.1h2v13.4h-2zM872 432.1h2v13.4h-2zM874 432.1h2v13.4h-2zM918 432.1h2v13.4h-2zM950 432.1h2v13.4h-2zM962 432.1h2v13.4h-2zM604 445.6h2v13.4h-2zM610 445.6h2v13.4h-2zM618 445.6h2v13.4h-2zM634 445.6h2v13.4h-2zM658 445.6h2v13.4h-2zM704 445.6h2v13.4h-2zM752 445.6h2v13.4h-2zM766 445.6h2v13.4h-2zM802 445.6h2v13.4h-2zM822 445.6h2v13.4h-2zM838 445.6h2v13.4h-2zM894 445.6h2v13.4h-2zM920 445.6h2v13.4h-2zM930 445.6h2v13.4h-2zM958 445.6h2v13.4h-2zM604 458.6h2v13.2h-2zM618 458.6h2v13.2h-2zM658 458.6h2v13.2h-2zM668 458.6h2v13.2h-2zM696 458.6h2v13.2h-2zM784 458.6h2v13.2h-2zM858 458.6h2v13.2h-2zM612 471.9h2v13.2h-2zM618 471.9h2v13.2h-2zM672 471.9h2v13.2h-2zM680 471.9h2v13.2h-2zM690 471.9h2v13.2h-2zM696 471.9h2v13.2h-2zM698 471.9h2v13.2h-2zM756 471.9h2v13.2h-2zM760 471.9h2v13.2h-2zM774 471.9h2v13.2h-2zM794 471.9h2v13.2h-2zM822 471.9h2v13.2h-2zM856 471.9h2v13.2h-2zM872 471.9h2v13.2h-2zM882 471.9h2v13.2h-2zM888 471.9h2v13.2h-2zM894 471.9h2v13.2h-2zM916 471.9h2v13.2h-2zM942 471.9h2v13.2h-2zM952 471.9h2v13.2h-2zM958 471.9h2v13.2h-2zM590 485.1h2v13.2h-2zM610 485.1h2v13.2h-2zM636 485.1h2v13.2h-2zM656 485.1h2v13.2h-2zM680 485.1h2v13.2h-2zM698 485.1h2v13.2h-2zM744 485.1h2v13.2h-2zM760 485.1h2v13.2h-2zM768 485.1h2v13.2h-2zM786 485.1h2v13.2h-2zM792 485.1h2v13.2h-2zM826 485.1h2v13.2h-2zM832 485.1h2v13.2h-2zM838 485.1h2v13.2h-2zM840 485.1h2v13.2h-2zM874 485.1h2v13.2h-2zM882 485.1h2v13.2h-2zM896 485.1h2v13.2h-2zM948 485.1h2v13.2h-2zM606 498.4h2v13.2h-2zM608 498.4h2v13.2h-2zM616 498.4h2v13.2h-2zM634 498.4h2v13.2h-2zM638 498.4h2v13.2h-2zM644 498.4h2v13.2h-2zM656 498.4h2v13.2h-2zM700 498.4h2v13.2h-2zM722 498.4h2v13.2h-2zM728 498.4h2v13.2h-2zM752 498.4h2v13.2h-2zM780 498.4h2v13.2h-2zM794 498.4h2v13.2h-2zM832 498.4h2v13.2h-2zM856 498.4h2v13.2h-2zM872 498.4h2v13.2h-2zM920 498.4h2v13.2h-2zM944 498.4h2v13.2h-2zM956 498.4h2v13.2h-2zM592 512.1h2v14.4h-2zM610 512.1h2v14.4h-2zM634 512.1h2v14.4h-2zM646 512.1h2v14.4h-2zM648 512.1h2v14.4h-2zM678 512.1h2v14.4h-2zM680 512.1h2v14.4h-2zM696 512.1h2v14.4h-2zM766 512.1h2v14.4h-2zM920 512.1h2v14.4h-2zM958 512.1h2v14.4h-2zM608 526.5h2v14.4h-2zM634 526.5h2v14.4h-2zM646 526.5h2v14.4h-2zM672 526.5h2v14.4h-2zM678 526.5h2v14.4h-2zM680 526.5h2v14.4h-2zM784 526.5h2v14.4h-2zM794 526.5h2v14.4h-2zM826 526.5h2v14.4h-2zM838 526.5h2v14.4h-2zM860 526.5h2v14.4h-2zM896 526.5h2v14.4h-2zM928 526.5h2v14.4h-2zM956 526.5h2v14.4h-2zM602 540.9h2v14.4h-2zM616 540.9h2v14.4h-2zM618 540.9h2v14.4h-2zM700 540.9h2v14.4h-2zM730 540.9h2v14.4h-2zM698 556.2h2v12.5h-2zM700 556.2h2v12.5h-2zM754 556.2h2v12.5h-2zM858 556.2h2v12.5h-2zM594 568.7h2v12.4h-2zM604 568.7h2v12.4h-2zM616 568.7h2v12.4h-2zM672 568.7h2v12.4h-2zM680 568.7h2v12.4h-2zM750 568.7h2v12.4h-2zM756 568.7h2v12.4h-2zM758 568.7h2v12.4h-2zM760 568.7h2v12.4h-2zM774 568.7h2v12.4h-2zM784 568.7h2v12.4h-2zM790 568.7h2v12.4h-2zM808 568.7h2v12.4h-2zM810 568.7h2v12.4h-2zM820 568.7h2v12.4h-2zM826 568.7h2v12.4h-2zM872 568.7h2v12.4h-2zM892 568.7h2v12.4h-2zM896 568.7h2v12.4h-2zM916 568.7h2v12.4h-2zM934 568.7h2v12.4h-2zM938 568.7h2v12.4h-2zM618 581.1h2v12.4h-2zM656 581.1h2v12.4h-2zM672 581.1h2v12.4h-2zM674 581.1h2v12.4h-2zM690 581.1h2v12.4h-2zM710 581.1h2v12.4h-2zM748 581.1h2v12.4h-2zM752 581.1h2v12.4h-2zM754 581.1h2v12.4h-2zM764 581.1h2v12.4h-2zM792 581.1h2v12.4h-2zM836 581.1h2v12.4h-2zM848 581.1h2v12.4h-2zM850 581.1h2v12.4h-2zM920 581.1h2v12.4h-2zM950 581.1h2v12.4h-2zM972 581.1h2v12.4h-2zM608 593.5h2v12.5h-2zM620 593.5h2v12.5h-2zM648 593.5h2v12.5h-2zM658 593.5h2v12.5h-2zM660 593.5h2v12.5h-2zM672 593.5h2v12.5h-2zM674 593.5h2v12.5h-2zM680 593.5h2v12.5h-2zM722 593.5h2v12.5h-2zM754 593.5h2v12.5h-2zM790 593.5h2v12.5h-2zM802 593.5h2v12.5h-2zM810 593.5h2v12.5h-2zM838 593.5h2v12.5h-2zM854 593.5h2v12.5h-2zM896 593.5h2v12.5h-2zM930 593.5h2v12.5h-2zM972 593.5h2v12.5h-2zM632 606.4h2v15.6h-2zM670 606.4h2v15.6h-2zM672 606.4h2v15.6h-2zM710 606.4h2v15.6h-2zM758 606.4h2v15.6h-2zM760 606.4h2v15.6h-2zM764 606.4h2v15.6h-2zM780 606.4h2v15.6h-2zM784 606.4h2v15.6h-2zM790 606.4h2v15.6h-2zM794 606.4h2v15.6h-2zM802 606.4h2v15.6h-2zM808 606.4h2v15.6h-2zM810 606.4h2v15.6h-2zM834 606.4h2v15.6h-2zM842 606.4h2v15.6h-2zM844 606.4h2v15.6h-2zM890 606.4h2v15.6h-2zM892 606.4h2v15.6h-2zM910 606.4h2v15.6h-2zM930 606.4h2v15.6h-2zM602 622.0h2v15.6h-2zM606 622.0h2v15.6h-2zM610 622.0h2v15.6h-2zM660 622.0h2v15.6h-2zM668 622.0h2v15.6h-2zM700 622.0h2v15.6h-2zM722 622.0h2v15.6h-2zM758 622.0h2v15.6h-2zM786 622.0h2v15.6h-2zM822 622.0h2v15.6h-2zM592 637.7h2v15.6h-2zM604 637.7h2v15.6h-2zM618 637.7h2v15.6h-2zM630 637.7h2v15.6h-2zM638 637.7h2v15.6h-2zM640 637.7h2v15.6h-2zM704 637.7h2v15.6h-2zM720 637.7h2v15.6h-2zM768 637.7h2v15.6h-2zM780 637.7h2v15.6h-2zM786 637.7h2v15.6h-2zM808 637.7h2v15.6h-2zM836 637.7h2v15.6h-2zM872 637.7h2v15.6h-2zM890 637.7h2v15.6h-2zM920 637.7h2v15.6h-2zM928 637.7h2v15.6h-2zM934 637.7h2v15.6h-2zM946 637.7h2v15.6h-2zM952 637.7h2v15.6h-2zM610 653.3h2v15.7h-2zM642 653.3h2v15.7h-2zM668 653.3h2v15.7h-2zM674 653.3h2v15.7h-2zM748 653.3h2v15.7h-2zM794 653.3h2v15.7h-2zM836 653.3h2v15.7h-2zM840 653.3h2v15.7h-2zM844 653.3h2v15.7h-2zM860 653.3h2v15.7h-2zM874 653.3h2v15.7h-2zM896 653.3h2v15.7h-2zM916 653.3h2v15.7h-2zM930 653.3h2v15.7h-2zM944 653.3h2v15.7h-2zM952 653.3h2v15.7h-2zM962 653.3h2v15.7h-2zM966 653.3h2v15.7h-2zM606 669.0h2v15.7h-2zM608 669.0h2v15.7h-2zM640 669.0h2v15.7h-2zM644 669.0h2v15.7h-2zM658 669.0h2v15.7h-2zM732 669.0h2v15.7h-2zM746 669.0h2v15.7h-2zM750 669.0h2v15.7h-2zM834 669.0h2v15.7h-2zM956 669.0h2v15.7h-2zM610 684.7h2v15.7h-2zM698 684.7h2v15.7h-2zM756 684.7h2v15.7h-2zM810 684.7h2v15.7h-2zM836 684.7h2v15.7h-2zM874 684.7h2v15.7h-2zM918 684.7h2v15.7h-2zM958 684.7h2v15.7h-2zM608 701.0h2v15.9h-2zM632 701.0h2v15.9h-2zM648 701.0h2v15.9h-2zM748 701.0h2v15.9h-2zM750 701.0h2v15.9h-2zM752 701.0h2v15.9h-2zM754 701.0h2v15.9h-2zM768 701.0h2v15.9h-2zM950 701.0h2v15.9h-2zM956 701.0h2v15.9h-2zM960 701.0h2v15.9h-2zM592 716.9h2v15.9h-2zM616 716.9h2v15.9h-2zM618 716.9h2v15.9h-2zM658 716.9h2v15.9h-2zM700 716.9h2v15.9h-2zM728 716.9h2v15.9h-2zM732 716.9h2v15.9h-2zM764 716.9h2v15.9h-2zM766 716.9h2v15.9h-2zM834 716.9h2v15.9h-2zM610 732.9h2v15.9h-2zM630 732.9h2v15.9h-2zM644 732.9h2v15.9h-2zM658 732.9h2v15.9h-2zM672 732.9h2v15.9h-2zM706 732.9h2v15.9h-2zM754 732.9h2v15.9h-2zM796 732.9h2v15.9h-2zM802 732.9h2v15.9h-2zM826 732.9h2v15.9h-2zM836 732.9h2v15.9h-2zM850 732.9h2v15.9h-2zM854 732.9h2v15.9h-2zM858 732.9h2v15.9h-2zM952 732.9h2v15.9h-2zM956 732.9h2v15.9h-2zM958 732.9h2v15.9h-2zM604 750.1h2v10.8h-2zM618 750.1h2v10.8h-2zM640 750.1h2v10.8h-2zM644 750.1h2v10.8h-2zM704 750.1h2v10.8h-2zM722 750.1h2v10.8h-2zM748 750.1h2v10.8h-2zM754 750.1h2v10.8h-2zM790 750.1h2v10.8h-2zM792 750.1h2v10.8h-2zM794 750.1h2v10.8h-2zM822 750.1h2v10.8h-2zM856 750.1h2v10.8h-2zM858 750.1h2v10.8h-2zM916 750.1h2v10.8h-2zM602 763.7h2v17.6h-2zM608 763.7h2v17.6h-2zM618 763.7h2v17.6h-2zM620 763.7h2v17.6h-2zM632 763.7h2v17.6h-2zM638 763.7h2v17.6h-2zM646 763.7h2v17.6h-2zM660 763.7h2v17.6h-2zM674 763.7h2v17.6h-2zM678 763.7h2v17.6h-2zM710 763.7h2v17.6h-2zM732 763.7h2v17.6h-2zM748 763.7h2v17.6h-2zM764 763.7h2v17.6h-2zM780 763.7h2v17.6h-2zM792 763.7h2v17.6h-2zM834 763.7h2v17.6h-2zM836 763.7h2v17.6h-2zM854 763.7h2v17.6h-2zM856 763.7h2v17.6h-2zM956 763.7h2v17.6h-2zM972 763.7h2v17.6h-2zM646 781.3h2v17.2h-2zM730 781.3h2v17.2h-2zM756 781.3h2v17.2h-2zM784 781.3h2v17.2h-2zM956 781.3h2v17.2h-2zM638 798.5h2v17.2h-2zM644 798.5h2v17.2h-2zM648 798.5h2v17.2h-2zM668 798.5h2v17.2h-2zM690 798.5h2v17.2h-2zM700 798.5h2v17.2h-2zM706 798.5h2v17.2h-2zM728 798.5h2v17.2h-2zM758 798.5h2v17.2h-2zM768 798.5h2v17.2h-2zM780 798.5h2v17.2h-2zM796 798.5h2v17.2h-2zM810 798.5h2v17.2h-2zM840 798.5h2v17.2h-2zM872 798.5h2v17.2h-2zM874 798.5h2v17.2h-2zM888 798.5h2v17.2h-2zM890 798.5h2v17.2h-2zM916 798.5h2v17.2h-2zM942 798.5h2v17.2h-2zM944 798.5h2v17.2h-2zM952 798.5h2v17.2h-2zM618 816.0h2v15.5h-2zM746 816.0h2v15.5h-2zM756 816.0h2v15.5h-2zM786 816.0h2v15.5h-2zM790 816.0h2v15.5h-2zM792 816.0h2v15.5h-2zM808 816.0h2v15.5h-2zM810 816.0h2v15.5h-2zM832 816.0h2v15.5h-2zM856 816.0h2v15.5h-2zM894 816.0h2v15.5h-2zM918 816.0h2v15.5h-2zM972 816.0h2v15.5h-2zM608 833.3h2v11.2h-2zM610 833.3h2v11.2h-2zM618 833.3h2v11.2h-2zM644 833.3h2v11.2h-2zM668 833.3h2v11.2h-2zM696 833.3h2v11.2h-2zM732 833.3h2v11.2h-2zM744 833.3h2v11.2h-2zM746 833.3h2v11.2h-2zM752 833.3h2v11.2h-2zM764 833.3h2v11.2h-2zM784 833.3h2v11.2h-2zM794 833.3h2v11.2h-2zM838 833.3h2v11.2h-2zM850 833.3h2v11.2h-2zM874 833.3h2v11.2h-2zM928 833.3h2v11.2h-2zM930 833.3h2v11.2h-2zM960 833.3h2v11.2h-2zM610 844.5h2v11.1h-2zM620 844.5h2v11.1h-2zM634 844.5h2v11.1h-2zM696 844.5h2v11.1h-2zM702 844.5h2v11.1h-2zM728 844.5h2v11.1h-2zM796 844.5h2v11.1h-2zM842 844.5h2v11.1h-2zM872 844.5h2v11.1h-2zM896 844.5h2v11.1h-2zM920 844.5h2v11.1h-2zM934 844.5h2v11.1h-2zM592 855.8h2v12.0h-2zM646 855.8h2v12.0h-2zM648 855.8h2v12.0h-2zM680 855.8h2v12.0h-2zM706 855.8h2v12.0h-2zM760 855.8h2v12.0h-2zM774 855.8h2v12.0h-2zM820 855.8h2v12.0h-2zM842 855.8h2v12.0h-2zM848 855.8h2v12.0h-2zM852 855.8h2v12.0h-2zM856 855.8h2v12.0h-2zM866 855.8h2v12.0h-2zM890 855.8h2v12.0h-2zM896 855.8h2v12.0h-2zM920 855.8h2v12.0h-2zM948 855.8h2v12.0h-2zM952 855.8h2v12.0h-2zM954 855.8h2v12.0h-2zM634 867.8h2v12.0h-2zM640 867.8h2v12.0h-2zM644 867.8h2v12.0h-2zM668 867.8h2v12.0h-2zM680 867.8h2v12.0h-2zM698 867.8h2v12.0h-2zM700 867.8h2v12.0h-2zM702 867.8h2v12.0h-2zM744 867.8h2v12.0h-2zM760 867.8h2v12.0h-2zM790 867.8h2v12.0h-2zM792 867.8h2v12.0h-2zM796 867.8h2v12.0h-2zM826 867.8h2v12.0h-2zM832 867.8h2v12.0h-2zM844 867.8h2v12.0h-2zM850 867.8h2v12.0h-2zM918 867.8h2v12.0h-2zM958 867.8h2v12.0h-2zM592 880.6h2v11.2h-2zM602 880.6h2v11.2h-2zM616 880.6h2v11.2h-2zM620 880.6h2v11.2h-2zM638 880.6h2v11.2h-2zM642 880.6h2v11.2h-2zM648 880.6h2v11.2h-2zM660 880.6h2v11.2h-2zM674 880.6h2v11.2h-2zM698 880.6h2v11.2h-2zM706 880.6h2v11.2h-2zM748 880.6h2v11.2h-2zM760 880.6h2v11.2h-2zM764 880.6h2v11.2h-2zM780 880.6h2v11.2h-2zM782 880.6h2v11.2h-2zM796 880.6h2v11.2h-2zM804 880.6h2v11.2h-2zM822 880.6h2v11.2h-2zM840 880.6h2v11.2h-2zM842 880.6h2v11.2h-2zM860 880.6h2v11.2h-2zM886 880.6h2v11.2h-2zM944 880.6h2v11.2h-2zM604 891.8h2v11.2h-2zM608 891.8h2v11.2h-2zM618 891.8h2v11.2h-2zM638 891.8h2v11.2h-2zM640 891.8h2v11.2h-2zM730 891.8h2v11.2h-2zM748 891.8h2v11.2h-2zM758 891.8h2v11.2h-2zM768 891.8h2v11.2h-2zM784 891.8h2v11.2h-2zM790 891.8h2v11.2h-2zM792 891.8h2v11.2h-2zM808 891.8h2v11.2h-2zM810 891.8h2v11.2h-2zM826 891.8h2v11.2h-2zM844 891.8h2v11.2h-2zM852 891.8h2v11.2h-2zM960 891.8h2v11.2h-2zM604 905.0h2v16.6h-2zM606 905.0h2v16.6h-2zM632 905.0h2v16.6h-2zM658 905.0h2v16.6h-2zM668 905.0h2v16.6h-2zM696 905.0h2v16.6h-2zM704 905.0h2v16.6h-2zM730 905.0h2v16.6h-2zM760 905.0h2v16.6h-2zM786 905.0h2v16.6h-2zM832 905.0h2v16.6h-2zM836 905.0h2v16.6h-2zM840 905.0h2v16.6h-2zM852 905.0h2v16.6h-2zM894 905.0h2v16.6h-2zM896 905.0h2v16.6h-2zM944 905.0h2v16.6h-2zM606 922.4h2v11.8h-2zM644 922.4h2v11.8h-2zM646 922.4h2v11.8h-2zM696 922.4h2v11.8h-2zM730 922.4h2v11.8h-2zM750 922.4h2v11.8h-2zM760 922.4h2v11.8h-2zM780 922.4h2v11.8h-2zM792 922.4h2v11.8h-2zM832 922.4h2v11.8h-2zM842 922.4h2v11.8h-2zM846 922.4h2v11.8h-2zM854 922.4h2v11.8h-2zM872 922.4h2v11.8h-2zM896 922.4h2v11.8h-2zM928 922.4h2v11.8h-2zM646 934.2h2v11.8h-2zM648 934.2h2v11.8h-2zM698 934.2h2v11.8h-2zM810 934.2h2v11.8h-2zM874 934.2h2v11.8h-2zM618 946.4h2v18.6h-2zM646 946.4h2v18.6h-2zM748 946.4h2v18.6h-2zM750 946.4h2v18.6h-2zM754 946.4h2v18.6h-2zM766 946.4h2v18.6h-2zM808 946.4h2v18.6h-2zM838 946.4h2v18.6h-2zM850 946.4h2v18.6h-2zM860 946.4h2v18.6h-2zM882 946.4h2v18.6h-2zM892 946.4h2v18.6h-2zM910 946.4h2v18.6h-2zM944 946.4h2v18.6h-2zM956 946.4h2v18.6h-2z" fill="#4a5cff" fill-opacity="0.15"/>
<path d="M746 80.4h2v13.9h-2zM648 94.3h2v13.3h-2zM730 94.3h2v13.3h-2zM756 94.3h2v13.3h-2zM766 94.3h2v13.3h-2zM784 94.3h2v13.3h-2zM856 94.3h2v13.3h-2zM874 94.3h2v13.3h-2zM894 94.3h2v13.3h-2zM918 94.3h2v13.3h-2zM920 94.3h2v13.3h-2zM972 94.3h2v13.3h-2zM648 107.6h2v13.3h-2zM754 107.6h2v13.3h-2zM836 107.6h2v13.3h-2zM944 107.6h2v13.3h-2zM700 120.9h2v13.3h-2zM754 120.9h2v13.3h-2zM834 120.9h2v13.3h-2zM730 134.2h2v13.3h-2zM784 134.2h2v13.3h-2zM856 134.2h2v13.3h-2zM962 134.2h2v13.3h-2zM602 149.3h2v15.1h-2zM604 149.3h2v15.1h-2zM644 149.3h2v15.1h-2zM648 149.3h2v15.1h-2zM702 149.3h2v15.1h-2zM754 149.3h2v15.1h-2zM810 149.3h2v15.1h-2zM834 149.3h2v15.1h-2zM874 149.3h2v15.1h-2zM764 179.6h2v15.1h-2zM858 179.6h2v15.1h-2zM894 179.6h2v15.1h-2zM918 179.6h2v15.1h-2zM602 195.8h2v16.2h-2zM644 195.8h2v16.2h-2zM668 195.8h2v16.2h-2zM680 195.8h2v16.2h-2zM730 195.8h2v16.2h-2zM784 195.8h2v16.2h-2zM920 195.8h2v16.2h-2zM930 195.8h2v16.2h-2zM956 195.8h2v16.2h-2zM602 212.0h2v16.2h-2zM766 212.0h2v16.2h-2zM874 212.0h2v16.2h-2zM916 212.0h2v16.2h-2zM602 228.3h2v16.2h-2zM834 228.3h2v16.2h-2zM858 228.3h2v16.2h-2zM956 244.5h2v13.8h-2zM604 272.0h2v13.8h-2zM618 272.0h2v13.8h-2zM700 272.0h2v13.8h-2zM752 272.0h2v13.8h-2zM754 272.0h2v13.8h-2zM784 272.0h2v13.8h-2zM644 286.7h2v14.9h-2zM604 301.6h2v14.9h-2zM606 301.6h2v14.9h-2zM700 301.6h2v14.9h-2zM730 301.6h2v14.9h-2zM744 301.6h2v14.9h-2zM764 301.6h2v14.9h-2zM834 301.6h2v14.9h-2zM856 301.6h2v14.9h-2zM916 301.6h2v14.9h-2zM860 316.4h2v14.9h-2zM958 316.4h2v14.9h-2zM644 344.9h2v13.6h-2zM894 344.9h2v13.6h-2zM700 358.6h2v13.6h-2zM758 358.6h2v13.6h-2zM786 358.6h2v13.6h-2zM836 358.6h2v13.6h-2zM894 358.6h2v13.6h-2zM916 358.6h2v13.6h-2zM920 358.6h2v13.6h-2zM702 372.2h2v15.5h-2zM810 372.2h2v15.5h-2zM874 372.2h2v15.5h-2zM918 372.2h2v15.5h-2zM958 372.2h2v15.5h-2zM604 432.1h2v13.4h-2zM648 432.1h2v13.4h-2zM730 432.1h2v13.4h-2zM746 432.1h2v13.4h-2zM796 432.1h2v13.4h-2zM896 432.1h2v13.4h-2zM602 445.6h2v13.4h-2zM646 445.6h2v13.4h-2zM680 445.6h2v13.4h-2zM730 445.6h2v13.4h-2zM786 445.6h2v13.4h-2zM834 445.6h2v13.4h-2zM874 445.6h2v13.4h-2zM944 445.6h2v13.4h-2zM644 458.6h2v13.2h-2zM648 458.6h2v13.2h-2zM698 458.6h2v13.2h-2zM632 471.9h2v13.2h-2zM634 471.9h2v13.2h-2zM642 471.9h2v13.2h-2zM674 471.9h2v13.2h-2zM768 471.9h2v13.2h-2zM810 471.9h2v13.2h-2zM860 471.9h2v13.2h-2zM868 471.9h2v13.2h-2zM620 485.1h2v13.2h-2zM634 485.1h2v13.2h-2zM658 485.1h2v13.2h-2zM690 485.1h2v13.2h-2zM750 485.1h2v13.2h-2zM764 485.1h2v13.2h-2zM794 485.1h2v13.2h-2zM796 485.1h2v13.2h-2zM850 485.1h2v13.2h-2zM852 485.1h2v13.2h-2zM950 485.1h2v13.2h-2zM966 485.1h2v13.2h-2zM592 498.4h2v13.2h-2zM604 498.4h2v13.2h-2zM640 498.4h2v13.2h-2zM668 498.4h2v13.2h-2zM674 498.4h2v13.2h-2zM678 498.4h2v13.2h-2zM746 498.4h2v13.2h-2zM758 498.4h2v13.2h-2zM784 498.4h2v13.2h-2zM786 498.4h2v13.2h-2zM808 498.4h2v13.2h-2zM874 498.4h2v13.2h-2zM896 498.4h2v13.2h-2zM928 498.4h2v13.2h-2zM960 498.4h2v13.2h-2zM972 498.4h2v13.2h-2zM602 512.1h2v14.4h-2zM618 512.1h2v14.4h-2zM700 512.1h2v14.4h-2zM702 512.1h2v14.4h-2zM730 512.1h2v14.4h-2zM834 512.1h2v14.4h-2zM858 512.1h2v14.4h-2zM616 526.5h2v14.4h-2zM618 526.5h2v14.4h-2zM698 526.5h2v14.4h-2zM746 526.5h2v14.4h-2zM766 526.5h2v14.4h-2zM808 526.5h2v14.4h-2zM810 526.5h2v14.4h-2zM856 526.5h2v14.4h-2zM918 526.5h2v14.4h-2zM958 526.5h2v14.4h-2zM646 540.9h2v14.4h-2zM648 540.9h2v14.4h-2zM894 540.9h2v14.4h-2zM962 540.9h2v14.4h-2zM638 568.7h2v12.4h-2zM668 568.7h2v12.4h-2zM678 568.7h2v12.4h-2zM746 568.7h2v12.4h-2zM748 568.7h2v12.4h-2zM752 568.7h2v12.4h-2zM796 568.7h2v12.4h-2zM850 568.7h2v12.4h-2zM856 568.7h2v12.4h-2zM858 568.7h2v12.4h-2zM910 568.7h2v12.4h-2zM972 568.7h2v12.4h-2zM604 581.1h2v12.4h-2zM610 581.1h2v12.4h-2zM620 581.1h2v12.4h-2zM634 581.1h2v12.4h-2zM660 581.1h2v12.4h-2zM668 581.1h2v12.4h-2zM700 581.1h2v12.4h-2zM756 581.1h2v12.4h-2zM894 581.1h2v12.4h-2zM962 581.1h2v12.4h-2zM646 593.5h2v12.5h-2zM668 593.5h2v12.5h-2zM696 593.5h2v12.5h-2zM704 593.5h2v12.5h-2zM764 593.5h2v12.5h-2zM796 593.5h2v12.5h-2zM808 593.5h2v12.5h-2zM960 593.5h2v12.5h-2zM594 606.4h2v15.6h-2zM604 606.4h2v15.6h-2zM642 606.4h2v15.6h-2zM656 606.4h2v15.6h-2zM668 606.4h2v15.6h-2zM704 606.4h2v15.6h-2zM732 606.4h2v15.6h-2zM766 606.4h2v15.6h-2zM768 606.4h2v15.6h-2zM836 606.4h2v15.6h-2zM856 606.4h2v15.6h-2zM860 606.4h2v15.6h-2zM920 606.4h2v15.6h-2zM928 606.4h2v15.6h-2zM954 606.4h2v15.6h-2zM732 622.0h2v15.6h-2zM766 622.0h2v15.6h-2zM834 622.0h2v15.6h-2zM836 622.0h2v15.6h-2zM874 622.0h2v15.6h-2zM916 622.0h2v15.6h-2zM956 622.0h2v15.6h-2zM610 637.7h2v15.6h-2zM674 637.7h2v15.6h-2zM784 637.7h2v15.6h-2zM796 637.7h2v15.6h-2zM844 637.7h2v15.6h-2zM882 637.7h2v15.6h-2zM956 637.7h2v15.6h-2zM972 637.7h2v15.6h-2zM608 653.3h2v15.7h-2zM634 653.3h2v15.7h-2zM640 653.3h2v15.7h-2zM660 653.3h2v15.7h-2zM702 653.3h2v15.7h-2zM704 653.3h2v15.7h-2zM710 653.3h2v15.7h-2zM722 653.3h2v15.7h-2zM732 653.3h2v15.7h-2zM752 653.3h2v15.7h-2zM838 653.3h2v15.7h-2zM868 653.3h2v15.7h-2zM872 653.3h2v15.7h-2zM928 653.3h2v15.7h-2zM960 653.3h2v15.7h-2zM972 653.3h2v15.7h-2zM604 669.0h2v15.7h-2zM668 669.0h2v15.7h-2zM744 669.0h2v15.7h-2zM618 684.7h2v15.7h-2zM644 684.7h2v15.7h-2zM648 684.7h2v15.7h-2zM680 684.7h2v15.7h-2zM894 684.7h2v15.7h-2zM680 701.0h2v15.9h-2zM704 701.0h2v15.9h-2zM606 716.9h2v15.9h-2zM644 716.9h2v15.9h-2zM668 716.9h2v15.9h-2zM680 716.9h2v15.9h-2zM698 716.9h2v15.9h-2zM744 716.9h2v15.9h-2zM746 716.9h2v15.9h-2zM752 716.9h2v15.9h-2zM918 716.9h2v15.9h-2zM956 716.9h2v15.9h-2zM660 732.9h2v15.9h-2zM690 732.9h2v15.9h-2zM702 732.9h2v15.9h-2zM728 732.9h2v15.9h-2zM732 732.9h2v15.9h-2zM746 732.9h2v15.9h-2zM810 732.9h2v15.9h-2zM856 732.9h2v15.9h-2zM894 732.9h2v15.9h-2zM930 732.9h2v15.9h-2zM648 750.1h2v10.8h-2zM698 750.1h2v10.8h-2zM730 750.1h2v10.8h-2zM746 750.1h2v10.8h-2zM894 750.1h2v10.8h-2zM610 763.7h2v17.6h-2zM702 763.7h2v17.6h-2zM722 763.7h2v17.6h-2zM802 763.7h2v17.6h-2zM894 763.7h2v17.6h-2zM962 763.7h2v17.6h-2zM962 781.3h2v17.2h-2zM658 798.5h2v17.2h-2zM678 798.5h2v17.2h-2zM680 798.5h2v17.2h-2zM698 798.5h2v17.2h-2zM722 798.5h2v17.2h-2zM744 798.5h2v17.2h-2zM748 798.5h2v17.2h-2zM854 798.5h2v17.2h-2zM860 798.5h2v17.2h-2zM868 798.5h2v17.2h-2zM918 798.5h2v17.2h-2zM928 798.5h2v17.2h-2zM972 798.5h2v17.2h-2zM604 816.0h2v15.5h-2zM606 816.0h2v15.5h-2zM680 816.0h2v15.5h-2zM754 816.0h2v15.5h-2zM822 816.0h2v15.5h-2zM836 816.0h2v15.5h-2zM962 816.0h2v15.5h-2zM604 833.3h2v11.2h-2zM606 833.3h2v11.2h-2zM704 833.3h2v11.2h-2zM786 833.3h2v11.2h-2zM796 833.3h2v11.2h-2zM810 833.3h2v11.2h-2zM834 833.3h2v11.2h-2zM894 833.3h2v11.2h-2zM608 844.5h2v11.1h-2zM680 844.5h2v11.1h-2zM722 844.5h2v11.1h-2zM746 844.5h2v11.1h-2zM754 844.5h2v11.1h-2zM808 844.5h2v11.1h-2zM826 844.5h2v11.1h-2zM832 844.5h2v11.1h-2zM844 844.5h2v11.1h-2zM894 844.5h2v11.1h-2zM604 855.8h2v12.0h-2zM608 855.8h2v12.0h-2zM616 855.8h2v12.0h-2zM632 855.8h2v12.0h-2zM640 855.8h2v12.0h-2zM728 855.8h2v12.0h-2zM730 855.8h2v12.0h-2zM750 855.8h2v12.0h-2zM756 855.8h2v12.0h-2zM764 855.8h2v12.0h-2zM794 855.8h2v12.0h-2zM810 855.8h2v12.0h-2zM826 855.8h2v12.0h-2zM844 855.8h2v12.0h-2zM858 855.8h2v12.0h-2zM930 855.8h2v12.0h-2zM958 855.8h2v12.0h-2zM966 855.8h2v12.0h-2zM604 867.8h2v12.0h-2zM756 867.8h2v12.0h-2zM764 867.8h2v12.0h-2zM834 867.8h2v12.0h-2zM854 867.8h2v12.0h-2zM606 880.6h2v11.2h-2zM632 880.6h2v11.2h-2zM658 880.6h2v11.2h-2zM728 880.6h2v11.2h-2zM754 880.6h2v11.2h-2zM774 880.6h2v11.2h-2zM850 880.6h2v11.2h-2zM950 880.6h2v11.2h-2zM602 891.8h2v11.2h-2zM680 891.8h2v11.2h-2zM700 891.8h2v11.2h-2zM752 891.8h2v11.2h-2zM764 891.8h2v11.2h-2zM766 891.8h2v11.2h-2zM794 891.8h2v11.2h-2zM802 891.8h2v11.2h-2zM856 891.8h2v11.2h-2zM860 891.8h2v11.2h-2zM918 891.8h2v11.2h-2zM958 891.8h2v11.2h-2zM646 905.0h2v16.6h-2zM746 905.0h2v16.6h-2zM808 905.0h2v16.6h-2zM822 905.0h2v16.6h-2zM834 905.0h2v16.6h-2zM858 905.0h2v16.6h-2zM872 905.0h2v16.6h-2zM958 905.0h2v16.6h-2zM744 922.4h2v11.8h-2zM746 922.4h2v11.8h-2zM748 922.4h2v11.8h-2zM822 922.4h2v11.8h-2zM834 922.4h2v11.8h-2zM918 922.4h2v11.8h-2zM930 922.4h2v11.8h-2zM602 946.4h2v18.6h-2zM616 946.4h2v18.6h-2zM680 946.4h2v18.6h-2zM700 946.4h2v18.6h-2zM732 946.4h2v18.6h-2zM758 946.4h2v18.6h-2zM802 946.4h2v18.6h-2zM822 946.4h2v18.6h-2zM858 946.4h2v18.6h-2zM868 946.4h2v18.6h-2zM874 946.4h2v18.6h-2zM920 946.4h2v18.6h-2zM930 946.4h2v18.6h-2z" fill="#4a5cff" fill-opacity="0.21"/>
<path d="M962 80.4h2v13.9h-2zM958 94.3h2v13.3h-2zM702 107.6h2v13.3h-2zM920 107.6h2v13.3h-2zM962 107.6h2v13.3h-2zM962 120.9h2v13.3h-2zM894 134.2h2v13.3h-2zM858 149.3h2v15.1h-2zM920 149.3h2v15.1h-2zM956 149.3h2v15.1h-2zM810 195.8h2v16.2h-2zM858 195.8h2v16.2h-2zM918 195.8h2v16.2h-2zM754 212.0h2v16.2h-2zM858 212.0h2v16.2h-2zM956 228.3h2v16.2h-2zM956 272.0h2v13.8h-2zM602 301.6h2v14.9h-2zM754 301.6h2v14.9h-2zM810 301.6h2v14.9h-2zM956 301.6h2v14.9h-2zM606 316.4h2v14.9h-2zM702 316.4h2v14.9h-2zM730 316.4h2v14.9h-2zM754 316.4h2v14.9h-2zM766 316.4h2v14.9h-2zM856 316.4h2v14.9h-2zM894 316.4h2v14.9h-2zM618 358.6h2v13.6h-2zM648 358.6h2v13.6h-2zM766 358.6h2v13.6h-2zM784 358.6h2v13.6h-2zM834 358.6h2v13.6h-2zM858 358.6h2v13.6h-2zM644 372.2h2v15.5h-2zM644 432.1h2v13.4h-2zM834 432.1h2v13.4h-2zM858 432.1h2v13.4h-2zM958 432.1h2v13.4h-2zM644 445.6h2v13.4h-2zM810 445.6h2v13.4h-2zM700 458.6h2v13.2h-2zM644 471.9h2v13.2h-2zM648 471.9h2v13.2h-2zM658 471.9h2v13.2h-2zM730 471.9h2v13.2h-2zM834 471.9h2v13.2h-2zM616 485.1h2v13.2h-2zM630 485.1h2v13.2h-2zM632 485.1h2v13.2h-2zM640 485.1h2v13.2h-2zM700 485.1h2v13.2h-2zM784 485.1h2v13.2h-2zM802 485.1h2v13.2h-2zM810 485.1h2v13.2h-2zM856 485.1h2v13.2h-2zM916 485.1h2v13.2h-2zM918 485.1h2v13.2h-2zM956 485.1h2v13.2h-2zM960 485.1h2v13.2h-2zM972 485.1h2v13.2h-2zM602 498.4h2v13.2h-2zM610 498.4h2v13.2h-2zM696 498.4h2v13.2h-2zM754 498.4h2v13.2h-2zM766 498.4h2v13.2h-2zM606 512.1h2v14.4h-2zM606 526.5h2v14.4h-2zM644 526.5h2v14.4h-2zM704 526.5h2v14.4h-2zM754 526.5h2v14.4h-2zM834 526.5h2v14.4h-2zM874 526.5h2v14.4h-2zM592 568.7h2v12.4h-2zM618 568.7h2v12.4h-2zM634 568.7h2v12.4h-2zM674 568.7h2v12.4h-2zM764 568.7h2v12.4h-2zM860 568.7h2v12.4h-2zM874 568.7h2v12.4h-2zM918 568.7h2v12.4h-2zM646 581.1h2v12.4h-2zM658 581.1h2v12.4h-2zM704 581.1h2v12.4h-2zM766 581.1h2v12.4h-2zM834 581.1h2v12.4h-2zM858 581.1h2v12.4h-2zM958 581.1h2v12.4h-2zM602 593.5h2v12.5h-2zM604 593.5h2v12.5h-2zM698 593.5h2v12.5h-2zM660 606.4h2v15.6h-2zM680 606.4h2v15.6h-2zM690 606.4h2v15.6h-2zM722 606.4h2v15.6h-2zM858 606.4h2v15.6h-2zM944 606.4h2v15.6h-2zM956 606.4h2v15.6h-2zM962 606.4h2v15.6h-2zM604 622.0h2v15.6h-2zM618 622.0h2v15.6h-2zM704 622.0h2v15.6h-2zM602 637.7h2v15.6h-2zM668 637.7h2v15.6h-2zM680 637.7h2v15.6h-2zM690 637.7h2v15.6h-2zM702 637.7h2v15.6h-2zM822 637.7h2v15.6h-2zM918 637.7h2v15.6h-2zM944 637.7h2v15.6h-2zM958 637.7h2v15.6h-2zM602 653.3h2v15.7h-2zM606 653.3h2v15.7h-2zM618 653.3h2v15.7h-2zM620 653.3h2v15.7h-2zM644 653.3h2v15.7h-2zM698 653.3h2v15.7h-2zM756 653.3h2v15.7h-2zM802 653.3h2v15.7h-2zM834 653.3h2v15.7h-2zM958 653.3h2v15.7h-2zM602 669.0h2v15.7h-2zM700 669.0h2v15.7h-2zM702 669.0h2v15.7h-2zM646 684.7h2v15.7h-2zM754 684.7h2v15.7h-2zM644 701.0h2v15.9h-2zM700 701.0h2v15.9h-2zM744 701.0h2v15.9h-2zM646 716.9h2v15.9h-2zM756 716.9h2v15.9h-2zM616 732.9h2v15.9h-2zM668 732.9h2v15.9h-2zM680 732.9h2v15.9h-2zM764 732.9h2v15.9h-2zM766 732.9h2v15.9h-2zM918 732.9h2v15.9h-2zM962 732.9h2v15.9h-2zM646 750.1h2v10.8h-2zM604 763.7h2v17.6h-2zM680 763.7h2v17.6h-2zM730 763.7h2v17.6h-2zM754 763.7h2v17.6h-2zM758 763.7h2v17.6h-2zM604 798.5h2v17.2h-2zM606 798.5h2v17.2h-2zM610 798.5h2v17.2h-2zM756 798.5h2v17.2h-2zM784 798.5h2v17.2h-2zM794 798.5h2v17.2h-2zM920 798.5h2v17.2h-2zM962 798.5h2v17.2h-2zM730 816.0h2v15.5h-2zM700 833.3h2v11.2h-2zM702 833.3h2v11.2h-2zM730 833.3h2v11.2h-2zM956 833.3h2v11.2h-2zM962 833.3h2v11.2h-2zM604 844.5h2v11.1h-2zM810 844.5h2v11.1h-2zM918 844.5h2v11.1h-2zM618 855.8h2v12.0h-2zM668 855.8h2v12.0h-2zM698 855.8h2v12.0h-2zM704 855.8h2v12.0h-2zM722 855.8h2v12.0h-2zM732 855.8h2v12.0h-2zM758 855.8h2v12.0h-2zM780 855.8h2v12.0h-2zM786 855.8h2v12.0h-2zM792 855.8h2v12.0h-2zM808 855.8h2v12.0h-2zM822 855.8h2v12.0h-2zM832 855.8h2v12.0h-2zM838 855.8h2v12.0h-2zM860 855.8h2v12.0h-2zM918 855.8h2v12.0h-2zM928 855.8h2v12.0h-2zM956 855.8h2v12.0h-2zM972 855.8h2v12.0h-2zM746 867.8h2v12.0h-2zM784 867.8h2v12.0h-2zM962 867.8h2v12.0h-2zM608 880.6h2v11.2h-2zM732 880.6h2v11.2h-2zM752 880.6h2v11.2h-2zM758 880.6h2v11.2h-2zM834 880.6h2v11.2h-2zM844 880.6h2v11.2h-2zM956 880.6h2v11.2h-2zM972 880.6h2v11.2h-2zM644 891.8h2v11.2h-2zM756 891.8h2v11.2h-2zM786 891.8h2v11.2h-2zM836 891.8h2v11.2h-2zM602 905.0h2v16.6h-2zM764 905.0h2v16.6h-2zM856 905.0h2v16.6h-2zM956 905.0h2v16.6h-2zM698 922.4h2v11.8h-2zM700 922.4h2v11.8h-2zM766 922.4h2v11.8h-2zM784 922.4h2v11.8h-2zM856 922.4h2v11.8h-2zM916 946.4h2v18.6h-2z" fill="#4a5cff" fill-opacity="0.28"/>
<path d="M858 94.3h2v13.3h-2zM962 94.3h2v13.3h-2zM962 149.3h2v15.1h-2zM606 195.8h2v16.2h-2zM754 195.8h2v16.2h-2zM962 212.0h2v16.2h-2zM858 301.6h2v14.9h-2zM894 301.6h2v14.9h-2zM962 301.6h2v14.9h-2zM962 316.4h2v14.9h-2zM644 358.6h2v13.6h-2zM962 358.6h2v13.6h-2zM894 372.2h2v15.5h-2zM894 432.1h2v13.4h-2zM602 471.9h2v13.2h-2zM604 471.9h2v13.2h-2zM606 471.9h2v13.2h-2zM616 471.9h2v13.2h-2zM646 471.9h2v13.2h-2zM700 471.9h2v13.2h-2zM956 471.9h2v13.2h-2zM962 471.9h2v13.2h-2zM602 485.1h2v13.2h-2zM608 485.1h2v13.2h-2zM618 485.1h2v13.2h-2zM644 485.1h2v13.2h-2zM646 485.1h2v13.2h-2zM648 485.1h2v13.2h-2zM668 485.1h2v13.2h-2zM730 485.1h2v13.2h-2zM754 485.1h2v13.2h-2zM756 485.1h2v13.2h-2zM766 485.1h2v13.2h-2zM834 485.1h2v13.2h-2zM858 485.1h2v13.2h-2zM894 485.1h2v13.2h-2zM920 485.1h2v13.2h-2zM958 485.1h2v13.2h-2zM962 485.1h2v13.2h-2zM618 498.4h2v13.2h-2zM646 498.4h2v13.2h-2zM858 498.4h2v13.2h-2zM962 498.4h2v13.2h-2zM604 526.5h2v14.4h-2zM648 526.5h2v14.4h-2zM700 526.5h2v14.4h-2zM606 568.7h2v12.4h-2zM608 568.7h2v12.4h-2zM644 568.7h2v12.4h-2zM646 568.7h2v12.4h-2zM648 568.7h2v12.4h-2zM658 568.7h2v12.4h-2zM698 568.7h2v12.4h-2zM700 568.7h2v12.4h-2zM704 568.7h2v12.4h-2zM722 568.7h2v12.4h-2zM754 568.7h2v12.4h-2zM834 568.7h2v12.4h-2zM894 568.7h2v12.4h-2zM920 568.7h2v12.4h-2zM958 568.7h2v12.4h-2zM962 568.7h2v12.4h-2zM606 581.1h2v12.4h-2zM644 581.1h2v12.4h-2zM698 581.1h2v12.4h-2zM702 581.1h2v12.4h-2zM700 593.5h2v12.5h-2zM702 593.5h2v12.5h-2zM858 593.5h2v12.5h-2zM962 593.5h2v12.5h-2zM602 606.4h2v15.6h-2zM606 606.4h2v15.6h-2zM610 606.4h2v15.6h-2zM644 606.4h2v15.6h-2zM658 606.4h2v15.6h-2zM696 606.4h2v15.6h-2zM700 606.4h2v15.6h-2zM702 606.4h2v15.6h-2zM730 606.4h2v15.6h-2zM874 606.4h2v15.6h-2zM918 606.4h2v15.6h-2zM958 606.4h2v15.6h-2zM648 622.0h2v15.6h-2zM730 622.0h2v15.6h-2zM858 622.0h2v15.6h-2zM606 637.7h2v15.6h-2zM658 637.7h2v15.6h-2zM698 637.7h2v15.6h-2zM700 637.7h2v15.6h-2zM722 637.7h2v15.6h-2zM732 637.7h2v15.6h-2zM834 637.7h2v15.6h-2zM858 637.7h2v15.6h-2zM874 637.7h2v15.6h-2zM604 653.3h2v15.7h-2zM646 653.3h2v15.7h-2zM680 653.3h2v15.7h-2zM696 653.3h2v15.7h-2zM730 653.3h2v15.7h-2zM744 653.3h2v15.7h-2zM754 653.3h2v15.7h-2zM810 653.3h2v15.7h-2zM754 669.0h2v15.7h-2zM604 732.9h2v15.9h-2zM646 732.9h2v15.9h-2zM648 732.9h2v15.9h-2zM698 732.9h2v15.9h-2zM700 732.9h2v15.9h-2zM730 732.9h2v15.9h-2zM752 732.9h2v15.9h-2zM756 732.9h2v15.9h-2zM746 763.7h2v17.6h-2zM766 763.7h2v17.6h-2zM808 763.7h2v17.6h-2zM810 763.7h2v17.6h-2zM646 798.5h2v17.2h-2zM702 798.5h2v17.2h-2zM730 798.5h2v17.2h-2zM746 798.5h2v17.2h-2zM752 798.5h2v17.2h-2zM754 798.5h2v17.2h-2zM764 798.5h2v17.2h-2zM766 798.5h2v17.2h-2zM786 798.5h2v17.2h-2zM858 798.5h2v17.2h-2zM956 798.5h2v17.2h-2zM754 833.3h2v11.2h-2zM730 844.5h2v11.1h-2zM766 844.5h2v11.1h-2zM606 855.8h2v12.0h-2zM702 855.8h2v12.0h-2zM752 855.8h2v12.0h-2zM754 855.8h2v12.0h-2zM784 855.8h2v12.0h-2zM834 855.8h2v12.0h-2zM894 855.8h2v12.0h-2zM916 855.8h2v12.0h-2zM962 855.8h2v12.0h-2zM858 867.8h2v12.0h-2zM646 880.6h2v11.2h-2zM702 880.6h2v11.2h-2zM746 880.6h2v11.2h-2zM766 880.6h2v11.2h-2zM784 880.6h2v11.2h-2zM810 880.6h2v11.2h-2zM832 880.6h2v11.2h-2zM836 880.6h2v11.2h-2zM856 880.6h2v11.2h-2zM858 880.6h2v11.2h-2zM874 880.6h2v11.2h-2zM702 891.8h2v11.2h-2zM746 891.8h2v11.2h-2zM754 891.8h2v11.2h-2zM874 905.0h2v16.6h-2zM702 922.4h2v11.8h-2zM894 922.4h2v11.8h-2zM702 946.4h2v18.6h-2zM894 946.4h2v18.6h-2z" fill="#4a5cff" fill-opacity="0.36"/>
<rect x="590.0" y="196.0" width="21.0" height="49.0" fill="#2f55ff" fill-opacity="0.16"/>
<rect x="590.0" y="245.0" width="21.0" height="215.0" fill="#2f55ff" fill-opacity="0.18"/>
<rect x="590.0" y="196.0" width="10.0" height="49.0" fill="#2f55ff" fill-opacity="0.12"/>
<rect x="591.0" y="400.0" width="6.0" height="59.0" fill="#2f55ff" fill-opacity="0.22"/>
<rect x="590.0" y="330.0" width="6.0" height="42.0" fill="#2f55ff" fill-opacity="0.12"/>
<rect x="606.0" y="250.0" width="5.0" height="210.0" fill="#2f55ff" fill-opacity="0.14"/>
<rect x="611.0" y="233.0" width="7.6" height="53.0" fill="#2f55ff" fill-opacity="0.48"/>
<rect x="611.0" y="286.0" width="7.6" height="49.0" fill="#2f55ff" fill-opacity="0.30"/>
<rect x="611.5" y="335.0" width="7.1" height="51.0" fill="#2f55ff" fill-opacity="0.30"/>
<rect x="611.0" y="386.0" width="7.6" height="35.0" fill="#2f55ff" fill-opacity="0.30"/>
<rect x="610.0" y="421.0" width="8.6" height="21.0" fill="#2f55ff" fill-opacity="0.30"/>
<rect x="611.0" y="442.0" width="7.6" height="18.5" fill="#2f55ff" fill-opacity="0.30"/>
<rect x="619.7" y="246.0" width="5.5" height="31.0" fill="#2f55ff" fill-opacity="0.45"/>
<rect x="668.6" y="285.0" width="3.2" height="43.0" fill="#2f55ff" fill-opacity="0.40"/>
<rect x="676.0" y="320.0" width="3.4" height="52.0" fill="#2f55ff" fill-opacity="0.42"/>
<rect x="669.0" y="419.0" width="2.0" height="41.0" fill="#2f55ff" fill-opacity="0.35"/>
<rect x="675.5" y="419.0" width="2.0" height="41.0" fill="#2f55ff" fill-opacity="0.35"/>
<rect x="590.0" y="168.0" width="14.0" height="28.0" fill="#2f55ff" fill-opacity="0.20"/>
<rect x="621.0" y="60.0" width="4.0" height="12.0" fill="#2f55ff" fill-opacity="0.40"/>
<rect x="621.0" y="80.0" width="4.0" height="12.0" fill="#2f55ff" fill-opacity="0.35"/>
<rect x="621.0" y="97.0" width="4.0" height="16.0" fill="#2f55ff" fill-opacity="0.35"/>
<rect x="657.0" y="60.0" width="4.5" height="12.0" fill="#2f55ff" fill-opacity="0.40"/>
<rect x="657.0" y="82.0" width="4.5" height="13.0" fill="#2f55ff" fill-opacity="0.35"/>
<rect x="657.0" y="97.0" width="4.0" height="13.0" fill="#2f55ff" fill-opacity="0.30"/>
<rect x="678.0" y="60.0" width="3.0" height="15.0" fill="#2f55ff" fill-opacity="0.35"/>
<rect x="679.0" y="103.0" width="5.0" height="9.0" fill="#2f55ff" fill-opacity="0.30"/>
<rect x="692.0" y="62.0" width="18.0" height="12.0" fill="#2f55ff" fill-opacity="0.33"/>
<rect x="694.0" y="82.0" width="14.0" height="15.0" fill="#2f55ff" fill-opacity="0.28"/>
<rect x="698.0" y="102.0" width="38.0" height="9.0" fill="#2f55ff" fill-opacity="0.36"/>
<rect x="729.0" y="62.0" width="5.0" height="12.0" fill="#2f55ff" fill-opacity="0.30"/>
<rect x="729.0" y="82.0" width="6.0" height="15.0" fill="#2f55ff" fill-opacity="0.45"/>
<rect x="760.0" y="60.0" width="4.0" height="14.0" fill="#2f55ff" fill-opacity="0.25"/>
<rect x="801.0" y="76.0" width="3.0" height="8.0" fill="#2f55ff" fill-opacity="0.30"/>
<rect x="847.0" y="85.0" width="4.0" height="12.0" fill="#2f55ff" fill-opacity="0.30"/>
<rect x="590.0" y="111.5" width="385.0" height="7.5" fill="#2f55ff" fill-opacity="0.07"/>
<rect x="650.0" y="145.0" width="7.0" height="17.0" fill="#2f55ff" fill-opacity="0.35"/>
<rect x="695.0" y="147.0" width="15.0" height="29.0" fill="#2f55ff" fill-opacity="0.22"/>
<rect x="729.0" y="147.0" width="3.0" height="14.0" fill="#2f55ff" fill-opacity="0.30"/>
<rect x="744.0" y="166.0" width="4.0" height="13.0" fill="#2f55ff" fill-opacity="0.45"/>
<rect x="786.0" y="166.0" width="4.0" height="13.0" fill="#2f55ff" fill-opacity="0.42"/>
<rect x="845.0" y="143.0" width="8.0" height="36.0" fill="#2f55ff" fill-opacity="0.36"/>
<rect x="942.0" y="146.0" width="5.0" height="16.0" fill="#2f55ff" fill-opacity="0.45"/>
<rect x="944.0" y="95.0" width="5.0" height="25.0" fill="#2f55ff" fill-opacity="0.30"/>
<rect x="960.0" y="95.0" width="4.0" height="35.0" fill="#2f55ff" fill-opacity="0.30"/>
<rect x="590.0" y="166.0" width="16.0" height="30.0" fill="#2f55ff" fill-opacity="0.18"/>
<rect x="656.0" y="187.0" width="4.0" height="21.0" fill="#2f55ff" fill-opacity="0.30"/>
<rect x="710.0" y="190.0" width="5.0" height="9.0" fill="#2f55ff" fill-opacity="0.30"/>
<rect x="702.0" y="201.0" width="28.0" height="10.0" fill="#2f55ff" fill-opacity="0.25"/>
<rect x="792.0" y="193.0" width="4.0" height="12.0" fill="#2f55ff" fill-opacity="0.35"/>
<rect x="698.0" y="219.0" width="3.5" height="67.0" fill="#2f55ff" fill-opacity="0.25"/>
<rect x="704.0" y="245.0" width="3.0" height="41.0" fill="#2f55ff" fill-opacity="0.20"/>
<rect x="763.0" y="226.0" width="7.6" height="46.0" fill="#2f55ff" fill-opacity="0.34"/>
<rect x="789.0" y="226.0" width="2.5" height="46.0" fill="#2f55ff" fill-opacity="0.28"/>
<rect x="846.0" y="222.0" width="8.5" height="56.0" fill="#2f55ff" fill-opacity="0.46"/>
<rect x="846.5" y="226.0" width="5.5" height="15.0" fill="#2f55ff" fill-opacity="0.30"/>
<rect x="846.5" y="260.0" width="5.5" height="17.0" fill="#2f55ff" fill-opacity="0.35"/>
<rect x="846.0" y="302.0" width="7.0" height="65.0" fill="#2f55ff" fill-opacity="0.36"/>
<rect x="846.0" y="385.0" width="8.0" height="30.0" fill="#2f55ff" fill-opacity="0.45"/>
<rect x="846.0" y="434.0" width="7.0" height="31.0" fill="#2f55ff" fill-opacity="0.47"/>
<rect x="874.0" y="219.0" width="3.0" height="61.0" fill="#2f55ff" fill-opacity="0.20"/>
<rect x="908.0" y="219.0" width="3.0" height="61.0" fill="#2f55ff" fill-opacity="0.22"/>
<rect x="944.0" y="226.0" width="30.6" height="13.0" fill="#2f55ff" fill-opacity="0.40"/>
<rect x="947.0" y="245.0" width="26.0" height="41.0" fill="#2f55ff" fill-opacity="0.20"/>
<rect x="905.0" y="289.0" width="4.5" height="96.0" fill="#2f55ff" fill-opacity="0.33"/>
<rect x="927.0" y="293.0" width="2.5" height="72.0" fill="#2f55ff" fill-opacity="0.32"/>
<rect x="938.8" y="267.0" width="3.7" height="35.0" fill="#2f55ff" fill-opacity="0.35"/>
<rect x="938.8" y="302.0" width="3.7" height="35.0" fill="#2f55ff" fill-opacity="0.30"/>
<rect x="939.0" y="337.0" width="3.0" height="28.0" fill="#2f55ff" fill-opacity="0.40"/>
<rect x="944.0" y="345.6" width="30.6" height="6.4" fill="#2f55ff" fill-opacity="0.36"/>
<rect x="944.0" y="378.0" width="30.6" height="9.0" fill="#2f55ff" fill-opacity="0.47"/>
<rect x="946.0" y="352.0" width="26.0" height="26.0" fill="#2f55ff" fill-opacity="0.14"/>
<rect x="767.0" y="289.0" width="2.5" height="96.0" fill="#2f55ff" fill-opacity="0.25"/>
<rect x="779.0" y="289.0" width="4.6" height="96.0" fill="#2f55ff" fill-opacity="0.30"/>
<rect x="779.0" y="305.0" width="5.0" height="10.0" fill="#2f55ff" fill-opacity="0.30"/>
<rect x="886.0" y="389.0" width="78.0" height="61.0" fill="#2f55ff" fill-opacity="0.12"/>
<rect x="887.0" y="412.0" width="12.0" height="34.0" fill="#2f55ff" fill-opacity="0.25"/>
<rect x="930.0" y="395.0" width="30.0" height="15.0" fill="#2f55ff" fill-opacity="0.15"/>
<rect x="779.0" y="410.0" width="4.0" height="30.0" fill="#2f55ff" fill-opacity="0.30"/>
<rect x="801.0" y="400.0" width="3.0" height="20.0" fill="#2f55ff" fill-opacity="0.25"/>
<rect x="740.0" y="290.0" width="5.0" height="82.0" fill="#2f55ff" fill-opacity="0.14"/>
<rect x="752.0" y="290.0" width="4.0" height="82.0" fill="#2f55ff" fill-opacity="0.16"/>
<rect x="590.0" y="477.0" width="17.0" height="56.0" fill="#2f55ff" fill-opacity="0.16"/>
<rect x="590.0" y="455.0" width="10.0" height="7.0" fill="#2f55ff" fill-opacity="0.30"/>
<rect x="606.0" y="455.0" width="11.0" height="6.0" fill="#2f55ff" fill-opacity="0.40"/>
<rect x="678.0" y="518.0" width="26.0" height="17.0" fill="#2f55ff" fill-opacity="0.38"/>
<rect x="684.0" y="518.0" width="3.0" height="17.0" fill="#2f55ff" fill-opacity="0.30"/>
<rect x="694.0" y="518.0" width="3.0" height="17.0" fill="#2f55ff" fill-opacity="0.30"/>
<rect x="715.0" y="483.0" width="13.0" height="26.0" fill="#2f55ff" fill-opacity="0.22"/>
<rect x="696.0" y="585.0" width="30.0" height="22.0" fill="#2f55ff" fill-opacity="0.20"/>
<rect x="619.7" y="516.0" width="3.3" height="134.0" fill="#2f55ff" fill-opacity="0.22"/>
<rect x="619.7" y="650.0" width="3.5" height="150.0" fill="#2f55ff" fill-opacity="0.42"/>
<rect x="609.0" y="637.0" width="8.5" height="13.0" fill="#2f55ff" fill-opacity="0.30"/>
<rect x="590.0" y="637.0" width="4.0" height="12.0" fill="#2f55ff" fill-opacity="0.40"/>
<rect x="598.0" y="640.0" width="8.0" height="10.0" fill="#2f55ff" fill-opacity="0.25"/>
<rect x="656.6" y="560.0" width="3.4" height="90.0" fill="#2f55ff" fill-opacity="0.18"/>
<rect x="656.6" y="650.0" width="3.4" height="140.0" fill="#2f55ff" fill-opacity="0.30"/>
<rect x="678.0" y="660.0" width="2.5" height="140.0" fill="#2f55ff" fill-opacity="0.28"/>
<rect x="689.0" y="668.0" width="6.7" height="132.0" fill="#2f55ff" fill-opacity="0.40"/>
<rect x="699.0" y="700.0" width="3.0" height="100.0" fill="#2f55ff" fill-opacity="0.20"/>
<rect x="846.0" y="600.0" width="4.0" height="60.0" fill="#2f55ff" fill-opacity="0.35"/>
<rect x="923.0" y="640.0" width="4.0" height="42.0" fill="#2f55ff" fill-opacity="0.40"/>
<rect x="846.0" y="660.0" width="3.0" height="40.0" fill="#2f55ff" fill-opacity="0.20"/>
<rect x="590.0" y="560.0" width="50.0" height="80.0" fill="#2f55ff" fill-opacity="0.06"/>
<rect x="826.5" y="748.0" width="3.0" height="28.0" fill="#2f55ff" fill-opacity="0.30"/>
<rect x="822.5" y="748.0" width="2.0" height="24.0" fill="#2f55ff" fill-opacity="0.40"/>
<rect x="697.0" y="749.0" width="36.0" height="10.0" fill="#2f55ff" fill-opacity="0.34"/>
<rect x="906.0" y="752.0" width="4.0" height="23.0" fill="#2f55ff" fill-opacity="0.35"/>
<rect x="640.0" y="780.0" width="6.0" height="20.0" fill="#2f55ff" fill-opacity="0.25"/>
<rect x="716.0" y="785.0" width="5.0" height="15.0" fill="#2f55ff" fill-opacity="0.30"/>
<rect x="756.0" y="785.0" width="6.0" height="15.0" fill="#2f55ff" fill-opacity="0.28"/>
<rect x="793.0" y="783.0" width="19.0" height="32.0" fill="#2f55ff" fill-opacity="0.28"/>
<rect x="801.0" y="783.0" width="3.0" height="32.0" fill="#2f55ff" fill-opacity="0.25"/>
<rect x="803.0" y="835.0" width="5.0" height="41.0" fill="#2f55ff" fill-opacity="0.30"/>
<rect x="793.0" y="835.0" width="3.5" height="41.0" fill="#2f55ff" fill-opacity="0.30"/>
<rect x="771.0" y="835.0" width="3.0" height="70.0" fill="#2f55ff" fill-opacity="0.36"/>
<rect x="812.0" y="840.0" width="4.0" height="30.0" fill="#2f55ff" fill-opacity="0.30"/>
<rect x="753.0" y="850.0" width="5.0" height="60.0" fill="#2f55ff" fill-opacity="0.28"/>
<rect x="719.0" y="790.0" width="3.0" height="90.0" fill="#2f55ff" fill-opacity="0.25"/>
<rect x="640.0" y="850.0" width="6.0" height="20.0" fill="#2f55ff" fill-opacity="0.22"/>
<rect x="638.0" y="910.0" width="6.0" height="45.0" fill="#2f55ff" fill-opacity="0.42"/>
<rect x="734.5" y="900.0" width="3.5" height="65.0" fill="#2f55ff" fill-opacity="0.36"/>
<rect x="640.0" y="855.0" width="60.0" height="25.0" fill="#2f55ff" fill-opacity="0.08"/>
<rect x="810.0" y="917.0" width="36.0" height="8.0" fill="#2f55ff" fill-opacity="0.42"/>
<rect x="845.0" y="930.0" width="25.0" height="10.0" fill="#2f55ff" fill-opacity="0.15"/>
<rect x="895.0" y="835.0" width="5.0" height="30.0" fill="#2f55ff" fill-opacity="0.20"/>
<rect x="935.0" y="850.0" width="10.0" height="20.0" fill="#2f55ff" fill-opacity="0.22"/>
<rect x="958.0" y="815.0" width="4.0" height="30.0" fill="#2f55ff" fill-opacity="0.20"/>
<rect x="900.0" y="752.0" width="6.0" height="38.0" fill="#2f55ff" fill-opacity="0.20"/>
<rect x="590.0" y="740.0" width="10.0" height="20.0" fill="#2f55ff" fill-opacity="0.20"/>
<rect x="622.0" y="290.0" width="30.0" height="170.0" fill="#ffd4da" fill-opacity="0.50"/>
<rect x="807.0" y="222.0" width="35.0" height="238.0" fill="#ffd4da" fill-opacity="0.55"/>
<rect x="725.0" y="222.0" width="37.0" height="68.0" fill="#ffd4da" fill-opacity="0.35"/>
<rect x="640.0" y="372.0" width="28.0" height="88.0" fill="#ffd4da" fill-opacity="0.30"/>
<rect x="640.0" y="53.0" width="60.0" height="67.0" fill="#ffd4da" fill-opacity="0.10"/>
<rect x="770.0" y="53.0" width="170.0" height="67.0" fill="#ffd4da" fill-opacity="0.25"/>
<rect x="740.0" y="480.0" width="140.0" height="280.0" fill="#ffd4da" fill-opacity="0.25"/>
<rect x="880.0" y="600.0" width="95.0" height="365.0" fill="#ffd4da" fill-opacity="0.20"/>
<rect x="590.0" y="880.0" width="110.0" height="85.0" fill="#ffd4da" fill-opacity="0.15"/>
<rect x="585.7" y="48.8" width="393.7" height="920.2" filter="url(#hmBreak)" opacity="0.7"/>
<rect x="608.0" y="121.0" width="330.0" height="11.0" fill="#fff6fb" fill-opacity="0.79"/>
<rect x="938.0" y="70.0" width="37.0" height="10.0" fill="#fff6fb" fill-opacity="0.63"/>
<rect x="651.0" y="181.0" width="285.0" height="6.5" fill="#fff6fb" fill-opacity="0.73"/>
<rect x="672.0" y="213.0" width="264.0" height="6.5" fill="#fff6fb" fill-opacity="0.79"/>
<rect x="938.0" y="128.0" width="37.0" height="22.0" fill="#fff6fb" fill-opacity="0.47"/>
<rect x="938.0" y="170.0" width="37.0" height="12.0" fill="#fff6fb" fill-opacity="0.53"/>
<rect x="622.0" y="284.0" width="258.0" height="6.0" fill="#fff6fb" fill-opacity="0.47"/>
<rect x="620.0" y="372.5" width="260.0" height="11.0" fill="#fff6fb" fill-opacity="0.89"/>
<rect x="590.0" y="372.5" width="30.0" height="11.0" fill="#fff6fb" fill-opacity="0.32"/>
<rect x="590.0" y="468.0" width="385.0" height="6.0" fill="#fff6fb" fill-opacity="0.37"/>
<rect x="880.0" y="470.0" width="95.0" height="10.0" fill="#fff6fb" fill-opacity="0.53"/>
<rect x="591.0" y="537.5" width="289.0" height="10.5" fill="#fff6fb" fill-opacity="0.73"/>
<rect x="880.0" y="562.0" width="95.0" height="10.5" fill="#fff6fb" fill-opacity="0.79"/>
<rect x="590.0" y="776.0" width="210.0" height="5.0" fill="#fff6fb" fill-opacity="0.53"/>
<rect x="640.0" y="813.0" width="80.0" height="5.0" fill="#fff6fb" fill-opacity="0.53"/>
<rect x="590.0" y="838.0" width="128.0" height="10.0" fill="#fff6fb" fill-opacity="0.73"/>
<rect x="590.0" y="655.0" width="110.0" height="4.0" fill="#fff6fb" fill-opacity="0.32"/>
<rect x="800.0" y="940.0" width="30.0" height="7.0" fill="#fff6fb" fill-opacity="0.63"/>
<rect x="725.0" y="369.5" width="35.0" height="15.2" fill="#fff6fb" fill-opacity="0.53"/>
<rect x="801.0" y="369.5" width="80.0" height="15.2" fill="#fff6fb" fill-opacity="0.37"/>
<rect x="621.0" y="372.0" width="20.0" height="12.7" fill="#fff6fb" fill-opacity="0.42"/>
<rect x="725.0" y="185.0" width="215.0" height="27.0" fill="#fff6fb" fill-opacity="0.19"/>
<rect x="611.0" y="286.0" width="7.6" height="49.0" fill="#2650ff" fill-opacity="0.57"/>
<rect x="611.5" y="335.0" width="7.1" height="51.0" fill="#2650ff" fill-opacity="0.85"/>
<rect x="611.0" y="386.0" width="7.6" height="35.0" fill="#2650ff" fill-opacity="0.57"/>
<rect x="610.0" y="421.0" width="8.6" height="21.0" fill="#2650ff" fill-opacity="0.85"/>
<rect x="611.0" y="442.0" width="7.6" height="18.5" fill="#2650ff" fill-opacity="0.63"/>
<rect x="729.0" y="62.0" width="5.0" height="12.0" fill="#2650ff" fill-opacity="0.46"/>
<rect x="710.0" y="190.0" width="5.0" height="9.0" fill="#2650ff" fill-opacity="0.46"/>
<rect x="938.8" y="302.0" width="3.7" height="35.0" fill="#2650ff" fill-opacity="0.57"/>
<rect x="590.0" y="455.0" width="10.0" height="7.0" fill="#2650ff" fill-opacity="0.46"/>
<rect x="609.0" y="637.0" width="8.5" height="13.0" fill="#2650ff" fill-opacity="0.57"/>
<rect x="826.5" y="748.0" width="3.0" height="28.0" fill="#2650ff" fill-opacity="0.55"/>
<rect x="803.0" y="835.0" width="5.0" height="41.0" fill="#2650ff" fill-opacity="0.51"/>
<rect x="793.0" y="835.0" width="3.5" height="41.0" fill="#2650ff" fill-opacity="0.46"/>
<rect x="589.7" y="52.6" width="5.5" height="41.7" fill="#ff3535"/>
<rect x="589.7" y="52.6" width="5.5" height="10.4" fill="#ff7a7a" fill-opacity="0.50"/>
<rect x="589.7" y="67.7" width="5.5" height="2.6" fill="#ff9090" fill-opacity="0.19"/>
<rect x="589.7" y="60.6" width="5.5" height="2.3" fill="#ff9090" fill-opacity="0.32"/>
<rect x="589.7" y="64.8" width="5.5" height="1.8" fill="#ff9090" fill-opacity="0.18"/>
<rect x="589.7" y="66.7" width="5.5" height="2.1" fill="#ff9090" fill-opacity="0.35"/>
<rect x="589.7" y="61.9" width="5.5" height="2.0" fill="#ff9090" fill-opacity="0.34"/>
<rect x="595.2" y="94.3" width="10.5" height="53.2" fill="#ff1c1c"/>
<rect x="595.2" y="120.9" width="10.5" height="11.7" fill="#ff7a7a" fill-opacity="0.55"/>
<rect x="595.2" y="104.7" width="10.5" height="1.6" fill="#ff9090" fill-opacity="0.39"/>
<rect x="595.2" y="140.2" width="10.5" height="2.0" fill="#ff9090" fill-opacity="0.22"/>
<rect x="595.2" y="117.4" width="10.5" height="1.8" fill="#ff9090" fill-opacity="0.35"/>
<rect x="595.2" y="138.7" width="10.5" height="2.6" fill="#ff9090" fill-opacity="0.25"/>
<rect x="595.2" y="136.5" width="10.5" height="2.9" fill="#ff9090" fill-opacity="0.20"/>
<rect x="595.2" y="127.9" width="10.5" height="1.8" fill="#ff9090" fill-opacity="0.40"/>
<rect x="606.0" y="149.3" width="12.1" height="45.4" fill="#ff1414"/>
<rect x="606.0" y="183.0" width="12.1" height="2.1" fill="#ff9090" fill-opacity="0.34"/>
<rect x="606.0" y="161.7" width="12.1" height="1.6" fill="#ff9090" fill-opacity="0.28"/>
<rect x="606.0" y="152.5" width="12.1" height="2.2" fill="#ff9090" fill-opacity="0.36"/>
<rect x="606.0" y="173.8" width="12.1" height="1.9" fill="#ff9090" fill-opacity="0.20"/>
<rect x="606.0" y="173.0" width="12.1" height="2.3" fill="#ff9090" fill-opacity="0.38"/>
<rect x="618.1" y="195.8" width="17.7" height="48.7" fill="#ff4545"/>
<rect x="627.0" y="195.8" width="3.9" height="48.7" fill="#ff0a0a" fill-opacity="0.80"/>
<rect x="620.8" y="195.8" width="2.7" height="48.7" fill="#ff0a0a" fill-opacity="0.40"/>
<rect x="618.1" y="203.6" width="17.7" height="2.2" fill="#ff9090" fill-opacity="0.26"/>
<rect x="618.1" y="213.0" width="17.7" height="1.8" fill="#ff9090" fill-opacity="0.25"/>
<rect x="618.1" y="220.6" width="17.7" height="1.8" fill="#ff9090" fill-opacity="0.23"/>
<rect x="618.1" y="219.9" width="17.7" height="2.9" fill="#ff9090" fill-opacity="0.27"/>
<rect x="618.1" y="211.6" width="17.7" height="1.6" fill="#ff9090" fill-opacity="0.28"/>
<rect x="618.1" y="211.5" width="17.7" height="1.7" fill="#ff9090" fill-opacity="0.27"/>
<rect x="636.4" y="244.5" width="11.1" height="41.3" fill="#ff1c1c"/>
<rect x="636.4" y="244.5" width="2.8" height="41.3" fill="#ff7a7a" fill-opacity="0.40"/>
<rect x="636.4" y="268.1" width="11.1" height="2.0" fill="#ff9090" fill-opacity="0.33"/>
<rect x="636.4" y="268.7" width="11.1" height="1.6" fill="#ff9090" fill-opacity="0.16"/>
<rect x="636.4" y="264.6" width="11.1" height="2.4" fill="#ff9090" fill-opacity="0.29"/>
<rect x="636.4" y="253.3" width="11.1" height="2.0" fill="#ff9090" fill-opacity="0.33"/>
<rect x="636.4" y="259.7" width="11.1" height="2.3" fill="#ff9090" fill-opacity="0.21"/>
<rect x="647.9" y="286.7" width="7.4" height="44.6" fill="#ff1818"/>
<rect x="647.9" y="312.9" width="7.4" height="2.2" fill="#ff9090" fill-opacity="0.15"/>
<rect x="647.9" y="318.1" width="7.4" height="2.7" fill="#ff9090" fill-opacity="0.40"/>
<rect x="647.9" y="325.9" width="7.4" height="2.6" fill="#ff9090" fill-opacity="0.27"/>
<rect x="647.9" y="297.8" width="7.4" height="2.6" fill="#ff9090" fill-opacity="0.25"/>
<rect x="647.9" y="300.1" width="7.4" height="1.7" fill="#ff9090" fill-opacity="0.30"/>
<rect x="655.7" y="331.3" width="16.7" height="40.9" fill="#ff1212"/>
<rect x="655.7" y="331.3" width="5.5" height="40.9" fill="#ff7a7a" fill-opacity="0.55"/>
<rect x="655.7" y="358.2" width="16.7" height="2.7" fill="#ff9090" fill-opacity="0.19"/>
<rect x="655.7" y="339.1" width="16.7" height="2.5" fill="#ff9090" fill-opacity="0.18"/>
<rect x="655.7" y="364.9" width="16.7" height="2.9" fill="#ff9090" fill-opacity="0.31"/>
<rect x="655.7" y="341.2" width="16.7" height="2.3" fill="#ff9090" fill-opacity="0.34"/>
<rect x="655.7" y="344.4" width="16.7" height="2.5" fill="#ff9090" fill-opacity="0.30"/>
<rect x="672.4" y="372.2" width="16.0" height="46.5" fill="#ff1818"/>
<rect x="680.4" y="372.2" width="8.0" height="46.5" fill="#ff7a7a" fill-opacity="0.60"/>
<rect x="672.4" y="408.5" width="16.0" height="10.2" fill="#ff7a7a" fill-opacity="0.40"/>
<rect x="672.4" y="411.7" width="16.0" height="2.7" fill="#ff9090" fill-opacity="0.32"/>
<rect x="672.4" y="395.9" width="16.0" height="2.8" fill="#ff9090" fill-opacity="0.30"/>
<rect x="672.4" y="402.2" width="16.0" height="2.0" fill="#ff9090" fill-opacity="0.18"/>
<rect x="672.4" y="396.5" width="16.0" height="1.8" fill="#ff9090" fill-opacity="0.39"/>
<rect x="672.4" y="381.8" width="16.0" height="2.8" fill="#ff9090" fill-opacity="0.23"/>
<rect x="688.8" y="418.7" width="12.2" height="40.3" fill="#ff4a4a"/>
<rect x="697.1" y="418.7" width="3.3" height="40.3" fill="#ff0a0a" fill-opacity="0.80"/>
<rect x="688.8" y="425.9" width="12.2" height="2.4" fill="#ff9090" fill-opacity="0.23"/>
<rect x="688.8" y="455.8" width="12.2" height="2.4" fill="#ff9090" fill-opacity="0.18"/>
<rect x="688.8" y="430.3" width="12.2" height="1.7" fill="#ff9090" fill-opacity="0.27"/>
<rect x="688.8" y="438.4" width="12.2" height="2.0" fill="#ff9090" fill-opacity="0.32"/>
<rect x="688.8" y="435.3" width="12.2" height="2.7" fill="#ff9090" fill-opacity="0.32"/>
<rect x="701.4" y="458.6" width="13.0" height="53.0" fill="#ff3030"/>
<rect x="701.4" y="473.4" width="13.0" height="4.2" fill="#ff7a7a" fill-opacity="0.40"/>
<rect x="701.4" y="490.4" width="13.0" height="4.2" fill="#ff7a7a" fill-opacity="0.40"/>
<rect x="701.4" y="471.5" width="13.0" height="2.7" fill="#ff9090" fill-opacity="0.16"/>
<rect x="701.4" y="470.4" width="13.0" height="1.5" fill="#ff9090" fill-opacity="0.39"/>
<rect x="701.4" y="485.4" width="13.0" height="2.8" fill="#ff9090" fill-opacity="0.40"/>
<rect x="701.4" y="463.2" width="13.0" height="2.9" fill="#ff9090" fill-opacity="0.16"/>
<rect x="701.4" y="493.6" width="13.0" height="2.7" fill="#ff9090" fill-opacity="0.25"/>
<rect x="701.4" y="503.1" width="13.0" height="2.7" fill="#ff9090" fill-opacity="0.27"/>
<rect x="714.4" y="512.1" width="13.0" height="43.2" fill="#ff4040"/>
<rect x="714.4" y="537.2" width="13.0" height="11.2" fill="#ff7a7a" fill-opacity="0.50"/>
<rect x="714.4" y="523.4" width="13.0" height="1.7" fill="#ff9090" fill-opacity="0.17"/>
<rect x="714.4" y="533.9" width="13.0" height="2.3" fill="#ff9090" fill-opacity="0.20"/>
<rect x="714.4" y="533.4" width="13.0" height="1.6" fill="#ff9090" fill-opacity="0.23"/>
<rect x="714.4" y="539.0" width="13.0" height="1.7" fill="#ff9090" fill-opacity="0.28"/>
<rect x="714.4" y="517.5" width="13.0" height="2.8" fill="#ff9090" fill-opacity="0.20"/>
<rect x="728.0" y="556.2" width="12.4" height="49.8" fill="#ff2222"/>
<rect x="728.0" y="599.8" width="12.4" height="2.9" fill="#ff9090" fill-opacity="0.39"/>
<rect x="728.0" y="569.4" width="12.4" height="2.5" fill="#ff9090" fill-opacity="0.17"/>
<rect x="728.0" y="601.7" width="12.4" height="2.5" fill="#ff9090" fill-opacity="0.16"/>
<rect x="728.0" y="562.7" width="12.4" height="1.7" fill="#ff9090" fill-opacity="0.24"/>
<rect x="728.0" y="600.1" width="12.4" height="2.7" fill="#ff9090" fill-opacity="0.23"/>
<rect x="728.0" y="594.1" width="12.4" height="1.5" fill="#ff9090" fill-opacity="0.29"/>
<rect x="741.0" y="606.4" width="15.8" height="46.9" fill="#ff2626"/>
<rect x="741.0" y="623.5" width="15.8" height="1.6" fill="#ff9090" fill-opacity="0.38"/>
<rect x="741.0" y="635.3" width="15.8" height="3.0" fill="#ff9090" fill-opacity="0.31"/>
<rect x="741.0" y="633.7" width="15.8" height="1.7" fill="#ff9090" fill-opacity="0.27"/>
<rect x="741.0" y="645.8" width="15.8" height="2.3" fill="#ff9090" fill-opacity="0.31"/>
<rect x="741.0" y="626.6" width="15.8" height="2.0" fill="#ff9090" fill-opacity="0.15"/>
<rect x="757.1" y="653.3" width="17.4" height="47.1" fill="#ff3a3a"/>
<rect x="757.1" y="672.1" width="8.7" height="28.3" fill="#ff0a0a" fill-opacity="0.50"/>
<rect x="757.1" y="662.9" width="17.4" height="1.8" fill="#ff9090" fill-opacity="0.17"/>
<rect x="757.1" y="655.7" width="17.4" height="2.6" fill="#ff9090" fill-opacity="0.40"/>
<rect x="757.1" y="684.1" width="17.4" height="2.7" fill="#ff9090" fill-opacity="0.20"/>
<rect x="757.1" y="690.8" width="17.4" height="2.1" fill="#ff9090" fill-opacity="0.36"/>
<rect x="757.1" y="663.8" width="17.4" height="1.9" fill="#ff9090" fill-opacity="0.28"/>
<rect x="774.4" y="701.0" width="20.5" height="47.8" fill="#ff3030"/>
<rect x="780.5" y="703.4" width="8.2" height="31.1" fill="#ff7a7a" fill-opacity="0.55"/>
<rect x="774.4" y="736.4" width="20.5" height="12.4" fill="#ff0a0a" fill-opacity="0.50"/>
<rect x="774.4" y="711.0" width="20.5" height="1.9" fill="#ff9090" fill-opacity="0.33"/>
<rect x="774.4" y="736.4" width="20.5" height="3.0" fill="#ff9090" fill-opacity="0.31"/>
<rect x="774.4" y="716.7" width="20.5" height="2.2" fill="#ff9090" fill-opacity="0.30"/>
<rect x="774.4" y="727.5" width="20.5" height="2.9" fill="#ff9090" fill-opacity="0.29"/>
<rect x="774.4" y="744.1" width="20.5" height="2.2" fill="#ff9090" fill-opacity="0.26"/>
<rect x="794.9" y="750.1" width="17.6" height="10.8" fill="#ff2a2a"/>
<rect x="794.9" y="750.3" width="17.6" height="2.0" fill="#ff9090" fill-opacity="0.27"/>
<rect x="812.9" y="763.7" width="8.0" height="17.6" fill="#ff7272"/>
<rect x="812.9" y="763.9" width="8.0" height="2.2" fill="#ff9090" fill-opacity="0.18"/>
<rect x="812.9" y="767.6" width="8.0" height="2.8" fill="#ff9090" fill-opacity="0.38"/>
<rect x="820.9" y="781.3" width="18.6" height="34.4" fill="#ff3636"/>
<rect x="824.6" y="784.7" width="7.4" height="27.5" fill="#ff7a7a" fill-opacity="0.30"/>
<rect x="820.9" y="784.9" width="18.6" height="2.4" fill="#ff9090" fill-opacity="0.27"/>
<rect x="820.9" y="783.0" width="18.6" height="1.9" fill="#ff9090" fill-opacity="0.28"/>
<rect x="820.9" y="794.7" width="18.6" height="2.4" fill="#ff9090" fill-opacity="0.17"/>
<rect x="820.9" y="800.5" width="18.6" height="2.4" fill="#ff9090" fill-opacity="0.20"/>
<rect x="840.0" y="816.0" width="15.4" height="15.5" fill="#ff2222"/>
<rect x="840.0" y="823.1" width="15.4" height="2.9" fill="#ff9090" fill-opacity="0.37"/>
<rect x="856.0" y="833.3" width="13.1" height="22.3" fill="#ff4040"/>
<rect x="856.0" y="845.2" width="13.1" height="2.3" fill="#ff9090" fill-opacity="0.34"/>
<rect x="856.0" y="842.1" width="13.1" height="2.6" fill="#ff9090" fill-opacity="0.24"/>
<rect x="869.5" y="855.8" width="18.8" height="24.0" fill="#ff3636"/>
<rect x="875.1" y="855.8" width="7.5" height="8.4" fill="#ff7a7a" fill-opacity="0.50"/>
<rect x="869.5" y="867.5" width="18.8" height="2.6" fill="#ff9090" fill-opacity="0.30"/>
<rect x="869.5" y="868.5" width="18.8" height="2.1" fill="#ff9090" fill-opacity="0.24"/>
<rect x="869.5" y="869.6" width="18.8" height="2.2" fill="#ff9090" fill-opacity="0.26"/>
<rect x="888.8" y="880.6" width="24.0" height="22.4" fill="#ff3a3a"/>
<rect x="899.6" y="880.6" width="3.6" height="22.4" fill="#ff7a7a" fill-opacity="0.35"/>
<rect x="888.8" y="887.9" width="24.0" height="1.9" fill="#ff9090" fill-opacity="0.31"/>
<rect x="888.8" y="897.6" width="24.0" height="1.8" fill="#ff9090" fill-opacity="0.31"/>
<rect x="913.1" y="905.0" width="17.6" height="16.6" fill="#ff4242"/>
<rect x="919.3" y="905.0" width="5.3" height="16.6" fill="#ff7a7a" fill-opacity="0.60"/>
<rect x="913.1" y="912.2" width="17.6" height="2.5" fill="#ff9090" fill-opacity="0.32"/>
<rect x="913.1" y="910.4" width="17.6" height="1.5" fill="#ff9090" fill-opacity="0.24"/>
<rect x="932.7" y="922.4" width="23.8" height="23.6" fill="#ff3636"/>
<rect x="948.4" y="922.4" width="8.1" height="23.6" fill="#ff0a0a" fill-opacity="0.85"/>
<rect x="935.1" y="922.4" width="9.5" height="23.6" fill="#ff7a7a" fill-opacity="0.25"/>
<rect x="932.7" y="933.1" width="23.8" height="2.4" fill="#ff9090" fill-opacity="0.38"/>
<rect x="932.7" y="935.9" width="23.8" height="2.5" fill="#ff9090" fill-opacity="0.24"/>
<rect x="957.0" y="946.4" width="17.5" height="18.6" fill="#ff3232"/>
<rect x="964.0" y="946.4" width="3.5" height="18.6" fill="#ff7a7a" fill-opacity="0.50"/>
<rect x="957.0" y="958.8" width="17.5" height="1.7" fill="#ff9090" fill-opacity="0.37"/>
<rect x="957.0" y="954.0" width="17.5" height="2.2" fill="#ff9090" fill-opacity="0.32"/>
</g></g></g>
</g>
<g id="bars" filter="url(#soft2)">
<rect x="976.4" y="53.5" width="5.8" height="134.6" fill="#5555ff"/>
<rect x="976.4" y="191.2" width="2.8" height="318.6" fill="#ff9cf4"/>
<rect x="978.9" y="191.2" width="3.4" height="318.6" fill="#ff3cf6"/>
<rect x="978.4" y="520" width="4.2" height="184" fill="#1e7d1e"/>
<rect x="978.4" y="708" width="4.2" height="257" fill="#a55a2a"/>
</g>
<g id="labels" filter="url(#soft)">
<text x="989.6" y="131.0" font-size="30.0" textLength="313.0" lengthAdjust="spacingAndGlyphs">B cell subpopulations</text>
<text x="991.4" y="352.0" font-size="30.0" textLength="387.6" lengthAdjust="spacingAndGlyphs">CD4 T cell subpopulations</text>
<text x="989.2" y="621.3" font-size="30.0" textLength="387.4" lengthAdjust="spacingAndGlyphs">CD8 T cell subpopulations</text>
<text x="993.2" y="705.0" font-size="30.0" textLength="47.6" lengthAdjust="spacingAndGlyphs">NK</text>
<text x="993.3" y="742.6" font-size="30.0" textLength="66.2" lengthAdjust="spacingAndGlyphs">NKT</text>
<text x="993.3" y="780.8" font-size="30.0" textLength="186.2" lengthAdjust="spacingAndGlyphs">Macrophage</text>
<text x="993.3" y="819.0" font-size="30.0" textLength="191.4" lengthAdjust="spacingAndGlyphs">Dendritic cell</text>
<text x="993.3" y="857.2" font-size="30.0" textLength="132.2" lengthAdjust="spacingAndGlyphs">Mast cell</text>
<text x="993.3" y="895.0" font-size="30.0" textLength="153.2" lengthAdjust="spacingAndGlyphs">Neutrophil</text>
<text x="993.3" y="933.5" font-size="30.0" textLength="154.4" lengthAdjust="spacingAndGlyphs">Eosinophil</text>
<text x="993.3" y="971.6" font-size="30.0" textLength="144.6" lengthAdjust="spacingAndGlyphs">Monocyte</text>
<text x="25.0" y="335.2" font-size="24.5" textLength="163.6" lengthAdjust="spacingAndGlyphs">Immune cells</text>
<text x="15.9" y="508.7" font-size="24.5" textLength="185.1" lengthAdjust="spacingAndGlyphs">Normal tissues</text>
<text x="9.6" y="700.9" font-size="24.5" textLength="203.0" lengthAdjust="spacingAndGlyphs">Cancer cell lines</text>
<text x="344.9" y="510.2" font-size="25.0" textLength="165.6" lengthAdjust="spacingAndGlyphs">Gene filtering</text>
<text x="751.2" y="1177.6" font-size="34.0" textLength="96.9" lengthAdjust="spacingAndGlyphs">GSEA</text>
<text x="419.0" y="1275.0" font-size="34.0" textLength="96.0" lengthAdjust="spacingAndGlyphs">TCGA</text>
<text x="1103.4" y="1271.5" font-size="34.0" textLength="77.6" lengthAdjust="spacingAndGlyphs">TCIA</text>
</g>
</svg></body></html>
